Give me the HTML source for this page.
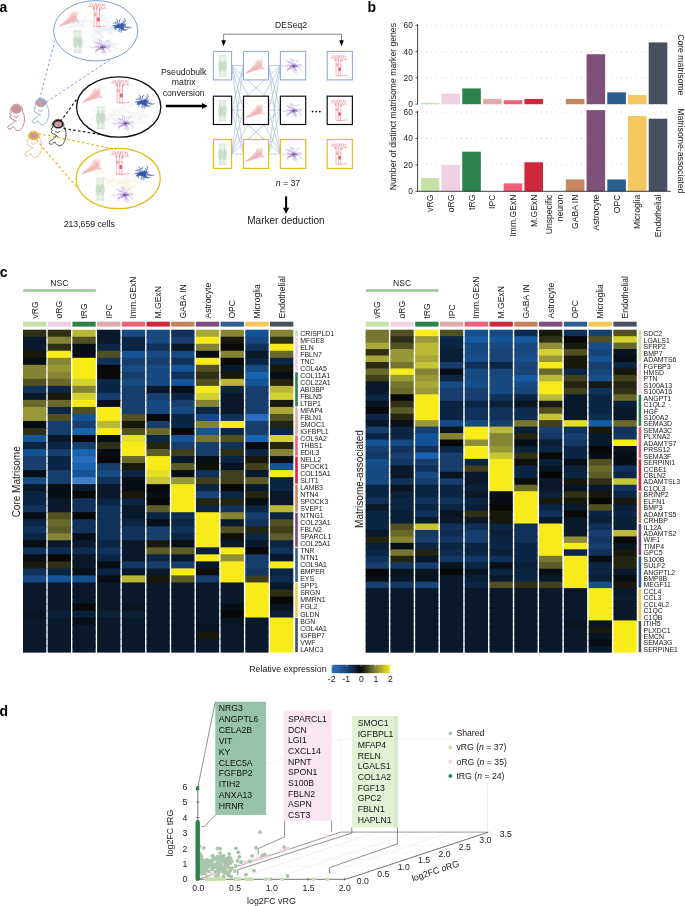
<!DOCTYPE html>
<html lang="en"><head><meta charset="utf-8"><title>Matrisome marker figure</title>
<style>
html,body{margin:0;padding:0;background:#fff;}
body{width:685px;height:906px;overflow:hidden;}
svg{display:block;font-family:"Liberation Sans", sans-serif;}
</style></head><body>
<svg width="685" height="906" viewBox="0 0 685 906">
<rect width="685" height="906" fill="#fff"/>
<text x="-0.60" y="12.00" font-size="14" font-weight="bold" fill="#000">a</text>
<g fill="none" stroke-width="1" stroke-dasharray="2.6 2.3">
<path d="M39.5,99.5 L54.8,41 M46.5,102 L112,58.5" stroke="#7f9fda"/>
<path d="M60.5,121.5 L78,97.5 M63.5,128.5 L101,134.5" stroke="#1a1a1a" stroke-width="1.2"/>
<path d="M38.5,133.5 L116,149.5 M36.5,140 L77.5,188" stroke="#e8bb1e" stroke-width="1.25"/>
</g>
<g fill="#dfe7f4" fill-opacity="0.42" stroke="none"><polygon points="81.2,50.1 79.0,43.4 70.4,38.1 81.7,40.1 88.9,40.0 83.3,43.2"/><polygon points="109.2,25.0 115.0,29.0 124.9,32.4 113.2,32.2 105.8,35.9 110.6,30.7"/><polygon points="98.0,9.6 105.7,16.9 115.4,16.0 107.8,20.0 110.4,28.3 103.1,21.0 94.6,21.7 101.0,18.2"/><polygon points="95.8,50.5 105.6,44.1 109.1,40.1 112.2,44.4 121.2,49.9 109.2,47.1"/><polygon points="93.0,43.4 106.8,42.8 108.9,37.5 111.6,42.0 120.3,44.2 111.2,45.9 107.9,50.9 105.4,45.6"/><polygon points="89.1,42.6 93.7,39.1 89.8,32.1 97.7,37.4 106.1,36.1 99.7,40.1 103.0,46.2 95.9,42.0"/><polygon points="97.3,22.4 100.3,28.5 113.5,28.8 101.3,31.2 100.0,37.8 96.4,31.6 89.7,30.4 96.7,28.8"/><polygon points="67.6,28.2 72.6,23.3 75.4,17.6 79.7,22.9 88.2,28.0 76.5,26.6"/><polygon points="95.5,28.6 106.6,27.8 112.6,25.4 111.8,29.8 112.7,36.9 106.4,30.8"/><polygon points="91.5,34.8 94.8,31.9 90.5,24.5 98.6,30.7 108.8,28.2 101.7,33.0 104.6,39.6 97.1,34.4"/><polygon points="99.1,23.4 84.8,22.5 80.6,30.8 81.1,22.4 69.8,19.5 82.2,20.0 85.6,15.2 86.9,20.0"/></g>
<g transform="translate(70.70 18.30) scale(1.05)" opacity="1.0" fill="none" stroke="#eda3a3" stroke-width="0.3" stroke-linecap="round"><path d="M-10.5,7.2 C-7.5,5 -5.5,3 -4,1.5 C-2.6,0 -1.4,-1.4 -0.5,-2.5 L1.5,-7 L2.6,-4 L4.2,-8 L4.8,-4.2 L6.8,-7.6 L6.4,-2.5 C6.4,-1 6.2,-0.2 6.4,0.6 C7.2,2 8,3 9.2,4.2 C7.6,4 6.6,3.5 5.4,3.2 C4,3.4 2.6,3.8 1,4.4 C-1,5.2 -2.6,5.6 -4,6 C-6,6.6 -8.4,7 -10.5,7.2 Z" fill="#eda3a3" fill-opacity="0.5" stroke="none"/><path d="M-5,4.4 C-2.5,2.2 0,0 1.6,-2.4 L4.4,-3 L5.4,-0.6 C5,1 4,2.2 2,3 C-0.5,3.8 -3,4.2 -5,4.4 Z" fill="#eda3a3" fill-opacity="0.45" stroke="none"/><path d="M-10.4,7.2 Q-3.0,1.2 0.8,-5.6 M-10.6,7.3 Q-2.7,1.5 1.9,-5.1 M-10.0,7.2 Q-2.4,1.9 2.4,-4.0 M-10.2,7.1 Q-2.1,2.2 3.6,-2.8 M-10.3,7.3 Q-1.8,2.5 4.2,-1.4 M-10.1,7.2 Q-1.4,2.8 5.0,-1.3 M-10.1,7.2 Q-1.1,3.2 5.5,-0.4 M-10.2,7.4 Q-0.8,3.5 6.6,1.4 M-10.3,7.4 Q-0.5,3.8 7.1,2.3" stroke-opacity="0.7"/></g>
<g transform="translate(96.70 15.80) scale(1.12)" opacity="1.0" fill="none" stroke="#ea5f6b" stroke-width="0.42" stroke-linecap="round"><path d="M-2.3,-5.5 L-2.3,9.6 L3,9.9 M0.1,-6 L0.1,9.7 M2.5,-5.5 L2.5,4 L2.1,9.8 L8.6,9.1 M-2.3,-5.5 L-5.6,-8.6 L-7.4,-8.2 M-5.6,-8.6 L-6,-10.6 M-2.3,-5.5 L-3.6,-10.4 M-3.1,-8.4 L-4.6,-10.8 M-2.3,-6 L-1.2,-10.8 M0.1,-6 L-0.5,-11 M0.1,-6 L1.5,-10.4 M0.9,-8.6 L2.3,-10.9 M2.5,-5.5 L3.3,-10.4 M2.5,-5.5 L5.4,-9.2 L5.2,-11 M5.4,-9.2 L7.4,-10 M2.5,-5 L6.6,-7 L8.4,-6.6 M6.6,-7 L7.6,-8.8 M-1,-3 L-2.3,-1.4 M1.3,-2 L2.5,-0.8"/><ellipse cx="1.4" cy="3.2" rx="1.35" ry="2" fill="#ea5f6b" stroke="none"/><ellipse cx="-1.1" cy="-0.8" rx="0.8" ry="1.4" fill="#ea5f6b" fill-opacity="0.55" stroke="none"/></g>
<g transform="translate(120.20 26.30) scale(1.0)" opacity="1.0" fill="none" stroke="#3458a8" stroke-width="0.65" stroke-linecap="round" stroke-linejoin="round"><path d="M5.8,1.1 L8.3,0.5 M8.7,1.7 L11.3,1.1 M0,0 L2.9,0.6 L5.8,1.1 L8.7,1.7 M3.5,2.1 L3.2,3.6 M5.0,3.4 L7.1,3.4 M0,0 L1.9,1.0 L3.5,2.1 L5.0,3.4 M2.6,2.4 L2.3,3.7 M3.5,3.7 L5.4,4.1 M0,0 L1.5,1.1 L2.6,2.4 L3.5,3.7 M0,0 L0.4,2.0 L1.3,3.9 L1.1,5.9 M-0.8,3.0 L0.3,4.2 M-1.5,4.5 L-0.5,5.7 M0,0 L-0.5,1.5 L-0.8,3.0 L-1.5,4.5 M-4.6,2.7 L-4.5,3.9 M0,0 L-1.6,0.8 L-3.1,1.7 L-4.6,2.7 M-4.9,1.2 L-5.8,2.0 M0,0 L-1.6,0.5 L-3.3,0.7 L-4.9,1.2 M-4.1,-0.7 L-5.8,0.0 M-6.3,-0.8 L-8.0,-0.2 M0,0 L-2.0,-0.5 L-4.1,-0.7 L-6.3,-0.8 M-2.5,-3.6 L-4.6,-4.6 M-2.6,-5.6 L-3.9,-7.2 M0,0 L-1.7,-1.6 L-2.5,-3.6 L-2.6,-5.6 M-5.0,-3.4 L-7.1,-3.2 M0,0 L-1.7,-1.1 L-3.3,-2.3 L-5.0,-3.4 M-0.8,-5.7 L0.3,-7.3 M0,0 L-0.2,-1.9 L-0.5,-3.8 L-0.8,-5.7 M3.7,-3.9 L2.7,-5.8 M5.0,-6.0 L4.2,-8.0 M0,0 L2.1,-1.8 L3.7,-3.9 L5.0,-6.0 M0,0 L2.1,-0.5 L4.0,-1.2 L5.7,-2.2 M-2.1,-0.7 L-3.2,-0.6 M-3.1,-1.3 L-4.1,-1.3 M0,0 L-1.1,-0.3 L-2.1,-0.7 L-3.1,-1.3 M1.3,-1.3 L1.3,-2.0 M1.7,-2.0 L1.6,-2.7 M0,0 L0.7,-0.6 L1.3,-1.3 L1.7,-2.0 M1.8,1.4 L3.0,1.5 M2.3,2.3 L1.7,3.1 M0,0 L1.0,0.7 L1.8,1.4 L2.3,2.3 M0,0 L0.9,-0.1 L1.9,-0.2 L2.8,-0.4 M0,0 L1.1,0.6 L2.0,1.4 L2.7,2.3 M0,0 L1.1,-0.4 L2.4,-0.5 L3.6,-0.6 M2.0,-1.5 L2.2,-2.4 M0,0 L1.0,-0.7 L2.0,-1.5 L3.0,-2.2 M2.3,-1.6 L3.7,-1.5 M3.6,-2.2 L4.0,-3.2 M0,0 L1.1,-0.8 L2.3,-1.6 L3.6,-2.2 M2.1,1.3 L2.9,1.4 M0,0 L0.6,0.5 L1.4,0.9 L2.1,1.3 M1.6,1.8 L1.2,2.7 M2.5,2.6 L2.6,3.6 M0,0 L0.9,0.8 L1.6,1.8 L2.5,2.6 M-3.3,0.0 L-4.4,-0.7 M-4.9,0.2 L-5.7,1.1 M0,0 L-1.6,0.2 L-3.3,0.0 L-4.9,0.2 M2.0,-0.9 L2.1,-1.7 M2.9,-1.4 L3.9,-1.3 M0,0 L1.0,-0.4 L2.0,-0.9 L2.9,-1.4 M1.6,-1.8 L1.4,-2.8 M2.3,-2.7 L2.0,-3.6 M0,0 L0.7,-1.0 L1.6,-1.8 L2.3,-2.7 M0,0 L-1.0,0.3 L-1.9,0.7 L-2.9,1.0 M1.4,1.0 L2.3,1.1 M2.2,1.5 L3.1,1.3 M0,0 L0.7,0.5 L1.4,1.0 L2.2,1.5 M0,0 L-0.4,-1.0 L-1.1,-1.9 L-1.7,-2.8 M-3.6,0.3 L-5.0,0.9 M0,0 L-1.8,0.3 L-3.6,0.3 L-5.4,-0.1 M1.3,1.6 L0.9,2.5 M1.7,2.6 L2.6,3.1 M0,0 L0.8,0.8 L1.3,1.6 L1.7,2.6 M0,0 L1.7,-0.4 L3.5,-0.7 L5.2,-1.2 M0.9,-1.7 L1.8,-2.1 M0,0 L0.4,-0.8 L0.9,-1.7 L0.9,-2.6 M4.9,0.0 L5.9,0.8 M0,0 L1.6,0.2 L3.3,0.3 L4.9,0.0 M-3.2,1.1 L-4.7,0.6 M-4.8,1.7 L-6.4,1.5 M0,0 L-1.7,0.4 L-3.2,1.1 L-4.8,1.7"/><ellipse cx="0" cy="0" rx="2.9" ry="2.17" fill="#3458a8" stroke="none"/></g>
<g transform="translate(77.70 41.60) scale(1.0)" opacity="1.0" fill="none" stroke="#a6caab" stroke-width="0.4"><path d="M-3.4000000000000004,-10.8 L-3.3,-5 C-4.5,-2 -4.5,3 -3.3,6 L-3.4000000000000004,10.8 M-0.8,-10.8 L-0.9000000000000001,-5 C0.2999999999999998,-2 0.2999999999999998,3 -0.9000000000000001,6 L-0.8,10.8 M-2.1,-10.8 L-2.1,10.8 M0.8,-10.8 L0.9000000000000001,-5 C-0.2999999999999998,-2 -0.2999999999999998,3 0.9000000000000001,6 L0.8,10.8 M3.4000000000000004,-10.8 L3.3,-5 C4.5,-2 4.5,3 3.3,6 L3.4000000000000004,10.8 M2.1,-10.8 L2.1,10.8 M-4.6,-10.6 L4.8,-11.2 M-4.2,10.9 L4.2,10.9"/><ellipse cx="-2.1" cy="0.5" rx="2.1" ry="5.6" fill="#a6caab" fill-opacity="0.5" stroke="none"/><ellipse cx="2.1" cy="0.5" rx="2.1" ry="5.6" fill="#a6caab" fill-opacity="0.5" stroke="none"/></g>
<g transform="translate(102.20 47.30) scale(1.0)" opacity="1.0" fill="none" stroke="#8a63bd" stroke-width="0.3" stroke-linecap="round" stroke-linejoin="round"><path d="M7.7,3.2 L7.2,5.0 M0,0 L3.0,0.5 L5.7,1.6 L7.7,3.2 M6.5,0.2 L8.2,-0.4 M0,0 L2.2,0.2 L4.3,0.3 L6.5,0.2 M1.6,3.1 L3.2,4.1 M2.0,4.7 L4.1,5.3 M0,0 L1.0,1.5 L1.6,3.1 L2.0,4.7 M0.7,4.1 L-1.2,5.5 M1.4,6.2 L3.4,7.5 M0,0 L-0.0,2.1 L0.7,4.1 L1.4,6.2 M-3.5,2.1 L-5.6,2.4 M-4.8,3.4 L-6.9,3.6 M0,0 L-1.8,1.0 L-3.5,2.1 L-4.8,3.4 M-4.4,2.5 L-7.1,2.6 M-6.1,4.1 L-6.3,5.8 M0,0 L-2.5,1.0 L-4.4,2.5 L-6.1,4.1 M-4.1,-0.7 L-5.1,-1.8 M-6.1,-1.2 L-7.8,-0.7 M0,0 L-2.1,-0.2 L-4.1,-0.7 L-6.1,-1.2 M-10.2,0.7 L-12.6,-0.6 M0,0 L-3.4,-0.1 L-6.8,0.3 L-10.2,0.7 M-3.9,-3.2 L-6.5,-4.0 M-5.5,-5.0 L-8.1,-5.7 M0,0 L-2.2,-1.5 L-3.9,-3.2 L-5.5,-5.0 M-2.2,-3.5 L-4.6,-4.0 M-3.0,-5.3 L-2.3,-6.9 M0,0 L-0.9,-1.8 L-2.2,-3.5 L-3.0,-5.3 M-0.5,-4.6 L1.8,-6.0 M-0.9,-6.9 L-3.8,-7.8 M0,0 L-0.1,-2.3 L-0.5,-4.6 L-0.9,-6.9 M3.9,-5.8 L6.3,-6.9 M0,0 L1.7,-1.8 L2.7,-3.8 L3.9,-5.8 M4.3,-1.0 L4.7,-2.4 M6.4,-1.7 L8.4,-1.3 M0,0 L2.2,-0.4 L4.3,-1.0 L6.4,-1.7 M-0.2,2.1 L-1.1,2.3 M0,0 L-0.0,0.7 L0.1,1.4 L-0.2,2.1 M0.9,1.4 L1.9,1.5 M1.1,2.1 L2.0,2.4 M0,0 L0.5,0.7 L0.9,1.4 L1.1,2.1 M-2.2,2.1 L-3.3,2.1 M0,0 L-0.7,0.7 L-1.3,1.4 L-2.2,2.1 M-1.4,-0.4 L-1.7,-0.8 M-2.1,-0.6 L-2.4,-1.0 M0,0 L-0.7,-0.3 L-1.4,-0.4 L-2.1,-0.6 M-1.6,-2.3 L-0.8,-2.9 M0,0 L-0.6,-0.8 L-1.2,-1.5 L-1.6,-2.3 M-3.4,-0.1 L-4.2,-0.5 M0,0 L-1.1,0.1 L-2.3,0.0 L-3.4,-0.1 M0.7,-1.5 L1.6,-1.8 M0.6,-2.3 L1.3,-2.8 M0,0 L0.4,-0.7 L0.7,-1.5 L0.6,-2.3 M1.7,2.3 L2.5,2.9 M0,0 L0.8,0.7 L1.4,1.5 L1.7,2.3 M2.2,-0.3 L2.7,-0.9 M0,0 L1.1,-0.1 L2.2,-0.3 L3.2,-0.6 M2.1,-0.3 L2.8,0.2 M3.1,-0.4 L3.9,-0.0 M0,0 L1.0,-0.1 L2.1,-0.3 L3.1,-0.4 M-2.0,0.8 L-3.0,0.7 M-2.9,1.4 L-3.9,1.2 M0,0 L-0.9,0.5 L-2.0,0.8 L-2.9,1.4 M2.4,-0.3 L3.2,-0.7 M3.5,-0.1 L4.0,0.6 M0,0 L1.2,-0.2 L2.4,-0.3 L3.5,-0.1 M1.4,-1.0 L2.3,-1.1 M2.2,-1.4 L3.1,-1.3 M0,0 L0.8,-0.5 L1.4,-1.0 L2.2,-1.4 M-0.3,1.2 L-0.9,1.6 M-0.2,1.8 L-0.7,2.3 M0,0 L0.0,0.6 L-0.3,1.2 L-0.2,1.8 M1.7,0.2 L2.2,-0.2 M2.5,0.4 L2.7,0.9 M0,0 L0.8,0.1 L1.7,0.2 L2.5,0.4 M-0.0,-1.3 L-0.3,-1.8 M-0.1,-1.9 L0.4,-2.3 M0,0 L-0.2,-0.6 L-0.0,-1.3 L-0.1,-1.9"/><ellipse cx="0" cy="0" rx="1.2" ry="0.90" fill="#6a3fa8" stroke="none"/></g>
<ellipse cx="95.7" cy="30.8" rx="42.1" ry="30.2" fill="none" stroke="#6f92d2" stroke-width="0.9"/>
<g fill="#ececec" fill-opacity="0.42" stroke="none"><polygon points="149.7,125.3 140.6,123.0 127.8,125.8 137.4,120.1 141.3,115.3 142.9,120.8"/><polygon points="90.9,107.0 100.6,111.5 109.4,109.1 103.1,114.2 110.4,121.7 100.0,116.1 88.5,120.4 96.2,113.9"/><polygon points="101.2,125.6 112.5,120.7 110.5,116.0 115.5,119.6 122.7,118.4 116.9,121.5 120.3,127.9 113.9,122.8"/><polygon points="125.3,102.1 125.0,109.4 134.9,113.3 123.1,112.8 118.3,117.2 117.5,112.0 106.1,107.8 120.2,109.4"/><polygon points="126.4,109.9 132.4,113.4 141.7,110.7 135.0,115.4 140.0,122.7 131.2,117.2 122.4,119.2 127.8,114.5"/><polygon points="104.7,115.8 112.1,114.2 113.0,106.6 115.6,114.2 129.5,114.5 116.1,116.4 115.5,125.2 112.4,116.6"/><polygon points="137.3,120.3 137.9,115.6 126.3,111.0 139.5,112.7 143.9,109.9 144.4,113.8 153.6,118.1 142.4,117.2"/><polygon points="100.0,113.6 106.9,113.7 118.4,111.1 110.8,117.1 107.9,124.9 105.3,116.6"/><polygon points="98.2,122.2 108.7,117.4 110.8,111.3 112.4,117.4 121.7,122.7 110.3,119.4"/><polygon points="134.7,99.7 136.6,95.0 136.9,87.1 142.9,94.3 148.0,96.9 141.6,97.8"/><polygon points="149.3,102.2 135.3,103.9 126.3,109.6 131.1,101.9 128.0,95.3 135.0,100.5"/></g>
<g transform="translate(93.70 94.50) scale(1.05)" opacity="1.0" fill="none" stroke="#eda3a3" stroke-width="0.3" stroke-linecap="round"><path d="M-10.5,7.2 C-7.5,5 -5.5,3 -4,1.5 C-2.6,0 -1.4,-1.4 -0.5,-2.5 L1.5,-7 L2.6,-4 L4.2,-8 L4.8,-4.2 L6.8,-7.6 L6.4,-2.5 C6.4,-1 6.2,-0.2 6.4,0.6 C7.2,2 8,3 9.2,4.2 C7.6,4 6.6,3.5 5.4,3.2 C4,3.4 2.6,3.8 1,4.4 C-1,5.2 -2.6,5.6 -4,6 C-6,6.6 -8.4,7 -10.5,7.2 Z" fill="#eda3a3" fill-opacity="0.5" stroke="none"/><path d="M-5,4.4 C-2.5,2.2 0,0 1.6,-2.4 L4.4,-3 L5.4,-0.6 C5,1 4,2.2 2,3 C-0.5,3.8 -3,4.2 -5,4.4 Z" fill="#eda3a3" fill-opacity="0.45" stroke="none"/><path d="M-10.4,7.2 Q-3.0,1.2 0.8,-5.6 M-10.6,7.3 Q-2.7,1.5 1.9,-5.1 M-10.0,7.2 Q-2.4,1.9 2.4,-4.0 M-10.2,7.1 Q-2.1,2.2 3.6,-2.8 M-10.3,7.3 Q-1.8,2.5 4.2,-1.4 M-10.1,7.2 Q-1.4,2.8 5.0,-1.3 M-10.1,7.2 Q-1.1,3.2 5.5,-0.4 M-10.2,7.4 Q-0.8,3.5 6.6,1.4 M-10.3,7.4 Q-0.5,3.8 7.1,2.3" stroke-opacity="0.7"/></g>
<g transform="translate(119.70 92.00) scale(1.12)" opacity="1.0" fill="none" stroke="#ea5f6b" stroke-width="0.42" stroke-linecap="round"><path d="M-2.3,-5.5 L-2.3,9.6 L3,9.9 M0.1,-6 L0.1,9.7 M2.5,-5.5 L2.5,4 L2.1,9.8 L8.6,9.1 M-2.3,-5.5 L-5.6,-8.6 L-7.4,-8.2 M-5.6,-8.6 L-6,-10.6 M-2.3,-5.5 L-3.6,-10.4 M-3.1,-8.4 L-4.6,-10.8 M-2.3,-6 L-1.2,-10.8 M0.1,-6 L-0.5,-11 M0.1,-6 L1.5,-10.4 M0.9,-8.6 L2.3,-10.9 M2.5,-5.5 L3.3,-10.4 M2.5,-5.5 L5.4,-9.2 L5.2,-11 M5.4,-9.2 L7.4,-10 M2.5,-5 L6.6,-7 L8.4,-6.6 M6.6,-7 L7.6,-8.8 M-1,-3 L-2.3,-1.4 M1.3,-2 L2.5,-0.8"/><ellipse cx="1.4" cy="3.2" rx="1.35" ry="2" fill="#ea5f6b" stroke="none"/><ellipse cx="-1.1" cy="-0.8" rx="0.8" ry="1.4" fill="#ea5f6b" fill-opacity="0.55" stroke="none"/></g>
<g transform="translate(143.20 102.50) scale(1.0)" opacity="1.0" fill="none" stroke="#3458a8" stroke-width="0.65" stroke-linecap="round" stroke-linejoin="round"><path d="M5.8,1.1 L8.3,0.5 M8.7,1.7 L11.3,1.1 M0,0 L2.9,0.6 L5.8,1.1 L8.7,1.7 M3.5,2.1 L3.2,3.6 M5.0,3.4 L7.1,3.4 M0,0 L1.9,1.0 L3.5,2.1 L5.0,3.4 M2.6,2.4 L2.3,3.7 M3.5,3.7 L5.4,4.1 M0,0 L1.5,1.1 L2.6,2.4 L3.5,3.7 M0,0 L0.4,2.0 L1.3,3.9 L1.1,5.9 M-0.8,3.0 L0.3,4.2 M-1.5,4.5 L-0.5,5.7 M0,0 L-0.5,1.5 L-0.8,3.0 L-1.5,4.5 M-4.6,2.7 L-4.5,3.9 M0,0 L-1.6,0.8 L-3.1,1.7 L-4.6,2.7 M-4.9,1.2 L-5.8,2.0 M0,0 L-1.6,0.5 L-3.3,0.7 L-4.9,1.2 M-4.1,-0.7 L-5.8,0.0 M-6.3,-0.8 L-8.0,-0.2 M0,0 L-2.0,-0.5 L-4.1,-0.7 L-6.3,-0.8 M-2.5,-3.6 L-4.6,-4.6 M-2.6,-5.6 L-3.9,-7.2 M0,0 L-1.7,-1.6 L-2.5,-3.6 L-2.6,-5.6 M-5.0,-3.4 L-7.1,-3.2 M0,0 L-1.7,-1.1 L-3.3,-2.3 L-5.0,-3.4 M-0.8,-5.7 L0.3,-7.3 M0,0 L-0.2,-1.9 L-0.5,-3.8 L-0.8,-5.7 M3.7,-3.9 L2.7,-5.8 M5.0,-6.0 L4.2,-8.0 M0,0 L2.1,-1.8 L3.7,-3.9 L5.0,-6.0 M0,0 L2.1,-0.5 L4.0,-1.2 L5.7,-2.2 M-2.1,-0.7 L-3.2,-0.6 M-3.1,-1.3 L-4.1,-1.3 M0,0 L-1.1,-0.3 L-2.1,-0.7 L-3.1,-1.3 M1.3,-1.3 L1.3,-2.0 M1.7,-2.0 L1.6,-2.7 M0,0 L0.7,-0.6 L1.3,-1.3 L1.7,-2.0 M1.8,1.4 L3.0,1.5 M2.3,2.3 L1.7,3.1 M0,0 L1.0,0.7 L1.8,1.4 L2.3,2.3 M0,0 L0.9,-0.1 L1.9,-0.2 L2.8,-0.4 M0,0 L1.1,0.6 L2.0,1.4 L2.7,2.3 M0,0 L1.1,-0.4 L2.4,-0.5 L3.6,-0.6 M2.0,-1.5 L2.2,-2.4 M0,0 L1.0,-0.7 L2.0,-1.5 L3.0,-2.2 M2.3,-1.6 L3.7,-1.5 M3.6,-2.2 L4.0,-3.2 M0,0 L1.1,-0.8 L2.3,-1.6 L3.6,-2.2 M2.1,1.3 L2.9,1.4 M0,0 L0.6,0.5 L1.4,0.9 L2.1,1.3 M1.6,1.8 L1.2,2.7 M2.5,2.6 L2.6,3.6 M0,0 L0.9,0.8 L1.6,1.8 L2.5,2.6 M-3.3,0.0 L-4.4,-0.7 M-4.9,0.2 L-5.7,1.1 M0,0 L-1.6,0.2 L-3.3,0.0 L-4.9,0.2 M2.0,-0.9 L2.1,-1.7 M2.9,-1.4 L3.9,-1.3 M0,0 L1.0,-0.4 L2.0,-0.9 L2.9,-1.4 M1.6,-1.8 L1.4,-2.8 M2.3,-2.7 L2.0,-3.6 M0,0 L0.7,-1.0 L1.6,-1.8 L2.3,-2.7 M0,0 L-1.0,0.3 L-1.9,0.7 L-2.9,1.0 M1.4,1.0 L2.3,1.1 M2.2,1.5 L3.1,1.3 M0,0 L0.7,0.5 L1.4,1.0 L2.2,1.5 M0,0 L-0.4,-1.0 L-1.1,-1.9 L-1.7,-2.8 M-3.6,0.3 L-5.0,0.9 M0,0 L-1.8,0.3 L-3.6,0.3 L-5.4,-0.1 M1.3,1.6 L0.9,2.5 M1.7,2.6 L2.6,3.1 M0,0 L0.8,0.8 L1.3,1.6 L1.7,2.6 M0,0 L1.7,-0.4 L3.5,-0.7 L5.2,-1.2 M0.9,-1.7 L1.8,-2.1 M0,0 L0.4,-0.8 L0.9,-1.7 L0.9,-2.6 M4.9,0.0 L5.9,0.8 M0,0 L1.6,0.2 L3.3,0.3 L4.9,0.0 M-3.2,1.1 L-4.7,0.6 M-4.8,1.7 L-6.4,1.5 M0,0 L-1.7,0.4 L-3.2,1.1 L-4.8,1.7"/><ellipse cx="0" cy="0" rx="2.9" ry="2.17" fill="#3458a8" stroke="none"/></g>
<g transform="translate(100.70 117.80) scale(1.0)" opacity="1.0" fill="none" stroke="#a6caab" stroke-width="0.4"><path d="M-3.4000000000000004,-10.8 L-3.3,-5 C-4.5,-2 -4.5,3 -3.3,6 L-3.4000000000000004,10.8 M-0.8,-10.8 L-0.9000000000000001,-5 C0.2999999999999998,-2 0.2999999999999998,3 -0.9000000000000001,6 L-0.8,10.8 M-2.1,-10.8 L-2.1,10.8 M0.8,-10.8 L0.9000000000000001,-5 C-0.2999999999999998,-2 -0.2999999999999998,3 0.9000000000000001,6 L0.8,10.8 M3.4000000000000004,-10.8 L3.3,-5 C4.5,-2 4.5,3 3.3,6 L3.4000000000000004,10.8 M2.1,-10.8 L2.1,10.8 M-4.6,-10.6 L4.8,-11.2 M-4.2,10.9 L4.2,10.9"/><ellipse cx="-2.1" cy="0.5" rx="2.1" ry="5.6" fill="#a6caab" fill-opacity="0.5" stroke="none"/><ellipse cx="2.1" cy="0.5" rx="2.1" ry="5.6" fill="#a6caab" fill-opacity="0.5" stroke="none"/></g>
<g transform="translate(125.20 123.50) scale(1.0)" opacity="1.0" fill="none" stroke="#8a63bd" stroke-width="0.3" stroke-linecap="round" stroke-linejoin="round"><path d="M7.7,3.2 L7.2,5.0 M0,0 L3.0,0.5 L5.7,1.6 L7.7,3.2 M6.5,0.2 L8.2,-0.4 M0,0 L2.2,0.2 L4.3,0.3 L6.5,0.2 M1.6,3.1 L3.2,4.1 M2.0,4.7 L4.1,5.3 M0,0 L1.0,1.5 L1.6,3.1 L2.0,4.7 M0.7,4.1 L-1.2,5.5 M1.4,6.2 L3.4,7.5 M0,0 L-0.0,2.1 L0.7,4.1 L1.4,6.2 M-3.5,2.1 L-5.6,2.4 M-4.8,3.4 L-6.9,3.6 M0,0 L-1.8,1.0 L-3.5,2.1 L-4.8,3.4 M-4.4,2.5 L-7.1,2.6 M-6.1,4.1 L-6.3,5.8 M0,0 L-2.5,1.0 L-4.4,2.5 L-6.1,4.1 M-4.1,-0.7 L-5.1,-1.8 M-6.1,-1.2 L-7.8,-0.7 M0,0 L-2.1,-0.2 L-4.1,-0.7 L-6.1,-1.2 M-10.2,0.7 L-12.6,-0.6 M0,0 L-3.4,-0.1 L-6.8,0.3 L-10.2,0.7 M-3.9,-3.2 L-6.5,-4.0 M-5.5,-5.0 L-8.1,-5.7 M0,0 L-2.2,-1.5 L-3.9,-3.2 L-5.5,-5.0 M-2.2,-3.5 L-4.6,-4.0 M-3.0,-5.3 L-2.3,-6.9 M0,0 L-0.9,-1.8 L-2.2,-3.5 L-3.0,-5.3 M-0.5,-4.6 L1.8,-6.0 M-0.9,-6.9 L-3.8,-7.8 M0,0 L-0.1,-2.3 L-0.5,-4.6 L-0.9,-6.9 M3.9,-5.8 L6.3,-6.9 M0,0 L1.7,-1.8 L2.7,-3.8 L3.9,-5.8 M4.3,-1.0 L4.7,-2.4 M6.4,-1.7 L8.4,-1.3 M0,0 L2.2,-0.4 L4.3,-1.0 L6.4,-1.7 M-0.2,2.1 L-1.1,2.3 M0,0 L-0.0,0.7 L0.1,1.4 L-0.2,2.1 M0.9,1.4 L1.9,1.5 M1.1,2.1 L2.0,2.4 M0,0 L0.5,0.7 L0.9,1.4 L1.1,2.1 M-2.2,2.1 L-3.3,2.1 M0,0 L-0.7,0.7 L-1.3,1.4 L-2.2,2.1 M-1.4,-0.4 L-1.7,-0.8 M-2.1,-0.6 L-2.4,-1.0 M0,0 L-0.7,-0.3 L-1.4,-0.4 L-2.1,-0.6 M-1.6,-2.3 L-0.8,-2.9 M0,0 L-0.6,-0.8 L-1.2,-1.5 L-1.6,-2.3 M-3.4,-0.1 L-4.2,-0.5 M0,0 L-1.1,0.1 L-2.3,0.0 L-3.4,-0.1 M0.7,-1.5 L1.6,-1.8 M0.6,-2.3 L1.3,-2.8 M0,0 L0.4,-0.7 L0.7,-1.5 L0.6,-2.3 M1.7,2.3 L2.5,2.9 M0,0 L0.8,0.7 L1.4,1.5 L1.7,2.3 M2.2,-0.3 L2.7,-0.9 M0,0 L1.1,-0.1 L2.2,-0.3 L3.2,-0.6 M2.1,-0.3 L2.8,0.2 M3.1,-0.4 L3.9,-0.0 M0,0 L1.0,-0.1 L2.1,-0.3 L3.1,-0.4 M-2.0,0.8 L-3.0,0.7 M-2.9,1.4 L-3.9,1.2 M0,0 L-0.9,0.5 L-2.0,0.8 L-2.9,1.4 M2.4,-0.3 L3.2,-0.7 M3.5,-0.1 L4.0,0.6 M0,0 L1.2,-0.2 L2.4,-0.3 L3.5,-0.1 M1.4,-1.0 L2.3,-1.1 M2.2,-1.4 L3.1,-1.3 M0,0 L0.8,-0.5 L1.4,-1.0 L2.2,-1.4 M-0.3,1.2 L-0.9,1.6 M-0.2,1.8 L-0.7,2.3 M0,0 L0.0,0.6 L-0.3,1.2 L-0.2,1.8 M1.7,0.2 L2.2,-0.2 M2.5,0.4 L2.7,0.9 M0,0 L0.8,0.1 L1.7,0.2 L2.5,0.4 M-0.0,-1.3 L-0.3,-1.8 M-0.1,-1.9 L0.4,-2.3 M0,0 L-0.2,-0.6 L-0.0,-1.3 L-0.1,-1.9"/><ellipse cx="0" cy="0" rx="1.2" ry="0.90" fill="#6a3fa8" stroke="none"/></g>
<ellipse cx="118.7" cy="107.0" rx="42.1" ry="30.2" fill="none" stroke="#111" stroke-width="1.3"/>
<g fill="#fbf1dc" fill-opacity="0.42" stroke="none"><polygon points="118.7,178.0 111.9,182.3 115.2,188.8 107.6,184.3 98.7,185.5 105.5,181.2 104.0,176.7 109.6,179.5"/><polygon points="116.3,177.6 122.3,179.7 133.6,175.7 125.2,182.1 131.0,188.7 121.7,184.2 115.8,185.2 118.2,181.7"/><polygon points="128.6,169.3 127.6,174.8 132.8,183.2 122.9,176.6 109.8,175.5 122.6,173.4"/><polygon points="136.3,179.0 132.4,183.0 132.5,188.5 127.1,184.6 119.4,180.6 129.4,180.5"/><polygon points="100.6,177.2 110.5,178.9 115.7,175.2 114.0,180.2 125.3,185.1 112.1,181.9 107.0,186.4 108.2,181.4"/><polygon points="143.8,183.9 131.6,187.2 131.9,194.6 127.5,187.4 114.4,188.2 126.0,184.9 126.6,179.8 129.9,185.0"/><polygon points="131.3,198.5 131.7,194.0 132.4,189.8 137.4,192.6 146.9,194.7 136.7,195.5"/><polygon points="122.7,181.3 127.1,185.6 140.6,185.8 127.4,188.9 128.1,198.0 123.4,189.2 116.8,188.9 122.0,186.6"/><polygon points="97.1,178.1 96.5,173.2 84.0,169.4 98.2,170.5 102.3,165.4 101.5,171.3 114.1,174.5 101.0,173.6"/><polygon points="125.0,170.4 137.2,175.4 147.3,175.2 139.2,178.9 134.3,183.3 134.0,177.8"/><polygon points="152.3,181.6 143.4,182.7 140.7,186.0 138.6,182.5 128.2,180.5 139.9,180.1 142.2,172.8 143.5,179.8"/></g>
<g transform="translate(93.20 166.00) scale(1.05)" opacity="1.0" fill="none" stroke="#eda3a3" stroke-width="0.3" stroke-linecap="round"><path d="M-10.5,7.2 C-7.5,5 -5.5,3 -4,1.5 C-2.6,0 -1.4,-1.4 -0.5,-2.5 L1.5,-7 L2.6,-4 L4.2,-8 L4.8,-4.2 L6.8,-7.6 L6.4,-2.5 C6.4,-1 6.2,-0.2 6.4,0.6 C7.2,2 8,3 9.2,4.2 C7.6,4 6.6,3.5 5.4,3.2 C4,3.4 2.6,3.8 1,4.4 C-1,5.2 -2.6,5.6 -4,6 C-6,6.6 -8.4,7 -10.5,7.2 Z" fill="#eda3a3" fill-opacity="0.5" stroke="none"/><path d="M-5,4.4 C-2.5,2.2 0,0 1.6,-2.4 L4.4,-3 L5.4,-0.6 C5,1 4,2.2 2,3 C-0.5,3.8 -3,4.2 -5,4.4 Z" fill="#eda3a3" fill-opacity="0.45" stroke="none"/><path d="M-10.4,7.2 Q-3.0,1.2 0.8,-5.6 M-10.6,7.3 Q-2.7,1.5 1.9,-5.1 M-10.0,7.2 Q-2.4,1.9 2.4,-4.0 M-10.2,7.1 Q-2.1,2.2 3.6,-2.8 M-10.3,7.3 Q-1.8,2.5 4.2,-1.4 M-10.1,7.2 Q-1.4,2.8 5.0,-1.3 M-10.1,7.2 Q-1.1,3.2 5.5,-0.4 M-10.2,7.4 Q-0.8,3.5 6.6,1.4 M-10.3,7.4 Q-0.5,3.8 7.1,2.3" stroke-opacity="0.7"/></g>
<g transform="translate(119.20 163.50) scale(1.12)" opacity="1.0" fill="none" stroke="#ea5f6b" stroke-width="0.42" stroke-linecap="round"><path d="M-2.3,-5.5 L-2.3,9.6 L3,9.9 M0.1,-6 L0.1,9.7 M2.5,-5.5 L2.5,4 L2.1,9.8 L8.6,9.1 M-2.3,-5.5 L-5.6,-8.6 L-7.4,-8.2 M-5.6,-8.6 L-6,-10.6 M-2.3,-5.5 L-3.6,-10.4 M-3.1,-8.4 L-4.6,-10.8 M-2.3,-6 L-1.2,-10.8 M0.1,-6 L-0.5,-11 M0.1,-6 L1.5,-10.4 M0.9,-8.6 L2.3,-10.9 M2.5,-5.5 L3.3,-10.4 M2.5,-5.5 L5.4,-9.2 L5.2,-11 M5.4,-9.2 L7.4,-10 M2.5,-5 L6.6,-7 L8.4,-6.6 M6.6,-7 L7.6,-8.8 M-1,-3 L-2.3,-1.4 M1.3,-2 L2.5,-0.8"/><ellipse cx="1.4" cy="3.2" rx="1.35" ry="2" fill="#ea5f6b" stroke="none"/><ellipse cx="-1.1" cy="-0.8" rx="0.8" ry="1.4" fill="#ea5f6b" fill-opacity="0.55" stroke="none"/></g>
<g transform="translate(142.70 174.00) scale(1.0)" opacity="1.0" fill="none" stroke="#3458a8" stroke-width="0.65" stroke-linecap="round" stroke-linejoin="round"><path d="M5.8,1.1 L8.3,0.5 M8.7,1.7 L11.3,1.1 M0,0 L2.9,0.6 L5.8,1.1 L8.7,1.7 M3.5,2.1 L3.2,3.6 M5.0,3.4 L7.1,3.4 M0,0 L1.9,1.0 L3.5,2.1 L5.0,3.4 M2.6,2.4 L2.3,3.7 M3.5,3.7 L5.4,4.1 M0,0 L1.5,1.1 L2.6,2.4 L3.5,3.7 M0,0 L0.4,2.0 L1.3,3.9 L1.1,5.9 M-0.8,3.0 L0.3,4.2 M-1.5,4.5 L-0.5,5.7 M0,0 L-0.5,1.5 L-0.8,3.0 L-1.5,4.5 M-4.6,2.7 L-4.5,3.9 M0,0 L-1.6,0.8 L-3.1,1.7 L-4.6,2.7 M-4.9,1.2 L-5.8,2.0 M0,0 L-1.6,0.5 L-3.3,0.7 L-4.9,1.2 M-4.1,-0.7 L-5.8,0.0 M-6.3,-0.8 L-8.0,-0.2 M0,0 L-2.0,-0.5 L-4.1,-0.7 L-6.3,-0.8 M-2.5,-3.6 L-4.6,-4.6 M-2.6,-5.6 L-3.9,-7.2 M0,0 L-1.7,-1.6 L-2.5,-3.6 L-2.6,-5.6 M-5.0,-3.4 L-7.1,-3.2 M0,0 L-1.7,-1.1 L-3.3,-2.3 L-5.0,-3.4 M-0.8,-5.7 L0.3,-7.3 M0,0 L-0.2,-1.9 L-0.5,-3.8 L-0.8,-5.7 M3.7,-3.9 L2.7,-5.8 M5.0,-6.0 L4.2,-8.0 M0,0 L2.1,-1.8 L3.7,-3.9 L5.0,-6.0 M0,0 L2.1,-0.5 L4.0,-1.2 L5.7,-2.2 M-2.1,-0.7 L-3.2,-0.6 M-3.1,-1.3 L-4.1,-1.3 M0,0 L-1.1,-0.3 L-2.1,-0.7 L-3.1,-1.3 M1.3,-1.3 L1.3,-2.0 M1.7,-2.0 L1.6,-2.7 M0,0 L0.7,-0.6 L1.3,-1.3 L1.7,-2.0 M1.8,1.4 L3.0,1.5 M2.3,2.3 L1.7,3.1 M0,0 L1.0,0.7 L1.8,1.4 L2.3,2.3 M0,0 L0.9,-0.1 L1.9,-0.2 L2.8,-0.4 M0,0 L1.1,0.6 L2.0,1.4 L2.7,2.3 M0,0 L1.1,-0.4 L2.4,-0.5 L3.6,-0.6 M2.0,-1.5 L2.2,-2.4 M0,0 L1.0,-0.7 L2.0,-1.5 L3.0,-2.2 M2.3,-1.6 L3.7,-1.5 M3.6,-2.2 L4.0,-3.2 M0,0 L1.1,-0.8 L2.3,-1.6 L3.6,-2.2 M2.1,1.3 L2.9,1.4 M0,0 L0.6,0.5 L1.4,0.9 L2.1,1.3 M1.6,1.8 L1.2,2.7 M2.5,2.6 L2.6,3.6 M0,0 L0.9,0.8 L1.6,1.8 L2.5,2.6 M-3.3,0.0 L-4.4,-0.7 M-4.9,0.2 L-5.7,1.1 M0,0 L-1.6,0.2 L-3.3,0.0 L-4.9,0.2 M2.0,-0.9 L2.1,-1.7 M2.9,-1.4 L3.9,-1.3 M0,0 L1.0,-0.4 L2.0,-0.9 L2.9,-1.4 M1.6,-1.8 L1.4,-2.8 M2.3,-2.7 L2.0,-3.6 M0,0 L0.7,-1.0 L1.6,-1.8 L2.3,-2.7 M0,0 L-1.0,0.3 L-1.9,0.7 L-2.9,1.0 M1.4,1.0 L2.3,1.1 M2.2,1.5 L3.1,1.3 M0,0 L0.7,0.5 L1.4,1.0 L2.2,1.5 M0,0 L-0.4,-1.0 L-1.1,-1.9 L-1.7,-2.8 M-3.6,0.3 L-5.0,0.9 M0,0 L-1.8,0.3 L-3.6,0.3 L-5.4,-0.1 M1.3,1.6 L0.9,2.5 M1.7,2.6 L2.6,3.1 M0,0 L0.8,0.8 L1.3,1.6 L1.7,2.6 M0,0 L1.7,-0.4 L3.5,-0.7 L5.2,-1.2 M0.9,-1.7 L1.8,-2.1 M0,0 L0.4,-0.8 L0.9,-1.7 L0.9,-2.6 M4.9,0.0 L5.9,0.8 M0,0 L1.6,0.2 L3.3,0.3 L4.9,0.0 M-3.2,1.1 L-4.7,0.6 M-4.8,1.7 L-6.4,1.5 M0,0 L-1.7,0.4 L-3.2,1.1 L-4.8,1.7"/><ellipse cx="0" cy="0" rx="2.9" ry="2.17" fill="#3458a8" stroke="none"/></g>
<g transform="translate(100.20 189.30) scale(1.0)" opacity="1.0" fill="none" stroke="#a6caab" stroke-width="0.4"><path d="M-3.4000000000000004,-10.8 L-3.3,-5 C-4.5,-2 -4.5,3 -3.3,6 L-3.4000000000000004,10.8 M-0.8,-10.8 L-0.9000000000000001,-5 C0.2999999999999998,-2 0.2999999999999998,3 -0.9000000000000001,6 L-0.8,10.8 M-2.1,-10.8 L-2.1,10.8 M0.8,-10.8 L0.9000000000000001,-5 C-0.2999999999999998,-2 -0.2999999999999998,3 0.9000000000000001,6 L0.8,10.8 M3.4000000000000004,-10.8 L3.3,-5 C4.5,-2 4.5,3 3.3,6 L3.4000000000000004,10.8 M2.1,-10.8 L2.1,10.8 M-4.6,-10.6 L4.8,-11.2 M-4.2,10.9 L4.2,10.9"/><ellipse cx="-2.1" cy="0.5" rx="2.1" ry="5.6" fill="#a6caab" fill-opacity="0.5" stroke="none"/><ellipse cx="2.1" cy="0.5" rx="2.1" ry="5.6" fill="#a6caab" fill-opacity="0.5" stroke="none"/></g>
<g transform="translate(124.70 195.00) scale(1.0)" opacity="1.0" fill="none" stroke="#8a63bd" stroke-width="0.3" stroke-linecap="round" stroke-linejoin="round"><path d="M7.7,3.2 L7.2,5.0 M0,0 L3.0,0.5 L5.7,1.6 L7.7,3.2 M6.5,0.2 L8.2,-0.4 M0,0 L2.2,0.2 L4.3,0.3 L6.5,0.2 M1.6,3.1 L3.2,4.1 M2.0,4.7 L4.1,5.3 M0,0 L1.0,1.5 L1.6,3.1 L2.0,4.7 M0.7,4.1 L-1.2,5.5 M1.4,6.2 L3.4,7.5 M0,0 L-0.0,2.1 L0.7,4.1 L1.4,6.2 M-3.5,2.1 L-5.6,2.4 M-4.8,3.4 L-6.9,3.6 M0,0 L-1.8,1.0 L-3.5,2.1 L-4.8,3.4 M-4.4,2.5 L-7.1,2.6 M-6.1,4.1 L-6.3,5.8 M0,0 L-2.5,1.0 L-4.4,2.5 L-6.1,4.1 M-4.1,-0.7 L-5.1,-1.8 M-6.1,-1.2 L-7.8,-0.7 M0,0 L-2.1,-0.2 L-4.1,-0.7 L-6.1,-1.2 M-10.2,0.7 L-12.6,-0.6 M0,0 L-3.4,-0.1 L-6.8,0.3 L-10.2,0.7 M-3.9,-3.2 L-6.5,-4.0 M-5.5,-5.0 L-8.1,-5.7 M0,0 L-2.2,-1.5 L-3.9,-3.2 L-5.5,-5.0 M-2.2,-3.5 L-4.6,-4.0 M-3.0,-5.3 L-2.3,-6.9 M0,0 L-0.9,-1.8 L-2.2,-3.5 L-3.0,-5.3 M-0.5,-4.6 L1.8,-6.0 M-0.9,-6.9 L-3.8,-7.8 M0,0 L-0.1,-2.3 L-0.5,-4.6 L-0.9,-6.9 M3.9,-5.8 L6.3,-6.9 M0,0 L1.7,-1.8 L2.7,-3.8 L3.9,-5.8 M4.3,-1.0 L4.7,-2.4 M6.4,-1.7 L8.4,-1.3 M0,0 L2.2,-0.4 L4.3,-1.0 L6.4,-1.7 M-0.2,2.1 L-1.1,2.3 M0,0 L-0.0,0.7 L0.1,1.4 L-0.2,2.1 M0.9,1.4 L1.9,1.5 M1.1,2.1 L2.0,2.4 M0,0 L0.5,0.7 L0.9,1.4 L1.1,2.1 M-2.2,2.1 L-3.3,2.1 M0,0 L-0.7,0.7 L-1.3,1.4 L-2.2,2.1 M-1.4,-0.4 L-1.7,-0.8 M-2.1,-0.6 L-2.4,-1.0 M0,0 L-0.7,-0.3 L-1.4,-0.4 L-2.1,-0.6 M-1.6,-2.3 L-0.8,-2.9 M0,0 L-0.6,-0.8 L-1.2,-1.5 L-1.6,-2.3 M-3.4,-0.1 L-4.2,-0.5 M0,0 L-1.1,0.1 L-2.3,0.0 L-3.4,-0.1 M0.7,-1.5 L1.6,-1.8 M0.6,-2.3 L1.3,-2.8 M0,0 L0.4,-0.7 L0.7,-1.5 L0.6,-2.3 M1.7,2.3 L2.5,2.9 M0,0 L0.8,0.7 L1.4,1.5 L1.7,2.3 M2.2,-0.3 L2.7,-0.9 M0,0 L1.1,-0.1 L2.2,-0.3 L3.2,-0.6 M2.1,-0.3 L2.8,0.2 M3.1,-0.4 L3.9,-0.0 M0,0 L1.0,-0.1 L2.1,-0.3 L3.1,-0.4 M-2.0,0.8 L-3.0,0.7 M-2.9,1.4 L-3.9,1.2 M0,0 L-0.9,0.5 L-2.0,0.8 L-2.9,1.4 M2.4,-0.3 L3.2,-0.7 M3.5,-0.1 L4.0,0.6 M0,0 L1.2,-0.2 L2.4,-0.3 L3.5,-0.1 M1.4,-1.0 L2.3,-1.1 M2.2,-1.4 L3.1,-1.3 M0,0 L0.8,-0.5 L1.4,-1.0 L2.2,-1.4 M-0.3,1.2 L-0.9,1.6 M-0.2,1.8 L-0.7,2.3 M0,0 L0.0,0.6 L-0.3,1.2 L-0.2,1.8 M1.7,0.2 L2.2,-0.2 M2.5,0.4 L2.7,0.9 M0,0 L0.8,0.1 L1.7,0.2 L2.5,0.4 M-0.0,-1.3 L-0.3,-1.8 M-0.1,-1.9 L0.4,-2.3 M0,0 L-0.2,-0.6 L-0.0,-1.3 L-0.1,-1.9"/><ellipse cx="0" cy="0" rx="1.2" ry="0.90" fill="#6a3fa8" stroke="none"/></g>
<ellipse cx="118.2" cy="178.5" rx="42.1" ry="30.2" fill="none" stroke="#e8bb1e" stroke-width="1.3"/>
<g transform="translate(7 104.6)">
<path d="M4.1,7.6 C2.5,3 6,-0.6 9.5,-0.4 C13.5,-0.2 16,3 15.2,6.6 C17,9 18,13 17.3,17 C16.6,21.5 14.5,25.5 11.5,26 C9.5,26.3 7.5,24.5 6.3,22 C5,23.5 3.5,25 1.8,24.3 C0,23.5 0.5,22 2.2,20.8 C3.5,19.8 5.5,19.5 6.5,17.5 L7.8,16 M4.1,7.6 L2.3,9.4 L4,10.6 C3,11.5 2.5,12.5 3.2,13.2 L6,14.8 L9.3,16.8 M7,11.7 L9.3,13 L11.2,11.6" fill="none" stroke="#ad5a60" stroke-width="0.75" stroke-linejoin="round" stroke-linecap="round"/>
<ellipse cx="9.5" cy="4.6" rx="5.2" ry="4.2" fill="#c79395"/>
</g>
<g transform="translate(31.4 98.6)">
<path d="M4.1,7.6 C2.5,3 6,-0.6 9.5,-0.4 C13.5,-0.2 16,3 15.2,6.6 C17,9 18,13 17.3,17 C16.6,21.5 14.5,25.5 11.5,26 C9.5,26.3 7.5,24.5 6.3,22 C5,23.5 3.5,25 1.8,24.3 C0,23.5 0.5,22 2.2,20.8 C3.5,19.8 5.5,19.5 6.5,17.5 L7.8,16 M4.1,7.6 L2.3,9.4 L4,10.6 C3,11.5 2.5,12.5 3.2,13.2 L6,14.8 L9.3,16.8 M7,11.7 L9.3,13 L11.2,11.6" fill="none" stroke="#7b98d6" stroke-width="0.75" stroke-linejoin="round" stroke-linecap="round"/>
<ellipse cx="9.6" cy="4.4" rx="4.6" ry="3.7" fill="#c99a9c" stroke="#7b98d6" stroke-width="0.9"/>
</g>
<g transform="translate(48.5 119.8)">
<path d="M4.1,7.6 C2.5,3 6,-0.6 9.5,-0.4 C13.5,-0.2 16,3 15.2,6.6 C17,9 18,13 17.3,17 C16.6,21.5 14.5,25.5 11.5,26 C9.5,26.3 7.5,24.5 6.3,22 C5,23.5 3.5,25 1.8,24.3 C0,23.5 0.5,22 2.2,20.8 C3.5,19.8 5.5,19.5 6.5,17.5 L7.8,16 M4.1,7.6 L2.3,9.4 L4,10.6 C3,11.5 2.5,12.5 3.2,13.2 L6,14.8 L9.3,16.8 M7,11.7 L9.3,13 L11.2,11.6" fill="none" stroke="#1a1a1a" stroke-width="0.75" stroke-linejoin="round" stroke-linecap="round"/>
<ellipse cx="9.6" cy="4.4" rx="4.6" ry="3.7" fill="#c99a9c" stroke="#111" stroke-width="1.3"/>
</g>
<g transform="translate(24.2 131.4)">
<path d="M4.1,7.6 C2.5,3 6,-0.6 9.5,-0.4 C13.5,-0.2 16,3 15.2,6.6 C17,9 18,13 17.3,17 C16.6,21.5 14.5,25.5 11.5,26 C9.5,26.3 7.5,24.5 6.3,22 C5,23.5 3.5,25 1.8,24.3 C0,23.5 0.5,22 2.2,20.8 C3.5,19.8 5.5,19.5 6.5,17.5 L7.8,16 M4.1,7.6 L2.3,9.4 L4,10.6 C3,11.5 2.5,12.5 3.2,13.2 L6,14.8 L9.3,16.8 M7,11.7 L9.3,13 L11.2,11.6" fill="none" stroke="#eab070" stroke-width="0.75" stroke-linejoin="round" stroke-linecap="round"/>
<ellipse cx="9.6" cy="4.4" rx="4.6" ry="3.7" fill="#c99a9c" stroke="#e8bb1e" stroke-width="1.4"/>
</g>
<text x="89.30" y="227.40" font-size="8.7" text-anchor="middle" fill="#1a1a1a">213,659 cells</text>
<text x="183.70" y="74.90" font-size="8.7" text-anchor="middle" fill="#1a1a1a">Pseudobulk</text>
<text x="183.70" y="85.40" font-size="8.7" text-anchor="middle" fill="#1a1a1a">matrix</text>
<text x="183.70" y="95.90" font-size="8.7" text-anchor="middle" fill="#1a1a1a">conversion</text>
<path d="M165.8,106 L203,106" stroke="#000" stroke-width="2.4" fill="none"/><path d="M207.8,106 L202,103.1 L202,108.9 Z" fill="#000"/>
<text x="291.00" y="27.50" font-size="8.6" text-anchor="middle" fill="#1a1a1a">DESeq2</text>
<path d="M223.6,41 L223.6,34.2 L341.5,34.2 L341.5,41" stroke="#555" stroke-width="0.7" fill="none"/>
<path d="M221.29999999999998,40.2 L225.9,40.2 L223.6,46.2 Z" fill="#000"/>
<path d="M339.2,40.2 L343.8,40.2 L341.5,46.2 Z" fill="#000"/>
<path d="M231.6,65.5 L243.5,65.5 M231.6,65.5 L243.5,110.2 M231.6,65.5 L243.5,154 M231.6,110.2 L243.5,65.5 M231.6,110.2 L243.5,110.2 M231.6,110.2 L243.5,154 M231.6,154 L243.5,65.5 M231.6,154 L243.5,110.2 M231.6,154 L243.5,154 M268.5,65.5 L280.4,65.5 M268.5,65.5 L280.4,110.2 M268.5,65.5 L280.4,154 M268.5,110.2 L280.4,65.5 M268.5,110.2 L280.4,110.2 M268.5,110.2 L280.4,154 M268.5,154 L280.4,65.5 M268.5,154 L280.4,110.2 M268.5,154 L280.4,154 M231.6,65.5 L280.4,110.2 M231.6,65.5 L280.4,154 M231.6,110.2 L280.4,65.5 M231.6,110.2 L280.4,154 M231.6,154 L280.4,65.5 M231.6,154 L280.4,110.2" stroke="#a3b8dc" stroke-width="0.65" fill="none"/>
<rect x="213.4" y="51.4" width="18.2" height="28.5" fill="#fff" stroke="#8fa6d8" stroke-width="1.05"/>
<g transform="translate(222.50 65.95) scale(0.95)" opacity="1.0" fill="none" stroke="#a6caab" stroke-width="0.4"><path d="M-3.4000000000000004,-10.8 L-3.3,-5 C-4.5,-2 -4.5,3 -3.3,6 L-3.4000000000000004,10.8 M-0.8,-10.8 L-0.9000000000000001,-5 C0.2999999999999998,-2 0.2999999999999998,3 -0.9000000000000001,6 L-0.8,10.8 M-2.1,-10.8 L-2.1,10.8 M0.8,-10.8 L0.9000000000000001,-5 C-0.2999999999999998,-2 -0.2999999999999998,3 0.9000000000000001,6 L0.8,10.8 M3.4000000000000004,-10.8 L3.3,-5 C4.5,-2 4.5,3 3.3,6 L3.4000000000000004,10.8 M2.1,-10.8 L2.1,10.8 M-4.6,-10.6 L4.8,-11.2 M-4.2,10.9 L4.2,10.9"/><ellipse cx="-2.1" cy="0.5" rx="2.1" ry="5.6" fill="#a6caab" fill-opacity="0.5" stroke="none"/><ellipse cx="2.1" cy="0.5" rx="2.1" ry="5.6" fill="#a6caab" fill-opacity="0.5" stroke="none"/></g>
<rect x="243.5" y="51.4" width="25.0" height="28.5" fill="#fff" stroke="#8fa6d8" stroke-width="1.05"/>
<g transform="translate(256.30 65.85) scale(0.97)" opacity="1.0" fill="none" stroke="#eda3a3" stroke-width="0.3" stroke-linecap="round"><path d="M-10.5,7.2 C-7.5,5 -5.5,3 -4,1.5 C-2.6,0 -1.4,-1.4 -0.5,-2.5 L1.5,-7 L2.6,-4 L4.2,-8 L4.8,-4.2 L6.8,-7.6 L6.4,-2.5 C6.4,-1 6.2,-0.2 6.4,0.6 C7.2,2 8,3 9.2,4.2 C7.6,4 6.6,3.5 5.4,3.2 C4,3.4 2.6,3.8 1,4.4 C-1,5.2 -2.6,5.6 -4,6 C-6,6.6 -8.4,7 -10.5,7.2 Z" fill="#eda3a3" fill-opacity="0.5" stroke="none"/><path d="M-5,4.4 C-2.5,2.2 0,0 1.6,-2.4 L4.4,-3 L5.4,-0.6 C5,1 4,2.2 2,3 C-0.5,3.8 -3,4.2 -5,4.4 Z" fill="#eda3a3" fill-opacity="0.45" stroke="none"/><path d="M-10.4,7.2 Q-3.0,1.2 0.8,-5.6 M-10.6,7.3 Q-2.7,1.5 1.9,-5.1 M-10.0,7.2 Q-2.4,1.9 2.4,-4.0 M-10.2,7.1 Q-2.1,2.2 3.6,-2.8 M-10.3,7.3 Q-1.8,2.5 4.2,-1.4 M-10.1,7.2 Q-1.4,2.8 5.0,-1.3 M-10.1,7.2 Q-1.1,3.2 5.5,-0.4 M-10.2,7.4 Q-0.8,3.5 6.6,1.4 M-10.3,7.4 Q-0.5,3.8 7.1,2.3" stroke-opacity="0.7"/></g>
<rect x="280.4" y="51.4" width="25.3" height="28.5" fill="#fff" stroke="#8fa6d8" stroke-width="1.05"/>
<g transform="translate(293.55 66.15) scale(0.95)" opacity="1.0" fill="none" stroke="#8a63bd" stroke-width="0.3" stroke-linecap="round" stroke-linejoin="round"><path d="M7.7,3.2 L7.2,5.0 M0,0 L3.0,0.5 L5.7,1.6 L7.7,3.2 M6.5,0.2 L8.2,-0.4 M0,0 L2.2,0.2 L4.3,0.3 L6.5,0.2 M1.6,3.1 L3.2,4.1 M2.0,4.7 L4.1,5.3 M0,0 L1.0,1.5 L1.6,3.1 L2.0,4.7 M0.7,4.1 L-1.2,5.5 M1.4,6.2 L3.4,7.5 M0,0 L-0.0,2.1 L0.7,4.1 L1.4,6.2 M-3.5,2.1 L-5.6,2.4 M-4.8,3.4 L-6.9,3.6 M0,0 L-1.8,1.0 L-3.5,2.1 L-4.8,3.4 M-4.4,2.5 L-7.1,2.6 M-6.1,4.1 L-6.3,5.8 M0,0 L-2.5,1.0 L-4.4,2.5 L-6.1,4.1 M-4.1,-0.7 L-5.1,-1.8 M-6.1,-1.2 L-7.8,-0.7 M0,0 L-2.1,-0.2 L-4.1,-0.7 L-6.1,-1.2 M-10.2,0.7 L-12.6,-0.6 M0,0 L-3.4,-0.1 L-6.8,0.3 L-10.2,0.7 M-3.9,-3.2 L-6.5,-4.0 M-5.5,-5.0 L-8.1,-5.7 M0,0 L-2.2,-1.5 L-3.9,-3.2 L-5.5,-5.0 M-2.2,-3.5 L-4.6,-4.0 M-3.0,-5.3 L-2.3,-6.9 M0,0 L-0.9,-1.8 L-2.2,-3.5 L-3.0,-5.3 M-0.5,-4.6 L1.8,-6.0 M-0.9,-6.9 L-3.8,-7.8 M0,0 L-0.1,-2.3 L-0.5,-4.6 L-0.9,-6.9 M3.9,-5.8 L6.3,-6.9 M0,0 L1.7,-1.8 L2.7,-3.8 L3.9,-5.8 M4.3,-1.0 L4.7,-2.4 M6.4,-1.7 L8.4,-1.3 M0,0 L2.2,-0.4 L4.3,-1.0 L6.4,-1.7 M-0.2,2.1 L-1.1,2.3 M0,0 L-0.0,0.7 L0.1,1.4 L-0.2,2.1 M0.9,1.4 L1.9,1.5 M1.1,2.1 L2.0,2.4 M0,0 L0.5,0.7 L0.9,1.4 L1.1,2.1 M-2.2,2.1 L-3.3,2.1 M0,0 L-0.7,0.7 L-1.3,1.4 L-2.2,2.1 M-1.4,-0.4 L-1.7,-0.8 M-2.1,-0.6 L-2.4,-1.0 M0,0 L-0.7,-0.3 L-1.4,-0.4 L-2.1,-0.6 M-1.6,-2.3 L-0.8,-2.9 M0,0 L-0.6,-0.8 L-1.2,-1.5 L-1.6,-2.3 M-3.4,-0.1 L-4.2,-0.5 M0,0 L-1.1,0.1 L-2.3,0.0 L-3.4,-0.1 M0.7,-1.5 L1.6,-1.8 M0.6,-2.3 L1.3,-2.8 M0,0 L0.4,-0.7 L0.7,-1.5 L0.6,-2.3 M1.7,2.3 L2.5,2.9 M0,0 L0.8,0.7 L1.4,1.5 L1.7,2.3 M2.2,-0.3 L2.7,-0.9 M0,0 L1.1,-0.1 L2.2,-0.3 L3.2,-0.6 M2.1,-0.3 L2.8,0.2 M3.1,-0.4 L3.9,-0.0 M0,0 L1.0,-0.1 L2.1,-0.3 L3.1,-0.4 M-2.0,0.8 L-3.0,0.7 M-2.9,1.4 L-3.9,1.2 M0,0 L-0.9,0.5 L-2.0,0.8 L-2.9,1.4 M2.4,-0.3 L3.2,-0.7 M3.5,-0.1 L4.0,0.6 M0,0 L1.2,-0.2 L2.4,-0.3 L3.5,-0.1 M1.4,-1.0 L2.3,-1.1 M2.2,-1.4 L3.1,-1.3 M0,0 L0.8,-0.5 L1.4,-1.0 L2.2,-1.4 M-0.3,1.2 L-0.9,1.6 M-0.2,1.8 L-0.7,2.3 M0,0 L0.0,0.6 L-0.3,1.2 L-0.2,1.8 M1.7,0.2 L2.2,-0.2 M2.5,0.4 L2.7,0.9 M0,0 L0.8,0.1 L1.7,0.2 L2.5,0.4 M-0.0,-1.3 L-0.3,-1.8 M-0.1,-1.9 L0.4,-2.3 M0,0 L-0.2,-0.6 L-0.0,-1.3 L-0.1,-1.9"/><ellipse cx="0" cy="0" rx="1.2" ry="0.90" fill="#6a3fa8" stroke="none"/></g>
<rect x="327.2" y="51.4" width="25.2" height="28.5" fill="#fff" stroke="#8fa6d8" stroke-width="1.05"/>
<g transform="translate(338.30 66.15) scale(1.0)" opacity="1.0" fill="none" stroke="#ea5f6b" stroke-width="0.42" stroke-linecap="round"><path d="M-2.3,-5.5 L-2.3,9.6 L3,9.9 M0.1,-6 L0.1,9.7 M2.5,-5.5 L2.5,4 L2.1,9.8 L8.6,9.1 M-2.3,-5.5 L-5.6,-8.6 L-7.4,-8.2 M-5.6,-8.6 L-6,-10.6 M-2.3,-5.5 L-3.6,-10.4 M-3.1,-8.4 L-4.6,-10.8 M-2.3,-6 L-1.2,-10.8 M0.1,-6 L-0.5,-11 M0.1,-6 L1.5,-10.4 M0.9,-8.6 L2.3,-10.9 M2.5,-5.5 L3.3,-10.4 M2.5,-5.5 L5.4,-9.2 L5.2,-11 M5.4,-9.2 L7.4,-10 M2.5,-5 L6.6,-7 L8.4,-6.6 M6.6,-7 L7.6,-8.8 M-1,-3 L-2.3,-1.4 M1.3,-2 L2.5,-0.8"/><ellipse cx="1.4" cy="3.2" rx="1.35" ry="2" fill="#ea5f6b" stroke="none"/><ellipse cx="-1.1" cy="-0.8" rx="0.8" ry="1.4" fill="#ea5f6b" fill-opacity="0.55" stroke="none"/></g>
<rect x="213.4" y="96.2" width="18.2" height="28.3" fill="#fff" stroke="#111" stroke-width="1.2"/>
<g transform="translate(222.50 110.65) scale(0.95)" opacity="1.0" fill="none" stroke="#a6caab" stroke-width="0.4"><path d="M-3.4000000000000004,-10.8 L-3.3,-5 C-4.5,-2 -4.5,3 -3.3,6 L-3.4000000000000004,10.8 M-0.8,-10.8 L-0.9000000000000001,-5 C0.2999999999999998,-2 0.2999999999999998,3 -0.9000000000000001,6 L-0.8,10.8 M-2.1,-10.8 L-2.1,10.8 M0.8,-10.8 L0.9000000000000001,-5 C-0.2999999999999998,-2 -0.2999999999999998,3 0.9000000000000001,6 L0.8,10.8 M3.4000000000000004,-10.8 L3.3,-5 C4.5,-2 4.5,3 3.3,6 L3.4000000000000004,10.8 M2.1,-10.8 L2.1,10.8 M-4.6,-10.6 L4.8,-11.2 M-4.2,10.9 L4.2,10.9"/><ellipse cx="-2.1" cy="0.5" rx="2.1" ry="5.6" fill="#a6caab" fill-opacity="0.5" stroke="none"/><ellipse cx="2.1" cy="0.5" rx="2.1" ry="5.6" fill="#a6caab" fill-opacity="0.5" stroke="none"/></g>
<rect x="243.5" y="96.2" width="25.0" height="28.3" fill="#fff" stroke="#111" stroke-width="1.2"/>
<g transform="translate(256.30 110.55) scale(0.97)" opacity="1.0" fill="none" stroke="#eda3a3" stroke-width="0.3" stroke-linecap="round"><path d="M-10.5,7.2 C-7.5,5 -5.5,3 -4,1.5 C-2.6,0 -1.4,-1.4 -0.5,-2.5 L1.5,-7 L2.6,-4 L4.2,-8 L4.8,-4.2 L6.8,-7.6 L6.4,-2.5 C6.4,-1 6.2,-0.2 6.4,0.6 C7.2,2 8,3 9.2,4.2 C7.6,4 6.6,3.5 5.4,3.2 C4,3.4 2.6,3.8 1,4.4 C-1,5.2 -2.6,5.6 -4,6 C-6,6.6 -8.4,7 -10.5,7.2 Z" fill="#eda3a3" fill-opacity="0.5" stroke="none"/><path d="M-5,4.4 C-2.5,2.2 0,0 1.6,-2.4 L4.4,-3 L5.4,-0.6 C5,1 4,2.2 2,3 C-0.5,3.8 -3,4.2 -5,4.4 Z" fill="#eda3a3" fill-opacity="0.45" stroke="none"/><path d="M-10.4,7.2 Q-3.0,1.2 0.8,-5.6 M-10.6,7.3 Q-2.7,1.5 1.9,-5.1 M-10.0,7.2 Q-2.4,1.9 2.4,-4.0 M-10.2,7.1 Q-2.1,2.2 3.6,-2.8 M-10.3,7.3 Q-1.8,2.5 4.2,-1.4 M-10.1,7.2 Q-1.4,2.8 5.0,-1.3 M-10.1,7.2 Q-1.1,3.2 5.5,-0.4 M-10.2,7.4 Q-0.8,3.5 6.6,1.4 M-10.3,7.4 Q-0.5,3.8 7.1,2.3" stroke-opacity="0.7"/></g>
<rect x="280.4" y="96.2" width="25.3" height="28.3" fill="#fff" stroke="#111" stroke-width="1.2"/>
<g transform="translate(293.55 110.85) scale(0.95)" opacity="1.0" fill="none" stroke="#8a63bd" stroke-width="0.3" stroke-linecap="round" stroke-linejoin="round"><path d="M7.7,3.2 L7.2,5.0 M0,0 L3.0,0.5 L5.7,1.6 L7.7,3.2 M6.5,0.2 L8.2,-0.4 M0,0 L2.2,0.2 L4.3,0.3 L6.5,0.2 M1.6,3.1 L3.2,4.1 M2.0,4.7 L4.1,5.3 M0,0 L1.0,1.5 L1.6,3.1 L2.0,4.7 M0.7,4.1 L-1.2,5.5 M1.4,6.2 L3.4,7.5 M0,0 L-0.0,2.1 L0.7,4.1 L1.4,6.2 M-3.5,2.1 L-5.6,2.4 M-4.8,3.4 L-6.9,3.6 M0,0 L-1.8,1.0 L-3.5,2.1 L-4.8,3.4 M-4.4,2.5 L-7.1,2.6 M-6.1,4.1 L-6.3,5.8 M0,0 L-2.5,1.0 L-4.4,2.5 L-6.1,4.1 M-4.1,-0.7 L-5.1,-1.8 M-6.1,-1.2 L-7.8,-0.7 M0,0 L-2.1,-0.2 L-4.1,-0.7 L-6.1,-1.2 M-10.2,0.7 L-12.6,-0.6 M0,0 L-3.4,-0.1 L-6.8,0.3 L-10.2,0.7 M-3.9,-3.2 L-6.5,-4.0 M-5.5,-5.0 L-8.1,-5.7 M0,0 L-2.2,-1.5 L-3.9,-3.2 L-5.5,-5.0 M-2.2,-3.5 L-4.6,-4.0 M-3.0,-5.3 L-2.3,-6.9 M0,0 L-0.9,-1.8 L-2.2,-3.5 L-3.0,-5.3 M-0.5,-4.6 L1.8,-6.0 M-0.9,-6.9 L-3.8,-7.8 M0,0 L-0.1,-2.3 L-0.5,-4.6 L-0.9,-6.9 M3.9,-5.8 L6.3,-6.9 M0,0 L1.7,-1.8 L2.7,-3.8 L3.9,-5.8 M4.3,-1.0 L4.7,-2.4 M6.4,-1.7 L8.4,-1.3 M0,0 L2.2,-0.4 L4.3,-1.0 L6.4,-1.7 M-0.2,2.1 L-1.1,2.3 M0,0 L-0.0,0.7 L0.1,1.4 L-0.2,2.1 M0.9,1.4 L1.9,1.5 M1.1,2.1 L2.0,2.4 M0,0 L0.5,0.7 L0.9,1.4 L1.1,2.1 M-2.2,2.1 L-3.3,2.1 M0,0 L-0.7,0.7 L-1.3,1.4 L-2.2,2.1 M-1.4,-0.4 L-1.7,-0.8 M-2.1,-0.6 L-2.4,-1.0 M0,0 L-0.7,-0.3 L-1.4,-0.4 L-2.1,-0.6 M-1.6,-2.3 L-0.8,-2.9 M0,0 L-0.6,-0.8 L-1.2,-1.5 L-1.6,-2.3 M-3.4,-0.1 L-4.2,-0.5 M0,0 L-1.1,0.1 L-2.3,0.0 L-3.4,-0.1 M0.7,-1.5 L1.6,-1.8 M0.6,-2.3 L1.3,-2.8 M0,0 L0.4,-0.7 L0.7,-1.5 L0.6,-2.3 M1.7,2.3 L2.5,2.9 M0,0 L0.8,0.7 L1.4,1.5 L1.7,2.3 M2.2,-0.3 L2.7,-0.9 M0,0 L1.1,-0.1 L2.2,-0.3 L3.2,-0.6 M2.1,-0.3 L2.8,0.2 M3.1,-0.4 L3.9,-0.0 M0,0 L1.0,-0.1 L2.1,-0.3 L3.1,-0.4 M-2.0,0.8 L-3.0,0.7 M-2.9,1.4 L-3.9,1.2 M0,0 L-0.9,0.5 L-2.0,0.8 L-2.9,1.4 M2.4,-0.3 L3.2,-0.7 M3.5,-0.1 L4.0,0.6 M0,0 L1.2,-0.2 L2.4,-0.3 L3.5,-0.1 M1.4,-1.0 L2.3,-1.1 M2.2,-1.4 L3.1,-1.3 M0,0 L0.8,-0.5 L1.4,-1.0 L2.2,-1.4 M-0.3,1.2 L-0.9,1.6 M-0.2,1.8 L-0.7,2.3 M0,0 L0.0,0.6 L-0.3,1.2 L-0.2,1.8 M1.7,0.2 L2.2,-0.2 M2.5,0.4 L2.7,0.9 M0,0 L0.8,0.1 L1.7,0.2 L2.5,0.4 M-0.0,-1.3 L-0.3,-1.8 M-0.1,-1.9 L0.4,-2.3 M0,0 L-0.2,-0.6 L-0.0,-1.3 L-0.1,-1.9"/><ellipse cx="0" cy="0" rx="1.2" ry="0.90" fill="#6a3fa8" stroke="none"/></g>
<rect x="327.2" y="96.2" width="25.2" height="28.3" fill="#fff" stroke="#111" stroke-width="1.2"/>
<g transform="translate(338.30 110.85) scale(1.0)" opacity="1.0" fill="none" stroke="#ea5f6b" stroke-width="0.42" stroke-linecap="round"><path d="M-2.3,-5.5 L-2.3,9.6 L3,9.9 M0.1,-6 L0.1,9.7 M2.5,-5.5 L2.5,4 L2.1,9.8 L8.6,9.1 M-2.3,-5.5 L-5.6,-8.6 L-7.4,-8.2 M-5.6,-8.6 L-6,-10.6 M-2.3,-5.5 L-3.6,-10.4 M-3.1,-8.4 L-4.6,-10.8 M-2.3,-6 L-1.2,-10.8 M0.1,-6 L-0.5,-11 M0.1,-6 L1.5,-10.4 M0.9,-8.6 L2.3,-10.9 M2.5,-5.5 L3.3,-10.4 M2.5,-5.5 L5.4,-9.2 L5.2,-11 M5.4,-9.2 L7.4,-10 M2.5,-5 L6.6,-7 L8.4,-6.6 M6.6,-7 L7.6,-8.8 M-1,-3 L-2.3,-1.4 M1.3,-2 L2.5,-0.8"/><ellipse cx="1.4" cy="3.2" rx="1.35" ry="2" fill="#ea5f6b" stroke="none"/><ellipse cx="-1.1" cy="-0.8" rx="0.8" ry="1.4" fill="#ea5f6b" fill-opacity="0.55" stroke="none"/></g>
<rect x="213.4" y="139.5" width="18.2" height="28.9" fill="#fff" stroke="#e8bb1e" stroke-width="1.2"/>
<g transform="translate(222.50 154.25) scale(0.95)" opacity="1.0" fill="none" stroke="#a6caab" stroke-width="0.4"><path d="M-3.4000000000000004,-10.8 L-3.3,-5 C-4.5,-2 -4.5,3 -3.3,6 L-3.4000000000000004,10.8 M-0.8,-10.8 L-0.9000000000000001,-5 C0.2999999999999998,-2 0.2999999999999998,3 -0.9000000000000001,6 L-0.8,10.8 M-2.1,-10.8 L-2.1,10.8 M0.8,-10.8 L0.9000000000000001,-5 C-0.2999999999999998,-2 -0.2999999999999998,3 0.9000000000000001,6 L0.8,10.8 M3.4000000000000004,-10.8 L3.3,-5 C4.5,-2 4.5,3 3.3,6 L3.4000000000000004,10.8 M2.1,-10.8 L2.1,10.8 M-4.6,-10.6 L4.8,-11.2 M-4.2,10.9 L4.2,10.9"/><ellipse cx="-2.1" cy="0.5" rx="2.1" ry="5.6" fill="#a6caab" fill-opacity="0.5" stroke="none"/><ellipse cx="2.1" cy="0.5" rx="2.1" ry="5.6" fill="#a6caab" fill-opacity="0.5" stroke="none"/></g>
<rect x="243.5" y="139.5" width="25.0" height="28.9" fill="#fff" stroke="#e8bb1e" stroke-width="1.2"/>
<g transform="translate(256.30 154.15) scale(0.97)" opacity="1.0" fill="none" stroke="#eda3a3" stroke-width="0.3" stroke-linecap="round"><path d="M-10.5,7.2 C-7.5,5 -5.5,3 -4,1.5 C-2.6,0 -1.4,-1.4 -0.5,-2.5 L1.5,-7 L2.6,-4 L4.2,-8 L4.8,-4.2 L6.8,-7.6 L6.4,-2.5 C6.4,-1 6.2,-0.2 6.4,0.6 C7.2,2 8,3 9.2,4.2 C7.6,4 6.6,3.5 5.4,3.2 C4,3.4 2.6,3.8 1,4.4 C-1,5.2 -2.6,5.6 -4,6 C-6,6.6 -8.4,7 -10.5,7.2 Z" fill="#eda3a3" fill-opacity="0.5" stroke="none"/><path d="M-5,4.4 C-2.5,2.2 0,0 1.6,-2.4 L4.4,-3 L5.4,-0.6 C5,1 4,2.2 2,3 C-0.5,3.8 -3,4.2 -5,4.4 Z" fill="#eda3a3" fill-opacity="0.45" stroke="none"/><path d="M-10.4,7.2 Q-3.0,1.2 0.8,-5.6 M-10.6,7.3 Q-2.7,1.5 1.9,-5.1 M-10.0,7.2 Q-2.4,1.9 2.4,-4.0 M-10.2,7.1 Q-2.1,2.2 3.6,-2.8 M-10.3,7.3 Q-1.8,2.5 4.2,-1.4 M-10.1,7.2 Q-1.4,2.8 5.0,-1.3 M-10.1,7.2 Q-1.1,3.2 5.5,-0.4 M-10.2,7.4 Q-0.8,3.5 6.6,1.4 M-10.3,7.4 Q-0.5,3.8 7.1,2.3" stroke-opacity="0.7"/></g>
<rect x="280.4" y="139.5" width="25.3" height="28.9" fill="#fff" stroke="#e8bb1e" stroke-width="1.2"/>
<g transform="translate(293.55 154.45) scale(0.95)" opacity="1.0" fill="none" stroke="#8a63bd" stroke-width="0.3" stroke-linecap="round" stroke-linejoin="round"><path d="M7.7,3.2 L7.2,5.0 M0,0 L3.0,0.5 L5.7,1.6 L7.7,3.2 M6.5,0.2 L8.2,-0.4 M0,0 L2.2,0.2 L4.3,0.3 L6.5,0.2 M1.6,3.1 L3.2,4.1 M2.0,4.7 L4.1,5.3 M0,0 L1.0,1.5 L1.6,3.1 L2.0,4.7 M0.7,4.1 L-1.2,5.5 M1.4,6.2 L3.4,7.5 M0,0 L-0.0,2.1 L0.7,4.1 L1.4,6.2 M-3.5,2.1 L-5.6,2.4 M-4.8,3.4 L-6.9,3.6 M0,0 L-1.8,1.0 L-3.5,2.1 L-4.8,3.4 M-4.4,2.5 L-7.1,2.6 M-6.1,4.1 L-6.3,5.8 M0,0 L-2.5,1.0 L-4.4,2.5 L-6.1,4.1 M-4.1,-0.7 L-5.1,-1.8 M-6.1,-1.2 L-7.8,-0.7 M0,0 L-2.1,-0.2 L-4.1,-0.7 L-6.1,-1.2 M-10.2,0.7 L-12.6,-0.6 M0,0 L-3.4,-0.1 L-6.8,0.3 L-10.2,0.7 M-3.9,-3.2 L-6.5,-4.0 M-5.5,-5.0 L-8.1,-5.7 M0,0 L-2.2,-1.5 L-3.9,-3.2 L-5.5,-5.0 M-2.2,-3.5 L-4.6,-4.0 M-3.0,-5.3 L-2.3,-6.9 M0,0 L-0.9,-1.8 L-2.2,-3.5 L-3.0,-5.3 M-0.5,-4.6 L1.8,-6.0 M-0.9,-6.9 L-3.8,-7.8 M0,0 L-0.1,-2.3 L-0.5,-4.6 L-0.9,-6.9 M3.9,-5.8 L6.3,-6.9 M0,0 L1.7,-1.8 L2.7,-3.8 L3.9,-5.8 M4.3,-1.0 L4.7,-2.4 M6.4,-1.7 L8.4,-1.3 M0,0 L2.2,-0.4 L4.3,-1.0 L6.4,-1.7 M-0.2,2.1 L-1.1,2.3 M0,0 L-0.0,0.7 L0.1,1.4 L-0.2,2.1 M0.9,1.4 L1.9,1.5 M1.1,2.1 L2.0,2.4 M0,0 L0.5,0.7 L0.9,1.4 L1.1,2.1 M-2.2,2.1 L-3.3,2.1 M0,0 L-0.7,0.7 L-1.3,1.4 L-2.2,2.1 M-1.4,-0.4 L-1.7,-0.8 M-2.1,-0.6 L-2.4,-1.0 M0,0 L-0.7,-0.3 L-1.4,-0.4 L-2.1,-0.6 M-1.6,-2.3 L-0.8,-2.9 M0,0 L-0.6,-0.8 L-1.2,-1.5 L-1.6,-2.3 M-3.4,-0.1 L-4.2,-0.5 M0,0 L-1.1,0.1 L-2.3,0.0 L-3.4,-0.1 M0.7,-1.5 L1.6,-1.8 M0.6,-2.3 L1.3,-2.8 M0,0 L0.4,-0.7 L0.7,-1.5 L0.6,-2.3 M1.7,2.3 L2.5,2.9 M0,0 L0.8,0.7 L1.4,1.5 L1.7,2.3 M2.2,-0.3 L2.7,-0.9 M0,0 L1.1,-0.1 L2.2,-0.3 L3.2,-0.6 M2.1,-0.3 L2.8,0.2 M3.1,-0.4 L3.9,-0.0 M0,0 L1.0,-0.1 L2.1,-0.3 L3.1,-0.4 M-2.0,0.8 L-3.0,0.7 M-2.9,1.4 L-3.9,1.2 M0,0 L-0.9,0.5 L-2.0,0.8 L-2.9,1.4 M2.4,-0.3 L3.2,-0.7 M3.5,-0.1 L4.0,0.6 M0,0 L1.2,-0.2 L2.4,-0.3 L3.5,-0.1 M1.4,-1.0 L2.3,-1.1 M2.2,-1.4 L3.1,-1.3 M0,0 L0.8,-0.5 L1.4,-1.0 L2.2,-1.4 M-0.3,1.2 L-0.9,1.6 M-0.2,1.8 L-0.7,2.3 M0,0 L0.0,0.6 L-0.3,1.2 L-0.2,1.8 M1.7,0.2 L2.2,-0.2 M2.5,0.4 L2.7,0.9 M0,0 L0.8,0.1 L1.7,0.2 L2.5,0.4 M-0.0,-1.3 L-0.3,-1.8 M-0.1,-1.9 L0.4,-2.3 M0,0 L-0.2,-0.6 L-0.0,-1.3 L-0.1,-1.9"/><ellipse cx="0" cy="0" rx="1.2" ry="0.90" fill="#6a3fa8" stroke="none"/></g>
<rect x="327.2" y="139.5" width="25.2" height="28.9" fill="#fff" stroke="#e8bb1e" stroke-width="1.2"/>
<g transform="translate(338.30 154.45) scale(1.0)" opacity="1.0" fill="none" stroke="#ea5f6b" stroke-width="0.42" stroke-linecap="round"><path d="M-2.3,-5.5 L-2.3,9.6 L3,9.9 M0.1,-6 L0.1,9.7 M2.5,-5.5 L2.5,4 L2.1,9.8 L8.6,9.1 M-2.3,-5.5 L-5.6,-8.6 L-7.4,-8.2 M-5.6,-8.6 L-6,-10.6 M-2.3,-5.5 L-3.6,-10.4 M-3.1,-8.4 L-4.6,-10.8 M-2.3,-6 L-1.2,-10.8 M0.1,-6 L-0.5,-11 M0.1,-6 L1.5,-10.4 M0.9,-8.6 L2.3,-10.9 M2.5,-5.5 L3.3,-10.4 M2.5,-5.5 L5.4,-9.2 L5.2,-11 M5.4,-9.2 L7.4,-10 M2.5,-5 L6.6,-7 L8.4,-6.6 M6.6,-7 L7.6,-8.8 M-1,-3 L-2.3,-1.4 M1.3,-2 L2.5,-0.8"/><ellipse cx="1.4" cy="3.2" rx="1.35" ry="2" fill="#ea5f6b" stroke="none"/><ellipse cx="-1.1" cy="-0.8" rx="0.8" ry="1.4" fill="#ea5f6b" fill-opacity="0.55" stroke="none"/></g>
<circle cx="312.6" cy="111.6" r="0.9" fill="#000"/>
<circle cx="316.2" cy="111.6" r="0.9" fill="#000"/>
<circle cx="319.8" cy="111.6" r="0.9" fill="#000"/>
<text x="288" y="186.4" font-size="8.7" text-anchor="middle" fill="#1a1a1a"><tspan font-style="italic">n</tspan> = 37</text>
<path d="M286.1,196.3 L286.1,209.5" stroke="#000" stroke-width="2" fill="none"/><path d="M286.1,214 L283,207.8 L289.2,207.8 Z" fill="#000"/>
<text x="285.90" y="223.90" font-size="10" text-anchor="middle" fill="#1a1a1a">Marker deduction</text>
<text x="367.60" y="12.00" font-size="14" font-weight="bold" fill="#000">b</text>
<path d="M421,77.90 L670,77.90" stroke="#c9c9c9" stroke-width="0.8" stroke-dasharray="0.9 4.1" fill="none"/>
<path d="M421,51.60 L670,51.60" stroke="#c9c9c9" stroke-width="0.8" stroke-dasharray="0.9 4.1" fill="none"/>
<path d="M421,25.30 L670,25.30" stroke="#c9c9c9" stroke-width="0.8" stroke-dasharray="0.9 4.1" fill="none"/>
<path d="M421,104.20 L670,104.20" stroke="#c9c9c9" stroke-width="0.8" stroke-dasharray="0.9 4.1" fill="none"/>
<rect x="420.80" y="102.89" width="18.6" height="1.31" fill="#c5e0a8"/>
<rect x="441.52" y="93.68" width="18.6" height="10.52" fill="#f2d0e4"/>
<rect x="462.24" y="88.42" width="18.6" height="15.78" fill="#2d824b"/>
<rect x="482.96" y="98.94" width="18.6" height="5.26" fill="#e1aaaa"/>
<rect x="503.68" y="100.26" width="18.6" height="3.94" fill="#f05f78"/>
<rect x="524.40" y="98.94" width="18.6" height="5.26" fill="#cd283c"/>
<rect x="565.84" y="98.94" width="18.6" height="5.26" fill="#c8875f"/>
<rect x="586.56" y="54.23" width="18.6" height="49.97" fill="#80507d"/>
<rect x="607.28" y="92.37" width="18.6" height="11.83" fill="#2d5f8c"/>
<rect x="628.00" y="95.00" width="18.6" height="9.21" fill="#f2c85f"/>
<rect x="648.72" y="42.40" width="18.6" height="61.80" fill="#48505f"/>
<path d="M417.6,24.10 L417.6,104.20" stroke="#111" stroke-width="0.8" fill="none"/>
<path d="M415.4,104.20 L417.6,104.20" stroke="#111" stroke-width="0.7"/>
<text x="412.80" y="107.10" font-size="8.3" text-anchor="end" fill="#1a1a1a">0</text>
<path d="M415.4,77.90 L417.6,77.90" stroke="#111" stroke-width="0.7"/>
<text x="412.80" y="80.80" font-size="8.3" text-anchor="end" fill="#1a1a1a">20</text>
<path d="M415.4,51.60 L417.6,51.60" stroke="#111" stroke-width="0.7"/>
<text x="412.80" y="54.50" font-size="8.3" text-anchor="end" fill="#1a1a1a">40</text>
<path d="M415.4,25.30 L417.6,25.30" stroke="#111" stroke-width="0.7"/>
<text x="412.80" y="28.20" font-size="8.3" text-anchor="end" fill="#1a1a1a">60</text>
<path d="M421,164.90 L670,164.90" stroke="#c9c9c9" stroke-width="0.8" stroke-dasharray="0.9 4.1" fill="none"/>
<path d="M421,138.50 L670,138.50" stroke="#c9c9c9" stroke-width="0.8" stroke-dasharray="0.9 4.1" fill="none"/>
<path d="M421,112.10 L670,112.10" stroke="#c9c9c9" stroke-width="0.8" stroke-dasharray="0.9 4.1" fill="none"/>
<rect x="420.80" y="178.10" width="18.6" height="13.20" fill="#c5e0a8"/>
<rect x="441.52" y="164.90" width="18.6" height="26.40" fill="#f2d0e4"/>
<rect x="462.24" y="151.70" width="18.6" height="39.60" fill="#2d824b"/>
<rect x="503.68" y="183.38" width="18.6" height="7.92" fill="#f05f78"/>
<rect x="524.40" y="162.26" width="18.6" height="29.04" fill="#cd283c"/>
<rect x="565.84" y="179.42" width="18.6" height="11.88" fill="#c8875f"/>
<rect x="586.56" y="110.12" width="18.6" height="81.18" fill="#80507d"/>
<rect x="607.28" y="179.42" width="18.6" height="11.88" fill="#2d5f8c"/>
<rect x="628.00" y="116.06" width="18.6" height="75.24" fill="#f2c85f"/>
<rect x="648.72" y="118.70" width="18.6" height="72.60" fill="#48505f"/>
<path d="M417.6,110.90 L417.6,191.30" stroke="#111" stroke-width="0.8" fill="none"/>
<path d="M415.4,191.30 L417.6,191.30" stroke="#111" stroke-width="0.7"/>
<text x="412.80" y="194.20" font-size="8.3" text-anchor="end" fill="#1a1a1a">0</text>
<path d="M415.4,164.90 L417.6,164.90" stroke="#111" stroke-width="0.7"/>
<text x="412.80" y="167.80" font-size="8.3" text-anchor="end" fill="#1a1a1a">20</text>
<path d="M415.4,138.50 L417.6,138.50" stroke="#111" stroke-width="0.7"/>
<text x="412.80" y="141.40" font-size="8.3" text-anchor="end" fill="#1a1a1a">40</text>
<path d="M415.4,112.10 L417.6,112.10" stroke="#111" stroke-width="0.7"/>
<text x="412.80" y="115.00" font-size="8.3" text-anchor="end" fill="#1a1a1a">60</text>
<path d="M417.2,191.3 L670.8,191.3" stroke="#111" stroke-width="0.8"/>
<text transform="translate(396.20 106.70) rotate(-90)" font-size="8.63" text-anchor="middle" fill="#1a1a1a">Number of distinct matrisome marker genes</text>
<text transform="translate(677.60 64.80) rotate(90)" font-size="8.6" text-anchor="middle" fill="#1a1a1a">Core matrisome</text>
<text transform="translate(677.60 150.80) rotate(90)" font-size="8.7" text-anchor="middle" fill="#1a1a1a">Matrisome-associated</text>
<text transform="translate(433.10 194.60) rotate(-90)" font-size="8.6" text-anchor="end" fill="#1a1a1a">vRG</text>
<text transform="translate(453.82 194.60) rotate(-90)" font-size="8.6" text-anchor="end" fill="#1a1a1a">oRG</text>
<text transform="translate(474.54 194.60) rotate(-90)" font-size="8.6" text-anchor="end" fill="#1a1a1a">tRG</text>
<text transform="translate(495.26 194.60) rotate(-90)" font-size="8.6" text-anchor="end" fill="#1a1a1a">IPC</text>
<text transform="translate(515.98 194.60) rotate(-90)" font-size="8.6" text-anchor="end" fill="#1a1a1a">Imm.GExN</text>
<text transform="translate(536.70 194.60) rotate(-90)" font-size="8.6" text-anchor="end" fill="#1a1a1a">M.GExN</text>
<text transform="translate(551.82 194.60) rotate(-90)" font-size="8.6" text-anchor="end" fill="#1a1a1a">Unspecific</text>
<text transform="translate(563.02 194.60) rotate(-90)" font-size="8.6" text-anchor="end" fill="#1a1a1a">neuron</text>
<text transform="translate(578.14 194.60) rotate(-90)" font-size="8.6" text-anchor="end" fill="#1a1a1a">GABA IN</text>
<text transform="translate(598.86 194.60) rotate(-90)" font-size="8.6" text-anchor="end" fill="#1a1a1a">Astrocyte</text>
<text transform="translate(619.58 194.60) rotate(-90)" font-size="8.6" text-anchor="end" fill="#1a1a1a">OPC</text>
<text transform="translate(640.30 194.60) rotate(-90)" font-size="8.6" text-anchor="end" fill="#1a1a1a">Microglia</text>
<text transform="translate(661.02 194.60) rotate(-90)" font-size="8.6" text-anchor="end" fill="#1a1a1a">Endothelial</text>
<text x="-0.20" y="277.40" font-size="14" font-weight="bold" fill="#000">c</text>
<rect x="23.00" y="321.7" width="23.3" height="4.9" fill="#c5e0a8"/>
<text transform="translate(37.65 318.60) rotate(-90)" font-size="8.6" fill="#1a1a1a">vRG</text>
<rect x="47.70" y="321.7" width="23.3" height="4.9" fill="#f2d0e4"/>
<text transform="translate(62.35 318.60) rotate(-90)" font-size="8.6" fill="#1a1a1a">oRG</text>
<rect x="72.40" y="321.7" width="23.3" height="4.9" fill="#2d824b"/>
<text transform="translate(87.05 318.60) rotate(-90)" font-size="8.6" fill="#1a1a1a">tRG</text>
<rect x="97.10" y="321.7" width="23.3" height="4.9" fill="#e1aaaa"/>
<text transform="translate(111.75 318.60) rotate(-90)" font-size="8.6" fill="#1a1a1a">IPC</text>
<rect x="121.80" y="321.7" width="23.3" height="4.9" fill="#f05f78"/>
<text transform="translate(136.45 318.60) rotate(-90)" font-size="8.6" fill="#1a1a1a">Imm.GExN</text>
<rect x="146.50" y="321.7" width="23.3" height="4.9" fill="#cd283c"/>
<text transform="translate(161.15 318.60) rotate(-90)" font-size="8.6" fill="#1a1a1a">M.GExN</text>
<rect x="171.20" y="321.7" width="23.3" height="4.9" fill="#c8825a"/>
<text transform="translate(185.85 318.60) rotate(-90)" font-size="8.6" fill="#1a1a1a">GABA IN</text>
<rect x="195.90" y="321.7" width="23.3" height="4.9" fill="#7d4b7d"/>
<text transform="translate(210.55 318.60) rotate(-90)" font-size="8.6" fill="#1a1a1a">Astrocyte</text>
<rect x="220.60" y="321.7" width="23.3" height="4.9" fill="#2d5f91"/>
<text transform="translate(235.25 318.60) rotate(-90)" font-size="8.6" fill="#1a1a1a">OPC</text>
<rect x="245.30" y="321.7" width="23.3" height="4.9" fill="#f2c85a"/>
<text transform="translate(259.95 318.60) rotate(-90)" font-size="8.6" fill="#1a1a1a">Microglia</text>
<rect x="270.00" y="321.7" width="23.3" height="4.9" fill="#48505f"/>
<text transform="translate(284.65 318.60) rotate(-90)" font-size="8.6" fill="#1a1a1a">Endothelial</text>
<rect x="23.30" y="289.2" width="72.40" height="2.6" fill="#a3c4a0"/>
<text x="59.35" y="285.80" font-size="8.6" text-anchor="middle" fill="#1a1a1a">NSC</text>
<rect x="23.00" y="329.70" width="23.3" height="8.02" fill="#303017"/>
<rect x="23.00" y="336.72" width="23.3" height="8.02" fill="#09192b"/>
<rect x="23.00" y="343.74" width="23.3" height="8.02" fill="#09192b"/>
<rect x="23.00" y="350.76" width="23.3" height="8.02" fill="#18180d"/>
<rect x="23.00" y="357.78" width="23.3" height="8.02" fill="#080e16"/>
<rect x="23.00" y="364.80" width="23.3" height="8.02" fill="#848434"/>
<rect x="23.00" y="371.82" width="23.3" height="8.02" fill="#848434"/>
<rect x="23.00" y="378.84" width="23.3" height="8.02" fill="#505023"/>
<rect x="23.00" y="385.86" width="23.3" height="8.02" fill="#10325a"/>
<rect x="23.00" y="392.88" width="23.3" height="8.02" fill="#09192b"/>
<rect x="23.00" y="399.90" width="23.3" height="8.02" fill="#69692c"/>
<rect x="23.00" y="406.92" width="23.3" height="8.02" fill="#989839"/>
<rect x="23.00" y="413.94" width="23.3" height="8.02" fill="#989839"/>
<rect x="23.00" y="420.96" width="23.3" height="8.02" fill="#080e16"/>
<rect x="23.00" y="427.98" width="23.3" height="8.02" fill="#303017"/>
<rect x="23.00" y="435.00" width="23.3" height="8.02" fill="#145496"/>
<rect x="23.00" y="442.02" width="23.3" height="8.02" fill="#0a2644"/>
<rect x="23.00" y="449.04" width="23.3" height="8.02" fill="#145496"/>
<rect x="23.00" y="456.06" width="23.3" height="8.02" fill="#183e6e"/>
<rect x="23.00" y="463.08" width="23.3" height="8.02" fill="#183e6e"/>
<rect x="23.00" y="470.10" width="23.3" height="8.02" fill="#080e16"/>
<rect x="23.00" y="477.12" width="23.3" height="8.02" fill="#174a83"/>
<rect x="23.00" y="484.14" width="23.3" height="8.02" fill="#09192b"/>
<rect x="23.00" y="491.16" width="23.3" height="8.02" fill="#0a2644"/>
<rect x="23.00" y="498.18" width="23.3" height="8.02" fill="#0a2644"/>
<rect x="23.00" y="505.20" width="23.3" height="8.02" fill="#10325a"/>
<rect x="23.00" y="512.22" width="23.3" height="8.02" fill="#080e16"/>
<rect x="23.00" y="519.24" width="23.3" height="8.02" fill="#0a2644"/>
<rect x="23.00" y="526.26" width="23.3" height="8.02" fill="#10325a"/>
<rect x="23.00" y="533.28" width="23.3" height="8.02" fill="#0a2644"/>
<rect x="23.00" y="540.30" width="23.3" height="8.02" fill="#080e16"/>
<rect x="23.00" y="547.32" width="23.3" height="8.02" fill="#10325a"/>
<rect x="23.00" y="554.34" width="23.3" height="8.02" fill="#080e16"/>
<rect x="23.00" y="561.36" width="23.3" height="8.02" fill="#18180d"/>
<rect x="23.00" y="568.38" width="23.3" height="8.02" fill="#10325a"/>
<rect x="23.00" y="575.40" width="23.3" height="8.02" fill="#174a83"/>
<rect x="23.00" y="582.42" width="23.3" height="8.02" fill="#09192b"/>
<rect x="23.00" y="589.44" width="23.3" height="8.02" fill="#09192b"/>
<rect x="23.00" y="596.46" width="23.3" height="8.02" fill="#09192b"/>
<rect x="23.00" y="603.48" width="23.3" height="8.02" fill="#09192b"/>
<rect x="23.00" y="610.50" width="23.3" height="8.02" fill="#081420"/>
<rect x="23.00" y="617.52" width="23.3" height="8.02" fill="#09192b"/>
<rect x="23.00" y="624.54" width="23.3" height="8.02" fill="#09192b"/>
<rect x="23.00" y="631.56" width="23.3" height="8.02" fill="#09192b"/>
<rect x="23.00" y="638.58" width="23.3" height="8.02" fill="#09192b"/>
<rect x="23.00" y="645.60" width="23.3" height="7.02" fill="#09192b"/>
<rect x="47.70" y="329.70" width="23.3" height="8.02" fill="#303017"/>
<rect x="47.70" y="336.72" width="23.3" height="8.02" fill="#848434"/>
<rect x="47.70" y="343.74" width="23.3" height="8.02" fill="#303017"/>
<rect x="47.70" y="350.76" width="23.3" height="8.02" fill="#f7ec19"/>
<rect x="47.70" y="357.78" width="23.3" height="8.02" fill="#848434"/>
<rect x="47.70" y="364.80" width="23.3" height="8.02" fill="#989839"/>
<rect x="47.70" y="371.82" width="23.3" height="8.02" fill="#848434"/>
<rect x="47.70" y="378.84" width="23.3" height="8.02" fill="#69692c"/>
<rect x="47.70" y="385.86" width="23.3" height="8.02" fill="#0a2644"/>
<rect x="47.70" y="392.88" width="23.3" height="8.02" fill="#18180d"/>
<rect x="47.70" y="399.90" width="23.3" height="8.02" fill="#69692c"/>
<rect x="47.70" y="406.92" width="23.3" height="8.02" fill="#0a2644"/>
<rect x="47.70" y="413.94" width="23.3" height="8.02" fill="#505023"/>
<rect x="47.70" y="420.96" width="23.3" height="8.02" fill="#183e6e"/>
<rect x="47.70" y="427.98" width="23.3" height="8.02" fill="#183e6e"/>
<rect x="47.70" y="435.00" width="23.3" height="8.02" fill="#09192b"/>
<rect x="47.70" y="442.02" width="23.3" height="8.02" fill="#0a2644"/>
<rect x="47.70" y="449.04" width="23.3" height="8.02" fill="#183e6e"/>
<rect x="47.70" y="456.06" width="23.3" height="8.02" fill="#0a2644"/>
<rect x="47.70" y="463.08" width="23.3" height="8.02" fill="#0a2644"/>
<rect x="47.70" y="470.10" width="23.3" height="8.02" fill="#183e6e"/>
<rect x="47.70" y="477.12" width="23.3" height="8.02" fill="#183e6e"/>
<rect x="47.70" y="484.14" width="23.3" height="8.02" fill="#080e16"/>
<rect x="47.70" y="491.16" width="23.3" height="8.02" fill="#080e16"/>
<rect x="47.70" y="498.18" width="23.3" height="8.02" fill="#09192b"/>
<rect x="47.70" y="505.20" width="23.3" height="8.02" fill="#09192b"/>
<rect x="47.70" y="512.22" width="23.3" height="8.02" fill="#505023"/>
<rect x="47.70" y="519.24" width="23.3" height="8.02" fill="#69692c"/>
<rect x="47.70" y="526.26" width="23.3" height="8.02" fill="#5c5c28"/>
<rect x="47.70" y="533.28" width="23.3" height="8.02" fill="#848434"/>
<rect x="47.70" y="540.30" width="23.3" height="8.02" fill="#09192b"/>
<rect x="47.70" y="547.32" width="23.3" height="8.02" fill="#0d2c4f"/>
<rect x="47.70" y="554.34" width="23.3" height="8.02" fill="#080808"/>
<rect x="47.70" y="561.36" width="23.3" height="8.02" fill="#303017"/>
<rect x="47.70" y="568.38" width="23.3" height="8.02" fill="#0a2644"/>
<rect x="47.70" y="575.40" width="23.3" height="8.02" fill="#145496"/>
<rect x="47.70" y="582.42" width="23.3" height="8.02" fill="#09192b"/>
<rect x="47.70" y="589.44" width="23.3" height="8.02" fill="#09192b"/>
<rect x="47.70" y="596.46" width="23.3" height="8.02" fill="#09192b"/>
<rect x="47.70" y="603.48" width="23.3" height="8.02" fill="#09192b"/>
<rect x="47.70" y="610.50" width="23.3" height="8.02" fill="#0a2038"/>
<rect x="47.70" y="617.52" width="23.3" height="8.02" fill="#09192b"/>
<rect x="47.70" y="624.54" width="23.3" height="8.02" fill="#09192b"/>
<rect x="47.70" y="631.56" width="23.3" height="8.02" fill="#09192b"/>
<rect x="47.70" y="638.58" width="23.3" height="8.02" fill="#09192b"/>
<rect x="47.70" y="645.60" width="23.3" height="7.02" fill="#09192b"/>
<rect x="72.40" y="329.70" width="23.3" height="8.02" fill="#b9b937"/>
<rect x="72.40" y="336.72" width="23.3" height="8.02" fill="#505023"/>
<rect x="72.40" y="343.74" width="23.3" height="8.02" fill="#080e16"/>
<rect x="72.40" y="350.76" width="23.3" height="8.02" fill="#080e16"/>
<rect x="72.40" y="357.78" width="23.3" height="8.02" fill="#f7ec19"/>
<rect x="72.40" y="364.80" width="23.3" height="8.02" fill="#f7ec19"/>
<rect x="72.40" y="371.82" width="23.3" height="8.02" fill="#f7ec19"/>
<rect x="72.40" y="378.84" width="23.3" height="8.02" fill="#d4d230"/>
<rect x="72.40" y="385.86" width="23.3" height="8.02" fill="#848434"/>
<rect x="72.40" y="392.88" width="23.3" height="8.02" fill="#d4d230"/>
<rect x="72.40" y="399.90" width="23.3" height="8.02" fill="#f7ec19"/>
<rect x="72.40" y="406.92" width="23.3" height="8.02" fill="#505023"/>
<rect x="72.40" y="413.94" width="23.3" height="8.02" fill="#145496"/>
<rect x="72.40" y="420.96" width="23.3" height="8.02" fill="#183e6e"/>
<rect x="72.40" y="427.98" width="23.3" height="8.02" fill="#1862af"/>
<rect x="72.40" y="435.00" width="23.3" height="8.02" fill="#080808"/>
<rect x="72.40" y="442.02" width="23.3" height="8.02" fill="#183e6e"/>
<rect x="72.40" y="449.04" width="23.3" height="8.02" fill="#1862af"/>
<rect x="72.40" y="456.06" width="23.3" height="8.02" fill="#286cbc"/>
<rect x="72.40" y="463.08" width="23.3" height="8.02" fill="#1862af"/>
<rect x="72.40" y="470.10" width="23.3" height="8.02" fill="#145496"/>
<rect x="72.40" y="477.12" width="23.3" height="8.02" fill="#3e80ca"/>
<rect x="72.40" y="484.14" width="23.3" height="8.02" fill="#09192b"/>
<rect x="72.40" y="491.16" width="23.3" height="8.02" fill="#080808"/>
<rect x="72.40" y="498.18" width="23.3" height="8.02" fill="#10325a"/>
<rect x="72.40" y="505.20" width="23.3" height="8.02" fill="#10325a"/>
<rect x="72.40" y="512.22" width="23.3" height="8.02" fill="#080808"/>
<rect x="72.40" y="519.24" width="23.3" height="8.02" fill="#10325a"/>
<rect x="72.40" y="526.26" width="23.3" height="8.02" fill="#10325a"/>
<rect x="72.40" y="533.28" width="23.3" height="8.02" fill="#080e16"/>
<rect x="72.40" y="540.30" width="23.3" height="8.02" fill="#09192b"/>
<rect x="72.40" y="547.32" width="23.3" height="8.02" fill="#0d2c4f"/>
<rect x="72.40" y="554.34" width="23.3" height="8.02" fill="#09192b"/>
<rect x="72.40" y="561.36" width="23.3" height="8.02" fill="#09192b"/>
<rect x="72.40" y="568.38" width="23.3" height="8.02" fill="#080e16"/>
<rect x="72.40" y="575.40" width="23.3" height="8.02" fill="#164f8c"/>
<rect x="72.40" y="582.42" width="23.3" height="8.02" fill="#09192b"/>
<rect x="72.40" y="589.44" width="23.3" height="8.02" fill="#09192b"/>
<rect x="72.40" y="596.46" width="23.3" height="8.02" fill="#09192b"/>
<rect x="72.40" y="603.48" width="23.3" height="8.02" fill="#080808"/>
<rect x="72.40" y="610.50" width="23.3" height="8.02" fill="#0a213a"/>
<rect x="72.40" y="617.52" width="23.3" height="8.02" fill="#080e16"/>
<rect x="72.40" y="624.54" width="23.3" height="8.02" fill="#09192b"/>
<rect x="72.40" y="631.56" width="23.3" height="8.02" fill="#09192b"/>
<rect x="72.40" y="638.58" width="23.3" height="8.02" fill="#09192b"/>
<rect x="72.40" y="645.60" width="23.3" height="7.02" fill="#09192b"/>
<rect x="97.10" y="329.70" width="23.3" height="8.02" fill="#09192b"/>
<rect x="97.10" y="336.72" width="23.3" height="8.02" fill="#09192b"/>
<rect x="97.10" y="343.74" width="23.3" height="8.02" fill="#0a2644"/>
<rect x="97.10" y="350.76" width="23.3" height="8.02" fill="#505023"/>
<rect x="97.10" y="357.78" width="23.3" height="8.02" fill="#10325a"/>
<rect x="97.10" y="364.80" width="23.3" height="8.02" fill="#080808"/>
<rect x="97.10" y="371.82" width="23.3" height="8.02" fill="#080808"/>
<rect x="97.10" y="378.84" width="23.3" height="8.02" fill="#0a2644"/>
<rect x="97.10" y="385.86" width="23.3" height="8.02" fill="#0a2644"/>
<rect x="97.10" y="392.88" width="23.3" height="8.02" fill="#183e6e"/>
<rect x="97.10" y="399.90" width="23.3" height="8.02" fill="#080e16"/>
<rect x="97.10" y="406.92" width="23.3" height="8.02" fill="#f7ec19"/>
<rect x="97.10" y="413.94" width="23.3" height="8.02" fill="#f7ec19"/>
<rect x="97.10" y="420.96" width="23.3" height="8.02" fill="#b9b937"/>
<rect x="97.10" y="427.98" width="23.3" height="8.02" fill="#f7ec19"/>
<rect x="97.10" y="435.00" width="23.3" height="8.02" fill="#080e16"/>
<rect x="97.10" y="442.02" width="23.3" height="8.02" fill="#303017"/>
<rect x="97.10" y="449.04" width="23.3" height="8.02" fill="#080e16"/>
<rect x="97.10" y="456.06" width="23.3" height="8.02" fill="#080808"/>
<rect x="97.10" y="463.08" width="23.3" height="8.02" fill="#183e6e"/>
<rect x="97.10" y="470.10" width="23.3" height="8.02" fill="#174a83"/>
<rect x="97.10" y="477.12" width="23.3" height="8.02" fill="#10325a"/>
<rect x="97.10" y="484.14" width="23.3" height="8.02" fill="#09192b"/>
<rect x="97.10" y="491.16" width="23.3" height="8.02" fill="#09192b"/>
<rect x="97.10" y="498.18" width="23.3" height="8.02" fill="#0a2644"/>
<rect x="97.10" y="505.20" width="23.3" height="8.02" fill="#10325a"/>
<rect x="97.10" y="512.22" width="23.3" height="8.02" fill="#10325a"/>
<rect x="97.10" y="519.24" width="23.3" height="8.02" fill="#10325a"/>
<rect x="97.10" y="526.26" width="23.3" height="8.02" fill="#10325a"/>
<rect x="97.10" y="533.28" width="23.3" height="8.02" fill="#10325a"/>
<rect x="97.10" y="540.30" width="23.3" height="8.02" fill="#0a2644"/>
<rect x="97.10" y="547.32" width="23.3" height="8.02" fill="#10325a"/>
<rect x="97.10" y="554.34" width="23.3" height="8.02" fill="#0a2644"/>
<rect x="97.10" y="561.36" width="23.3" height="8.02" fill="#080e16"/>
<rect x="97.10" y="568.38" width="23.3" height="8.02" fill="#0a2644"/>
<rect x="97.10" y="575.40" width="23.3" height="8.02" fill="#080e16"/>
<rect x="97.10" y="582.42" width="23.3" height="8.02" fill="#09192b"/>
<rect x="97.10" y="589.44" width="23.3" height="8.02" fill="#09192b"/>
<rect x="97.10" y="596.46" width="23.3" height="8.02" fill="#09192b"/>
<rect x="97.10" y="603.48" width="23.3" height="8.02" fill="#09192b"/>
<rect x="97.10" y="610.50" width="23.3" height="8.02" fill="#0a213a"/>
<rect x="97.10" y="617.52" width="23.3" height="8.02" fill="#09192b"/>
<rect x="97.10" y="624.54" width="23.3" height="8.02" fill="#09192b"/>
<rect x="97.10" y="631.56" width="23.3" height="8.02" fill="#09192b"/>
<rect x="97.10" y="638.58" width="23.3" height="8.02" fill="#09192b"/>
<rect x="97.10" y="645.60" width="23.3" height="7.02" fill="#09192b"/>
<rect x="121.80" y="329.70" width="23.3" height="8.02" fill="#174a83"/>
<rect x="121.80" y="336.72" width="23.3" height="8.02" fill="#0a2644"/>
<rect x="121.80" y="343.74" width="23.3" height="8.02" fill="#0a2644"/>
<rect x="121.80" y="350.76" width="23.3" height="8.02" fill="#145496"/>
<rect x="121.80" y="357.78" width="23.3" height="8.02" fill="#183e6e"/>
<rect x="121.80" y="364.80" width="23.3" height="8.02" fill="#174a83"/>
<rect x="121.80" y="371.82" width="23.3" height="8.02" fill="#183e6e"/>
<rect x="121.80" y="378.84" width="23.3" height="8.02" fill="#174a83"/>
<rect x="121.80" y="385.86" width="23.3" height="8.02" fill="#183e6e"/>
<rect x="121.80" y="392.88" width="23.3" height="8.02" fill="#183e6e"/>
<rect x="121.80" y="399.90" width="23.3" height="8.02" fill="#183e6e"/>
<rect x="121.80" y="406.92" width="23.3" height="8.02" fill="#183e6e"/>
<rect x="121.80" y="413.94" width="23.3" height="8.02" fill="#505023"/>
<rect x="121.80" y="420.96" width="23.3" height="8.02" fill="#18180d"/>
<rect x="121.80" y="427.98" width="23.3" height="8.02" fill="#505023"/>
<rect x="121.80" y="435.00" width="23.3" height="8.02" fill="#e6df24"/>
<rect x="121.80" y="442.02" width="23.3" height="8.02" fill="#f7ec19"/>
<rect x="121.80" y="449.04" width="23.3" height="8.02" fill="#f7ec19"/>
<rect x="121.80" y="456.06" width="23.3" height="8.02" fill="#69692c"/>
<rect x="121.80" y="463.08" width="23.3" height="8.02" fill="#18180d"/>
<rect x="121.80" y="470.10" width="23.3" height="8.02" fill="#0a2644"/>
<rect x="121.80" y="477.12" width="23.3" height="8.02" fill="#080e16"/>
<rect x="121.80" y="484.14" width="23.3" height="8.02" fill="#080e16"/>
<rect x="121.80" y="491.16" width="23.3" height="8.02" fill="#18180d"/>
<rect x="121.80" y="498.18" width="23.3" height="8.02" fill="#0a2644"/>
<rect x="121.80" y="505.20" width="23.3" height="8.02" fill="#09192b"/>
<rect x="121.80" y="512.22" width="23.3" height="8.02" fill="#09192b"/>
<rect x="121.80" y="519.24" width="23.3" height="8.02" fill="#0a2644"/>
<rect x="121.80" y="526.26" width="23.3" height="8.02" fill="#10325a"/>
<rect x="121.80" y="533.28" width="23.3" height="8.02" fill="#10325a"/>
<rect x="121.80" y="540.30" width="23.3" height="8.02" fill="#09192b"/>
<rect x="121.80" y="547.32" width="23.3" height="8.02" fill="#09192b"/>
<rect x="121.80" y="554.34" width="23.3" height="8.02" fill="#09192b"/>
<rect x="121.80" y="561.36" width="23.3" height="8.02" fill="#143864"/>
<rect x="121.80" y="568.38" width="23.3" height="8.02" fill="#09192b"/>
<rect x="121.80" y="575.40" width="23.3" height="8.02" fill="#b9b937"/>
<rect x="121.80" y="582.42" width="23.3" height="8.02" fill="#09192b"/>
<rect x="121.80" y="589.44" width="23.3" height="8.02" fill="#09192b"/>
<rect x="121.80" y="596.46" width="23.3" height="8.02" fill="#09192b"/>
<rect x="121.80" y="603.48" width="23.3" height="8.02" fill="#081420"/>
<rect x="121.80" y="610.50" width="23.3" height="8.02" fill="#0a2038"/>
<rect x="121.80" y="617.52" width="23.3" height="8.02" fill="#09192b"/>
<rect x="121.80" y="624.54" width="23.3" height="8.02" fill="#09192b"/>
<rect x="121.80" y="631.56" width="23.3" height="8.02" fill="#09192b"/>
<rect x="121.80" y="638.58" width="23.3" height="8.02" fill="#09192b"/>
<rect x="121.80" y="645.60" width="23.3" height="7.02" fill="#09192b"/>
<rect x="146.50" y="329.70" width="23.3" height="8.02" fill="#174a83"/>
<rect x="146.50" y="336.72" width="23.3" height="8.02" fill="#174a83"/>
<rect x="146.50" y="343.74" width="23.3" height="8.02" fill="#10325a"/>
<rect x="146.50" y="350.76" width="23.3" height="8.02" fill="#174a83"/>
<rect x="146.50" y="357.78" width="23.3" height="8.02" fill="#183e6e"/>
<rect x="146.50" y="364.80" width="23.3" height="8.02" fill="#174a83"/>
<rect x="146.50" y="371.82" width="23.3" height="8.02" fill="#174a83"/>
<rect x="146.50" y="378.84" width="23.3" height="8.02" fill="#174a83"/>
<rect x="146.50" y="385.86" width="23.3" height="8.02" fill="#09192b"/>
<rect x="146.50" y="392.88" width="23.3" height="8.02" fill="#183e6e"/>
<rect x="146.50" y="399.90" width="23.3" height="8.02" fill="#174a83"/>
<rect x="146.50" y="406.92" width="23.3" height="8.02" fill="#174a83"/>
<rect x="146.50" y="413.94" width="23.3" height="8.02" fill="#080808"/>
<rect x="146.50" y="420.96" width="23.3" height="8.02" fill="#183e6e"/>
<rect x="146.50" y="427.98" width="23.3" height="8.02" fill="#69692c"/>
<rect x="146.50" y="435.00" width="23.3" height="8.02" fill="#0a2644"/>
<rect x="146.50" y="442.02" width="23.3" height="8.02" fill="#242412"/>
<rect x="146.50" y="449.04" width="23.3" height="8.02" fill="#5c5c28"/>
<rect x="146.50" y="456.06" width="23.3" height="8.02" fill="#f7ec19"/>
<rect x="146.50" y="463.08" width="23.3" height="8.02" fill="#f7ec19"/>
<rect x="146.50" y="470.10" width="23.3" height="8.02" fill="#e6df24"/>
<rect x="146.50" y="477.12" width="23.3" height="8.02" fill="#c6c634"/>
<rect x="146.50" y="484.14" width="23.3" height="8.02" fill="#080808"/>
<rect x="146.50" y="491.16" width="23.3" height="8.02" fill="#080e16"/>
<rect x="146.50" y="498.18" width="23.3" height="8.02" fill="#080808"/>
<rect x="146.50" y="505.20" width="23.3" height="8.02" fill="#5c5c28"/>
<rect x="146.50" y="512.22" width="23.3" height="8.02" fill="#0a2644"/>
<rect x="146.50" y="519.24" width="23.3" height="8.02" fill="#080e16"/>
<rect x="146.50" y="526.26" width="23.3" height="8.02" fill="#183e6e"/>
<rect x="146.50" y="533.28" width="23.3" height="8.02" fill="#183e6e"/>
<rect x="146.50" y="540.30" width="23.3" height="8.02" fill="#18180d"/>
<rect x="146.50" y="547.32" width="23.3" height="8.02" fill="#5c5c28"/>
<rect x="146.50" y="554.34" width="23.3" height="8.02" fill="#0a2644"/>
<rect x="146.50" y="561.36" width="23.3" height="8.02" fill="#183e6e"/>
<rect x="146.50" y="568.38" width="23.3" height="8.02" fill="#09192b"/>
<rect x="146.50" y="575.40" width="23.3" height="8.02" fill="#18180d"/>
<rect x="146.50" y="582.42" width="23.3" height="8.02" fill="#09192b"/>
<rect x="146.50" y="589.44" width="23.3" height="8.02" fill="#09192b"/>
<rect x="146.50" y="596.46" width="23.3" height="8.02" fill="#09192b"/>
<rect x="146.50" y="603.48" width="23.3" height="8.02" fill="#09192b"/>
<rect x="146.50" y="610.50" width="23.3" height="8.02" fill="#09192b"/>
<rect x="146.50" y="617.52" width="23.3" height="8.02" fill="#09192b"/>
<rect x="146.50" y="624.54" width="23.3" height="8.02" fill="#09192b"/>
<rect x="146.50" y="631.56" width="23.3" height="8.02" fill="#09192b"/>
<rect x="146.50" y="638.58" width="23.3" height="8.02" fill="#09192b"/>
<rect x="146.50" y="645.60" width="23.3" height="7.02" fill="#09192b"/>
<rect x="171.20" y="329.70" width="23.3" height="8.02" fill="#10325a"/>
<rect x="171.20" y="336.72" width="23.3" height="8.02" fill="#183e6e"/>
<rect x="171.20" y="343.74" width="23.3" height="8.02" fill="#09192b"/>
<rect x="171.20" y="350.76" width="23.3" height="8.02" fill="#174a83"/>
<rect x="171.20" y="357.78" width="23.3" height="8.02" fill="#10325a"/>
<rect x="171.20" y="364.80" width="23.3" height="8.02" fill="#145496"/>
<rect x="171.20" y="371.82" width="23.3" height="8.02" fill="#10325a"/>
<rect x="171.20" y="378.84" width="23.3" height="8.02" fill="#145496"/>
<rect x="171.20" y="385.86" width="23.3" height="8.02" fill="#080e16"/>
<rect x="171.20" y="392.88" width="23.3" height="8.02" fill="#0a2644"/>
<rect x="171.20" y="399.90" width="23.3" height="8.02" fill="#183e6e"/>
<rect x="171.20" y="406.92" width="23.3" height="8.02" fill="#174a83"/>
<rect x="171.20" y="413.94" width="23.3" height="8.02" fill="#0a2644"/>
<rect x="171.20" y="420.96" width="23.3" height="8.02" fill="#0a2644"/>
<rect x="171.20" y="427.98" width="23.3" height="8.02" fill="#080808"/>
<rect x="171.20" y="435.00" width="23.3" height="8.02" fill="#145496"/>
<rect x="171.20" y="442.02" width="23.3" height="8.02" fill="#183e6e"/>
<rect x="171.20" y="449.04" width="23.3" height="8.02" fill="#40401d"/>
<rect x="171.20" y="456.06" width="23.3" height="8.02" fill="#09192b"/>
<rect x="171.20" y="463.08" width="23.3" height="8.02" fill="#5c5c28"/>
<rect x="171.20" y="470.10" width="23.3" height="8.02" fill="#080e16"/>
<rect x="171.20" y="477.12" width="23.3" height="8.02" fill="#989839"/>
<rect x="171.20" y="484.14" width="23.3" height="8.02" fill="#f7ec19"/>
<rect x="171.20" y="491.16" width="23.3" height="8.02" fill="#f7ec19"/>
<rect x="171.20" y="498.18" width="23.3" height="8.02" fill="#f7ec19"/>
<rect x="171.20" y="505.20" width="23.3" height="8.02" fill="#f7ec19"/>
<rect x="171.20" y="512.22" width="23.3" height="8.02" fill="#0d2c4f"/>
<rect x="171.20" y="519.24" width="23.3" height="8.02" fill="#0a2644"/>
<rect x="171.20" y="526.26" width="23.3" height="8.02" fill="#10325a"/>
<rect x="171.20" y="533.28" width="23.3" height="8.02" fill="#0a2644"/>
<rect x="171.20" y="540.30" width="23.3" height="8.02" fill="#080e16"/>
<rect x="171.20" y="547.32" width="23.3" height="8.02" fill="#5c5c28"/>
<rect x="171.20" y="554.34" width="23.3" height="8.02" fill="#09192b"/>
<rect x="171.20" y="561.36" width="23.3" height="8.02" fill="#183e6e"/>
<rect x="171.20" y="568.38" width="23.3" height="8.02" fill="#f7ec19"/>
<rect x="171.20" y="575.40" width="23.3" height="8.02" fill="#5c5c28"/>
<rect x="171.20" y="582.42" width="23.3" height="8.02" fill="#09192b"/>
<rect x="171.20" y="589.44" width="23.3" height="8.02" fill="#09192b"/>
<rect x="171.20" y="596.46" width="23.3" height="8.02" fill="#09192b"/>
<rect x="171.20" y="603.48" width="23.3" height="8.02" fill="#09192b"/>
<rect x="171.20" y="610.50" width="23.3" height="8.02" fill="#09192b"/>
<rect x="171.20" y="617.52" width="23.3" height="8.02" fill="#09192b"/>
<rect x="171.20" y="624.54" width="23.3" height="8.02" fill="#09192b"/>
<rect x="171.20" y="631.56" width="23.3" height="8.02" fill="#09192b"/>
<rect x="171.20" y="638.58" width="23.3" height="8.02" fill="#09192b"/>
<rect x="171.20" y="645.60" width="23.3" height="7.02" fill="#09192b"/>
<rect x="195.90" y="329.70" width="23.3" height="8.02" fill="#a8a838"/>
<rect x="195.90" y="336.72" width="23.3" height="8.02" fill="#f7ec19"/>
<rect x="195.90" y="343.74" width="23.3" height="8.02" fill="#848434"/>
<rect x="195.90" y="350.76" width="23.3" height="8.02" fill="#080e16"/>
<rect x="195.90" y="357.78" width="23.3" height="8.02" fill="#f7ec19"/>
<rect x="195.90" y="364.80" width="23.3" height="8.02" fill="#505023"/>
<rect x="195.90" y="371.82" width="23.3" height="8.02" fill="#303017"/>
<rect x="195.90" y="378.84" width="23.3" height="8.02" fill="#505023"/>
<rect x="195.90" y="385.86" width="23.3" height="8.02" fill="#f7ec19"/>
<rect x="195.90" y="392.88" width="23.3" height="8.02" fill="#d4d230"/>
<rect x="195.90" y="399.90" width="23.3" height="8.02" fill="#848434"/>
<rect x="195.90" y="406.92" width="23.3" height="8.02" fill="#0a2644"/>
<rect x="195.90" y="413.94" width="23.3" height="8.02" fill="#174a83"/>
<rect x="195.90" y="420.96" width="23.3" height="8.02" fill="#848434"/>
<rect x="195.90" y="427.98" width="23.3" height="8.02" fill="#145496"/>
<rect x="195.90" y="435.00" width="23.3" height="8.02" fill="#767630"/>
<rect x="195.90" y="442.02" width="23.3" height="8.02" fill="#183e6e"/>
<rect x="195.90" y="449.04" width="23.3" height="8.02" fill="#183e6e"/>
<rect x="195.90" y="456.06" width="23.3" height="8.02" fill="#080e16"/>
<rect x="195.90" y="463.08" width="23.3" height="8.02" fill="#10100a"/>
<rect x="195.90" y="470.10" width="23.3" height="8.02" fill="#10325a"/>
<rect x="195.90" y="477.12" width="23.3" height="8.02" fill="#40401d"/>
<rect x="195.90" y="484.14" width="23.3" height="8.02" fill="#0a2644"/>
<rect x="195.90" y="491.16" width="23.3" height="8.02" fill="#184478"/>
<rect x="195.90" y="498.18" width="23.3" height="8.02" fill="#242412"/>
<rect x="195.90" y="505.20" width="23.3" height="8.02" fill="#0a2644"/>
<rect x="195.90" y="512.22" width="23.3" height="8.02" fill="#f7ec19"/>
<rect x="195.90" y="519.24" width="23.3" height="8.02" fill="#f7ec19"/>
<rect x="195.90" y="526.26" width="23.3" height="8.02" fill="#f7ec19"/>
<rect x="195.90" y="533.28" width="23.3" height="8.02" fill="#f7ec19"/>
<rect x="195.90" y="540.30" width="23.3" height="8.02" fill="#f7ec19"/>
<rect x="195.90" y="547.32" width="23.3" height="8.02" fill="#0a2038"/>
<rect x="195.90" y="554.34" width="23.3" height="8.02" fill="#f7ec19"/>
<rect x="195.90" y="561.36" width="23.3" height="8.02" fill="#09192b"/>
<rect x="195.90" y="568.38" width="23.3" height="8.02" fill="#10100a"/>
<rect x="195.90" y="575.40" width="23.3" height="8.02" fill="#183e6e"/>
<rect x="195.90" y="582.42" width="23.3" height="8.02" fill="#09192b"/>
<rect x="195.90" y="589.44" width="23.3" height="8.02" fill="#09192b"/>
<rect x="195.90" y="596.46" width="23.3" height="8.02" fill="#09192b"/>
<rect x="195.90" y="603.48" width="23.3" height="8.02" fill="#09192b"/>
<rect x="195.90" y="610.50" width="23.3" height="8.02" fill="#09192b"/>
<rect x="195.90" y="617.52" width="23.3" height="8.02" fill="#09192b"/>
<rect x="195.90" y="624.54" width="23.3" height="8.02" fill="#081420"/>
<rect x="195.90" y="631.56" width="23.3" height="8.02" fill="#18180d"/>
<rect x="195.90" y="638.58" width="23.3" height="8.02" fill="#09192b"/>
<rect x="195.90" y="645.60" width="23.3" height="7.02" fill="#09192b"/>
<rect x="220.60" y="329.70" width="23.3" height="8.02" fill="#848434"/>
<rect x="220.60" y="336.72" width="23.3" height="8.02" fill="#18180d"/>
<rect x="220.60" y="343.74" width="23.3" height="8.02" fill="#080808"/>
<rect x="220.60" y="350.76" width="23.3" height="8.02" fill="#848434"/>
<rect x="220.60" y="357.78" width="23.3" height="8.02" fill="#080808"/>
<rect x="220.60" y="364.80" width="23.3" height="8.02" fill="#09192b"/>
<rect x="220.60" y="371.82" width="23.3" height="8.02" fill="#18180d"/>
<rect x="220.60" y="378.84" width="23.3" height="8.02" fill="#b9b937"/>
<rect x="220.60" y="385.86" width="23.3" height="8.02" fill="#0a2644"/>
<rect x="220.60" y="392.88" width="23.3" height="8.02" fill="#09192b"/>
<rect x="220.60" y="399.90" width="23.3" height="8.02" fill="#09192b"/>
<rect x="220.60" y="406.92" width="23.3" height="8.02" fill="#09192b"/>
<rect x="220.60" y="413.94" width="23.3" height="8.02" fill="#10325a"/>
<rect x="220.60" y="420.96" width="23.3" height="8.02" fill="#f7ec19"/>
<rect x="220.60" y="427.98" width="23.3" height="8.02" fill="#0a2644"/>
<rect x="220.60" y="435.00" width="23.3" height="8.02" fill="#505023"/>
<rect x="220.60" y="442.02" width="23.3" height="8.02" fill="#10325a"/>
<rect x="220.60" y="449.04" width="23.3" height="8.02" fill="#303017"/>
<rect x="220.60" y="456.06" width="23.3" height="8.02" fill="#0a2644"/>
<rect x="220.60" y="463.08" width="23.3" height="8.02" fill="#081420"/>
<rect x="220.60" y="470.10" width="23.3" height="8.02" fill="#40401d"/>
<rect x="220.60" y="477.12" width="23.3" height="8.02" fill="#40401d"/>
<rect x="220.60" y="484.14" width="23.3" height="8.02" fill="#080808"/>
<rect x="220.60" y="491.16" width="23.3" height="8.02" fill="#0a2644"/>
<rect x="220.60" y="498.18" width="23.3" height="8.02" fill="#242412"/>
<rect x="220.60" y="505.20" width="23.3" height="8.02" fill="#10325a"/>
<rect x="220.60" y="512.22" width="23.3" height="8.02" fill="#848434"/>
<rect x="220.60" y="519.24" width="23.3" height="8.02" fill="#09192b"/>
<rect x="220.60" y="526.26" width="23.3" height="8.02" fill="#505023"/>
<rect x="220.60" y="533.28" width="23.3" height="8.02" fill="#10100a"/>
<rect x="220.60" y="540.30" width="23.3" height="8.02" fill="#09192b"/>
<rect x="220.60" y="547.32" width="23.3" height="8.02" fill="#f7ec19"/>
<rect x="220.60" y="554.34" width="23.3" height="8.02" fill="#8e8e36"/>
<rect x="220.60" y="561.36" width="23.3" height="8.02" fill="#f7ec19"/>
<rect x="220.60" y="568.38" width="23.3" height="8.02" fill="#f7ec19"/>
<rect x="220.60" y="575.40" width="23.3" height="8.02" fill="#f7ec19"/>
<rect x="220.60" y="582.42" width="23.3" height="8.02" fill="#09192b"/>
<rect x="220.60" y="589.44" width="23.3" height="8.02" fill="#09192b"/>
<rect x="220.60" y="596.46" width="23.3" height="8.02" fill="#09192b"/>
<rect x="220.60" y="603.48" width="23.3" height="8.02" fill="#080e16"/>
<rect x="220.60" y="610.50" width="23.3" height="8.02" fill="#080808"/>
<rect x="220.60" y="617.52" width="23.3" height="8.02" fill="#081420"/>
<rect x="220.60" y="624.54" width="23.3" height="8.02" fill="#09192b"/>
<rect x="220.60" y="631.56" width="23.3" height="8.02" fill="#09192b"/>
<rect x="220.60" y="638.58" width="23.3" height="8.02" fill="#09192b"/>
<rect x="220.60" y="645.60" width="23.3" height="7.02" fill="#09192b"/>
<rect x="245.30" y="329.70" width="23.3" height="8.02" fill="#145496"/>
<rect x="245.30" y="336.72" width="23.3" height="8.02" fill="#174a83"/>
<rect x="245.30" y="343.74" width="23.3" height="8.02" fill="#10325a"/>
<rect x="245.30" y="350.76" width="23.3" height="8.02" fill="#09192b"/>
<rect x="245.30" y="357.78" width="23.3" height="8.02" fill="#0a2644"/>
<rect x="245.30" y="364.80" width="23.3" height="8.02" fill="#174a83"/>
<rect x="245.30" y="371.82" width="23.3" height="8.02" fill="#1862af"/>
<rect x="245.30" y="378.84" width="23.3" height="8.02" fill="#145496"/>
<rect x="245.30" y="385.86" width="23.3" height="8.02" fill="#183e6e"/>
<rect x="245.30" y="392.88" width="23.3" height="8.02" fill="#183e6e"/>
<rect x="245.30" y="399.90" width="23.3" height="8.02" fill="#183e6e"/>
<rect x="245.30" y="406.92" width="23.3" height="8.02" fill="#183e6e"/>
<rect x="245.30" y="413.94" width="23.3" height="8.02" fill="#286cbc"/>
<rect x="245.30" y="420.96" width="23.3" height="8.02" fill="#183e6e"/>
<rect x="245.30" y="427.98" width="23.3" height="8.02" fill="#183e6e"/>
<rect x="245.30" y="435.00" width="23.3" height="8.02" fill="#1862af"/>
<rect x="245.30" y="442.02" width="23.3" height="8.02" fill="#080808"/>
<rect x="245.30" y="449.04" width="23.3" height="8.02" fill="#0a2644"/>
<rect x="245.30" y="456.06" width="23.3" height="8.02" fill="#18180d"/>
<rect x="245.30" y="463.08" width="23.3" height="8.02" fill="#40401d"/>
<rect x="245.30" y="470.10" width="23.3" height="8.02" fill="#09192b"/>
<rect x="245.30" y="477.12" width="23.3" height="8.02" fill="#5c5c28"/>
<rect x="245.30" y="484.14" width="23.3" height="8.02" fill="#09192b"/>
<rect x="245.30" y="491.16" width="23.3" height="8.02" fill="#242412"/>
<rect x="245.30" y="498.18" width="23.3" height="8.02" fill="#080e16"/>
<rect x="245.30" y="505.20" width="23.3" height="8.02" fill="#0a2644"/>
<rect x="245.30" y="512.22" width="23.3" height="8.02" fill="#183e6e"/>
<rect x="245.30" y="519.24" width="23.3" height="8.02" fill="#10325a"/>
<rect x="245.30" y="526.26" width="23.3" height="8.02" fill="#242412"/>
<rect x="245.30" y="533.28" width="23.3" height="8.02" fill="#0a2644"/>
<rect x="245.30" y="540.30" width="23.3" height="8.02" fill="#09192b"/>
<rect x="245.30" y="547.32" width="23.3" height="8.02" fill="#080808"/>
<rect x="245.30" y="554.34" width="23.3" height="8.02" fill="#183e6e"/>
<rect x="245.30" y="561.36" width="23.3" height="8.02" fill="#183e6e"/>
<rect x="245.30" y="568.38" width="23.3" height="8.02" fill="#143864"/>
<rect x="245.30" y="575.40" width="23.3" height="8.02" fill="#40401d"/>
<rect x="245.30" y="582.42" width="23.3" height="8.02" fill="#f7ec19"/>
<rect x="245.30" y="589.44" width="23.3" height="8.02" fill="#f7ec19"/>
<rect x="245.30" y="596.46" width="23.3" height="8.02" fill="#f7ec19"/>
<rect x="245.30" y="603.48" width="23.3" height="8.02" fill="#f7ec19"/>
<rect x="245.30" y="610.50" width="23.3" height="8.02" fill="#f7ec19"/>
<rect x="245.30" y="617.52" width="23.3" height="8.02" fill="#09192b"/>
<rect x="245.30" y="624.54" width="23.3" height="8.02" fill="#09192b"/>
<rect x="245.30" y="631.56" width="23.3" height="8.02" fill="#09192b"/>
<rect x="245.30" y="638.58" width="23.3" height="8.02" fill="#09192b"/>
<rect x="245.30" y="645.60" width="23.3" height="7.02" fill="#09192b"/>
<rect x="270.00" y="329.70" width="23.3" height="8.02" fill="#848434"/>
<rect x="270.00" y="336.72" width="23.3" height="8.02" fill="#303017"/>
<rect x="270.00" y="343.74" width="23.3" height="8.02" fill="#f7ec19"/>
<rect x="270.00" y="350.76" width="23.3" height="8.02" fill="#69692c"/>
<rect x="270.00" y="357.78" width="23.3" height="8.02" fill="#0a2644"/>
<rect x="270.00" y="364.80" width="23.3" height="8.02" fill="#18180d"/>
<rect x="270.00" y="371.82" width="23.3" height="8.02" fill="#080e16"/>
<rect x="270.00" y="378.84" width="23.3" height="8.02" fill="#242412"/>
<rect x="270.00" y="385.86" width="23.3" height="8.02" fill="#b9b937"/>
<rect x="270.00" y="392.88" width="23.3" height="8.02" fill="#d4d230"/>
<rect x="270.00" y="399.90" width="23.3" height="8.02" fill="#18180d"/>
<rect x="270.00" y="406.92" width="23.3" height="8.02" fill="#a8a838"/>
<rect x="270.00" y="413.94" width="23.3" height="8.02" fill="#505023"/>
<rect x="270.00" y="420.96" width="23.3" height="8.02" fill="#242412"/>
<rect x="270.00" y="427.98" width="23.3" height="8.02" fill="#0a2644"/>
<rect x="270.00" y="435.00" width="23.3" height="8.02" fill="#d4d230"/>
<rect x="270.00" y="442.02" width="23.3" height="8.02" fill="#242412"/>
<rect x="270.00" y="449.04" width="23.3" height="8.02" fill="#848434"/>
<rect x="270.00" y="456.06" width="23.3" height="8.02" fill="#080e16"/>
<rect x="270.00" y="463.08" width="23.3" height="8.02" fill="#145496"/>
<rect x="270.00" y="470.10" width="23.3" height="8.02" fill="#f7ec19"/>
<rect x="270.00" y="477.12" width="23.3" height="8.02" fill="#0a2644"/>
<rect x="270.00" y="484.14" width="23.3" height="8.02" fill="#0a2644"/>
<rect x="270.00" y="491.16" width="23.3" height="8.02" fill="#09192b"/>
<rect x="270.00" y="498.18" width="23.3" height="8.02" fill="#09192b"/>
<rect x="270.00" y="505.20" width="23.3" height="8.02" fill="#b9b937"/>
<rect x="270.00" y="512.22" width="23.3" height="8.02" fill="#0a2644"/>
<rect x="270.00" y="519.24" width="23.3" height="8.02" fill="#505023"/>
<rect x="270.00" y="526.26" width="23.3" height="8.02" fill="#40401d"/>
<rect x="270.00" y="533.28" width="23.3" height="8.02" fill="#5c5c28"/>
<rect x="270.00" y="540.30" width="23.3" height="8.02" fill="#0a2644"/>
<rect x="270.00" y="547.32" width="23.3" height="8.02" fill="#10325a"/>
<rect x="270.00" y="554.34" width="23.3" height="8.02" fill="#09192b"/>
<rect x="270.00" y="561.36" width="23.3" height="8.02" fill="#f7ec19"/>
<rect x="270.00" y="568.38" width="23.3" height="8.02" fill="#0a2644"/>
<rect x="270.00" y="575.40" width="23.3" height="8.02" fill="#0d2c4f"/>
<rect x="270.00" y="582.42" width="23.3" height="8.02" fill="#09192b"/>
<rect x="270.00" y="589.44" width="23.3" height="8.02" fill="#303017"/>
<rect x="270.00" y="596.46" width="23.3" height="8.02" fill="#080808"/>
<rect x="270.00" y="603.48" width="23.3" height="8.02" fill="#081420"/>
<rect x="270.00" y="610.50" width="23.3" height="8.02" fill="#0a2038"/>
<rect x="270.00" y="617.52" width="23.3" height="8.02" fill="#f7ec19"/>
<rect x="270.00" y="624.54" width="23.3" height="8.02" fill="#f7ec19"/>
<rect x="270.00" y="631.56" width="23.3" height="8.02" fill="#f7ec19"/>
<rect x="270.00" y="638.58" width="23.3" height="8.02" fill="#f7ec19"/>
<rect x="270.00" y="645.60" width="23.3" height="7.02" fill="#f7ec19"/>
<rect x="295.20" y="330.20" width="2.6" height="6.02" fill="#c5e0a8"/>
<rect x="295.20" y="337.22" width="2.6" height="34.10" fill="#f2d0e4"/>
<rect x="295.20" y="372.32" width="2.6" height="34.10" fill="#2d824b"/>
<rect x="295.20" y="407.42" width="2.6" height="27.08" fill="#e1aaaa"/>
<rect x="295.20" y="435.50" width="2.6" height="20.06" fill="#f05f78"/>
<rect x="295.20" y="456.56" width="2.6" height="27.08" fill="#cd283c"/>
<rect x="295.20" y="484.64" width="2.6" height="27.08" fill="#c8825a"/>
<rect x="295.20" y="512.72" width="2.6" height="34.10" fill="#7d4b7d"/>
<rect x="295.20" y="547.82" width="2.6" height="34.10" fill="#2d5f91"/>
<rect x="295.20" y="582.92" width="2.6" height="34.10" fill="#f2c85a"/>
<rect x="295.20" y="618.02" width="2.6" height="34.10" fill="#48505f"/>
<text x="300.20" y="335.71" font-size="6.95" fill="#1a1a1a">CRISPLD1</text>
<text x="300.20" y="342.73" font-size="6.95" fill="#1a1a1a">MFGE8</text>
<text x="300.20" y="349.75" font-size="6.95" fill="#1a1a1a">ELN</text>
<text x="300.20" y="356.77" font-size="6.95" fill="#1a1a1a">FBLN7</text>
<text x="300.20" y="363.79" font-size="6.95" fill="#1a1a1a">TNC</text>
<text x="300.20" y="370.81" font-size="6.95" fill="#1a1a1a">COL4A5</text>
<text x="300.20" y="377.83" font-size="6.95" fill="#1a1a1a">COL11A1</text>
<text x="300.20" y="384.85" font-size="6.95" fill="#1a1a1a">COL22A1</text>
<text x="300.20" y="391.87" font-size="6.95" fill="#1a1a1a">ABI3BP</text>
<text x="300.20" y="398.89" font-size="6.95" fill="#1a1a1a">FBLN5</text>
<text x="300.20" y="405.91" font-size="6.95" fill="#1a1a1a">LTBP1</text>
<text x="300.20" y="412.93" font-size="6.95" fill="#1a1a1a">MFAP4</text>
<text x="300.20" y="419.95" font-size="6.95" fill="#1a1a1a">FBLN1</text>
<text x="300.20" y="426.97" font-size="6.95" fill="#1a1a1a">SMOC1</text>
<text x="300.20" y="433.99" font-size="6.95" fill="#1a1a1a">IGFBPL1</text>
<text x="300.20" y="441.01" font-size="6.95" fill="#1a1a1a">COL9A2</text>
<text x="300.20" y="448.03" font-size="6.95" fill="#1a1a1a">THBS1</text>
<text x="300.20" y="455.05" font-size="6.95" fill="#1a1a1a">EDIL3</text>
<text x="300.20" y="462.07" font-size="6.95" fill="#1a1a1a">NELL2</text>
<text x="300.20" y="469.09" font-size="6.95" fill="#1a1a1a">SPOCK1</text>
<text x="300.20" y="476.11" font-size="6.95" fill="#1a1a1a">COL15A1</text>
<text x="300.20" y="483.13" font-size="6.95" fill="#1a1a1a">SLIT1</text>
<text x="300.20" y="490.15" font-size="6.95" fill="#1a1a1a">LAMB3</text>
<text x="300.20" y="497.17" font-size="6.95" fill="#1a1a1a">NTN4</text>
<text x="300.20" y="504.19" font-size="6.95" fill="#1a1a1a">SPOCK3</text>
<text x="300.20" y="511.21" font-size="6.95" fill="#1a1a1a">SVEP1</text>
<text x="300.20" y="518.23" font-size="6.95" fill="#1a1a1a">NTNG1</text>
<text x="300.20" y="525.25" font-size="6.95" fill="#1a1a1a">COL23A1</text>
<text x="300.20" y="532.27" font-size="6.95" fill="#1a1a1a">FBLN2</text>
<text x="300.20" y="539.29" font-size="6.95" fill="#1a1a1a">SPARCL1</text>
<text x="300.20" y="546.31" font-size="6.95" fill="#1a1a1a">COL25A1</text>
<text x="300.20" y="553.33" font-size="6.95" fill="#1a1a1a">TNR</text>
<text x="300.20" y="560.35" font-size="6.95" fill="#1a1a1a">NTN1</text>
<text x="300.20" y="567.37" font-size="6.95" fill="#1a1a1a">COL9A1</text>
<text x="300.20" y="574.39" font-size="6.95" fill="#1a1a1a">BMPER</text>
<text x="300.20" y="581.41" font-size="6.95" fill="#1a1a1a">EYS</text>
<text x="300.20" y="588.43" font-size="6.95" fill="#1a1a1a">SPP1</text>
<text x="300.20" y="595.45" font-size="6.95" fill="#1a1a1a">SRGN</text>
<text x="300.20" y="602.47" font-size="6.95" fill="#1a1a1a">MMRN1</text>
<text x="300.20" y="609.49" font-size="6.95" fill="#1a1a1a">FGL2</text>
<text x="300.20" y="616.51" font-size="6.95" fill="#1a1a1a">GLDN</text>
<text x="300.20" y="623.53" font-size="6.95" fill="#1a1a1a">BGN</text>
<text x="300.20" y="630.55" font-size="6.95" fill="#1a1a1a">COL4A1</text>
<text x="300.20" y="637.57" font-size="6.95" fill="#1a1a1a">IGFBP7</text>
<text x="300.20" y="644.59" font-size="6.95" fill="#1a1a1a">VWF</text>
<text x="300.20" y="651.61" font-size="6.95" fill="#1a1a1a">LAMC3</text>
<rect x="365.60" y="321.7" width="23.3" height="4.9" fill="#c5e0a8"/>
<text transform="translate(380.25 318.60) rotate(-90)" font-size="8.6" fill="#1a1a1a">vRG</text>
<rect x="390.38" y="321.7" width="23.3" height="4.9" fill="#f2d0e4"/>
<text transform="translate(405.03 318.60) rotate(-90)" font-size="8.6" fill="#1a1a1a">oRG</text>
<rect x="415.16" y="321.7" width="23.3" height="4.9" fill="#2d824b"/>
<text transform="translate(429.81 318.60) rotate(-90)" font-size="8.6" fill="#1a1a1a">tRG</text>
<rect x="439.94" y="321.7" width="23.3" height="4.9" fill="#e1aaaa"/>
<text transform="translate(454.59 318.60) rotate(-90)" font-size="8.6" fill="#1a1a1a">IPC</text>
<rect x="464.72" y="321.7" width="23.3" height="4.9" fill="#f05f78"/>
<text transform="translate(479.37 318.60) rotate(-90)" font-size="8.6" fill="#1a1a1a">Imm.GExN</text>
<rect x="489.50" y="321.7" width="23.3" height="4.9" fill="#cd283c"/>
<text transform="translate(504.15 318.60) rotate(-90)" font-size="8.6" fill="#1a1a1a">M.GExN</text>
<rect x="514.28" y="321.7" width="23.3" height="4.9" fill="#c8825a"/>
<text transform="translate(528.93 318.60) rotate(-90)" font-size="8.6" fill="#1a1a1a">GABA IN</text>
<rect x="539.06" y="321.7" width="23.3" height="4.9" fill="#7d4b7d"/>
<text transform="translate(553.71 318.60) rotate(-90)" font-size="8.6" fill="#1a1a1a">Astrocyte</text>
<rect x="563.84" y="321.7" width="23.3" height="4.9" fill="#2d5f91"/>
<text transform="translate(578.49 318.60) rotate(-90)" font-size="8.6" fill="#1a1a1a">OPC</text>
<rect x="588.62" y="321.7" width="23.3" height="4.9" fill="#f2c85a"/>
<text transform="translate(603.27 318.60) rotate(-90)" font-size="8.6" fill="#1a1a1a">Microglia</text>
<rect x="613.40" y="321.7" width="23.3" height="4.9" fill="#48505f"/>
<text transform="translate(628.05 318.60) rotate(-90)" font-size="8.6" fill="#1a1a1a">Endothelial</text>
<rect x="365.90" y="289.2" width="72.56" height="2.6" fill="#a3c4a0"/>
<text x="402.03" y="285.80" font-size="8.6" text-anchor="middle" fill="#1a1a1a">NSC</text>
<rect x="365.60" y="329.70" width="23.3" height="7.46" fill="#767630"/>
<rect x="365.60" y="336.16" width="23.3" height="7.46" fill="#767630"/>
<rect x="365.60" y="342.62" width="23.3" height="7.46" fill="#a8a838"/>
<rect x="365.60" y="349.08" width="23.3" height="7.46" fill="#303017"/>
<rect x="365.60" y="355.54" width="23.3" height="7.46" fill="#a8a838"/>
<rect x="365.60" y="362.00" width="23.3" height="7.46" fill="#2b2b15"/>
<rect x="365.60" y="368.46" width="23.3" height="7.46" fill="#69692c"/>
<rect x="365.60" y="374.92" width="23.3" height="7.46" fill="#40401d"/>
<rect x="365.60" y="381.38" width="23.3" height="7.46" fill="#09192b"/>
<rect x="365.60" y="387.84" width="23.3" height="7.46" fill="#09192b"/>
<rect x="365.60" y="394.30" width="23.3" height="7.46" fill="#0a2644"/>
<rect x="365.60" y="400.76" width="23.3" height="7.46" fill="#081420"/>
<rect x="365.60" y="407.22" width="23.3" height="7.46" fill="#080808"/>
<rect x="365.60" y="413.68" width="23.3" height="7.46" fill="#0a2644"/>
<rect x="365.60" y="420.14" width="23.3" height="7.46" fill="#09192b"/>
<rect x="365.60" y="426.60" width="23.3" height="7.46" fill="#183e6e"/>
<rect x="365.60" y="433.06" width="23.3" height="7.46" fill="#0a2644"/>
<rect x="365.60" y="439.52" width="23.3" height="7.46" fill="#145496"/>
<rect x="365.60" y="445.98" width="23.3" height="7.46" fill="#183e6e"/>
<rect x="365.60" y="452.44" width="23.3" height="7.46" fill="#143864"/>
<rect x="365.60" y="458.90" width="23.3" height="7.46" fill="#164f8c"/>
<rect x="365.60" y="465.36" width="23.3" height="7.46" fill="#174a83"/>
<rect x="365.60" y="471.82" width="23.3" height="7.46" fill="#174a83"/>
<rect x="365.60" y="478.28" width="23.3" height="7.46" fill="#174a83"/>
<rect x="365.60" y="484.74" width="23.3" height="7.46" fill="#0a2644"/>
<rect x="365.60" y="491.20" width="23.3" height="7.46" fill="#0a2644"/>
<rect x="365.60" y="497.66" width="23.3" height="7.46" fill="#10325a"/>
<rect x="365.60" y="504.12" width="23.3" height="7.46" fill="#09192b"/>
<rect x="365.60" y="510.58" width="23.3" height="7.46" fill="#0a2644"/>
<rect x="365.60" y="517.04" width="23.3" height="7.46" fill="#0a2644"/>
<rect x="365.60" y="523.50" width="23.3" height="7.46" fill="#0a2644"/>
<rect x="365.60" y="529.96" width="23.3" height="7.46" fill="#09192b"/>
<rect x="365.60" y="536.42" width="23.3" height="7.46" fill="#242412"/>
<rect x="365.60" y="542.88" width="23.3" height="7.46" fill="#0a2038"/>
<rect x="365.60" y="549.34" width="23.3" height="7.46" fill="#0a2644"/>
<rect x="365.60" y="555.80" width="23.3" height="7.46" fill="#10325a"/>
<rect x="365.60" y="562.26" width="23.3" height="7.46" fill="#183e6e"/>
<rect x="365.60" y="568.72" width="23.3" height="7.46" fill="#080808"/>
<rect x="365.60" y="575.18" width="23.3" height="7.46" fill="#080e16"/>
<rect x="365.60" y="581.64" width="23.3" height="7.46" fill="#183e6e"/>
<rect x="365.60" y="588.10" width="23.3" height="7.46" fill="#09192b"/>
<rect x="365.60" y="594.56" width="23.3" height="7.46" fill="#09192b"/>
<rect x="365.60" y="601.02" width="23.3" height="7.46" fill="#09192b"/>
<rect x="365.60" y="607.48" width="23.3" height="7.46" fill="#09192b"/>
<rect x="365.60" y="613.94" width="23.3" height="7.46" fill="#09192b"/>
<rect x="365.60" y="620.40" width="23.3" height="7.46" fill="#09192b"/>
<rect x="365.60" y="626.86" width="23.3" height="7.46" fill="#09192b"/>
<rect x="365.60" y="633.32" width="23.3" height="7.46" fill="#09192b"/>
<rect x="365.60" y="639.78" width="23.3" height="7.46" fill="#09192b"/>
<rect x="365.60" y="646.24" width="23.3" height="6.46" fill="#09192b"/>
<rect x="390.38" y="329.70" width="23.3" height="7.46" fill="#505023"/>
<rect x="390.38" y="336.16" width="23.3" height="7.46" fill="#303017"/>
<rect x="390.38" y="342.62" width="23.3" height="7.46" fill="#505023"/>
<rect x="390.38" y="349.08" width="23.3" height="7.46" fill="#989839"/>
<rect x="390.38" y="355.54" width="23.3" height="7.46" fill="#989839"/>
<rect x="390.38" y="362.00" width="23.3" height="7.46" fill="#767630"/>
<rect x="390.38" y="368.46" width="23.3" height="7.46" fill="#f7ec19"/>
<rect x="390.38" y="374.92" width="23.3" height="7.46" fill="#989839"/>
<rect x="390.38" y="381.38" width="23.3" height="7.46" fill="#767630"/>
<rect x="390.38" y="387.84" width="23.3" height="7.46" fill="#69692c"/>
<rect x="390.38" y="394.30" width="23.3" height="7.46" fill="#080808"/>
<rect x="390.38" y="400.76" width="23.3" height="7.46" fill="#303017"/>
<rect x="390.38" y="407.22" width="23.3" height="7.46" fill="#5c5c28"/>
<rect x="390.38" y="413.68" width="23.3" height="7.46" fill="#242412"/>
<rect x="390.38" y="420.14" width="23.3" height="7.46" fill="#080e16"/>
<rect x="390.38" y="426.60" width="23.3" height="7.46" fill="#0a2644"/>
<rect x="390.38" y="433.06" width="23.3" height="7.46" fill="#0a2644"/>
<rect x="390.38" y="439.52" width="23.3" height="7.46" fill="#174a83"/>
<rect x="390.38" y="445.98" width="23.3" height="7.46" fill="#10325a"/>
<rect x="390.38" y="452.44" width="23.3" height="7.46" fill="#183e6e"/>
<rect x="390.38" y="458.90" width="23.3" height="7.46" fill="#143864"/>
<rect x="390.38" y="465.36" width="23.3" height="7.46" fill="#09192b"/>
<rect x="390.38" y="471.82" width="23.3" height="7.46" fill="#09192b"/>
<rect x="390.38" y="478.28" width="23.3" height="7.46" fill="#10325a"/>
<rect x="390.38" y="484.74" width="23.3" height="7.46" fill="#081420"/>
<rect x="390.38" y="491.20" width="23.3" height="7.46" fill="#0a2038"/>
<rect x="390.38" y="497.66" width="23.3" height="7.46" fill="#0a2644"/>
<rect x="390.38" y="504.12" width="23.3" height="7.46" fill="#0a2644"/>
<rect x="390.38" y="510.58" width="23.3" height="7.46" fill="#0a2038"/>
<rect x="390.38" y="517.04" width="23.3" height="7.46" fill="#0a2038"/>
<rect x="390.38" y="523.50" width="23.3" height="7.46" fill="#505023"/>
<rect x="390.38" y="529.96" width="23.3" height="7.46" fill="#69692c"/>
<rect x="390.38" y="536.42" width="23.3" height="7.46" fill="#848434"/>
<rect x="390.38" y="542.88" width="23.3" height="7.46" fill="#080e16"/>
<rect x="390.38" y="549.34" width="23.3" height="7.46" fill="#767630"/>
<rect x="390.38" y="555.80" width="23.3" height="7.46" fill="#242412"/>
<rect x="390.38" y="562.26" width="23.3" height="7.46" fill="#143864"/>
<rect x="390.38" y="568.72" width="23.3" height="7.46" fill="#081420"/>
<rect x="390.38" y="575.18" width="23.3" height="7.46" fill="#09192b"/>
<rect x="390.38" y="581.64" width="23.3" height="7.46" fill="#143864"/>
<rect x="390.38" y="588.10" width="23.3" height="7.46" fill="#09192b"/>
<rect x="390.38" y="594.56" width="23.3" height="7.46" fill="#09192b"/>
<rect x="390.38" y="601.02" width="23.3" height="7.46" fill="#09192b"/>
<rect x="390.38" y="607.48" width="23.3" height="7.46" fill="#09192b"/>
<rect x="390.38" y="613.94" width="23.3" height="7.46" fill="#09192b"/>
<rect x="390.38" y="620.40" width="23.3" height="7.46" fill="#09192b"/>
<rect x="390.38" y="626.86" width="23.3" height="7.46" fill="#09192b"/>
<rect x="390.38" y="633.32" width="23.3" height="7.46" fill="#09192b"/>
<rect x="390.38" y="639.78" width="23.3" height="7.46" fill="#09192b"/>
<rect x="390.38" y="646.24" width="23.3" height="6.46" fill="#09192b"/>
<rect x="415.16" y="329.70" width="23.3" height="7.46" fill="#f7ec19"/>
<rect x="415.16" y="336.16" width="23.3" height="7.46" fill="#989839"/>
<rect x="415.16" y="342.62" width="23.3" height="7.46" fill="#b9b937"/>
<rect x="415.16" y="349.08" width="23.3" height="7.46" fill="#b9b937"/>
<rect x="415.16" y="355.54" width="23.3" height="7.46" fill="#a8a838"/>
<rect x="415.16" y="362.00" width="23.3" height="7.46" fill="#c6c634"/>
<rect x="415.16" y="368.46" width="23.3" height="7.46" fill="#848434"/>
<rect x="415.16" y="374.92" width="23.3" height="7.46" fill="#989839"/>
<rect x="415.16" y="381.38" width="23.3" height="7.46" fill="#a8a838"/>
<rect x="415.16" y="387.84" width="23.3" height="7.46" fill="#989839"/>
<rect x="415.16" y="394.30" width="23.3" height="7.46" fill="#f7ec19"/>
<rect x="415.16" y="400.76" width="23.3" height="7.46" fill="#f7ec19"/>
<rect x="415.16" y="407.22" width="23.3" height="7.46" fill="#f7ec19"/>
<rect x="415.16" y="413.68" width="23.3" height="7.46" fill="#f7ec19"/>
<rect x="415.16" y="420.14" width="23.3" height="7.46" fill="#989839"/>
<rect x="415.16" y="426.60" width="23.3" height="7.46" fill="#183e6e"/>
<rect x="415.16" y="433.06" width="23.3" height="7.46" fill="#145496"/>
<rect x="415.16" y="439.52" width="23.3" height="7.46" fill="#145496"/>
<rect x="415.16" y="445.98" width="23.3" height="7.46" fill="#10325a"/>
<rect x="415.16" y="452.44" width="23.3" height="7.46" fill="#1862af"/>
<rect x="415.16" y="458.90" width="23.3" height="7.46" fill="#183e6e"/>
<rect x="415.16" y="465.36" width="23.3" height="7.46" fill="#10325a"/>
<rect x="415.16" y="471.82" width="23.3" height="7.46" fill="#174a83"/>
<rect x="415.16" y="478.28" width="23.3" height="7.46" fill="#183e6e"/>
<rect x="415.16" y="484.74" width="23.3" height="7.46" fill="#0a2644"/>
<rect x="415.16" y="491.20" width="23.3" height="7.46" fill="#0a2644"/>
<rect x="415.16" y="497.66" width="23.3" height="7.46" fill="#10325a"/>
<rect x="415.16" y="504.12" width="23.3" height="7.46" fill="#0a2644"/>
<rect x="415.16" y="510.58" width="23.3" height="7.46" fill="#10325a"/>
<rect x="415.16" y="517.04" width="23.3" height="7.46" fill="#09192b"/>
<rect x="415.16" y="523.50" width="23.3" height="7.46" fill="#c6c634"/>
<rect x="415.16" y="529.96" width="23.3" height="7.46" fill="#143864"/>
<rect x="415.16" y="536.42" width="23.3" height="7.46" fill="#183e6e"/>
<rect x="415.16" y="542.88" width="23.3" height="7.46" fill="#0a2644"/>
<rect x="415.16" y="549.34" width="23.3" height="7.46" fill="#242412"/>
<rect x="415.16" y="555.80" width="23.3" height="7.46" fill="#09192b"/>
<rect x="415.16" y="562.26" width="23.3" height="7.46" fill="#183e6e"/>
<rect x="415.16" y="568.72" width="23.3" height="7.46" fill="#081420"/>
<rect x="415.16" y="575.18" width="23.3" height="7.46" fill="#081420"/>
<rect x="415.16" y="581.64" width="23.3" height="7.46" fill="#184478"/>
<rect x="415.16" y="588.10" width="23.3" height="7.46" fill="#09192b"/>
<rect x="415.16" y="594.56" width="23.3" height="7.46" fill="#09192b"/>
<rect x="415.16" y="601.02" width="23.3" height="7.46" fill="#09192b"/>
<rect x="415.16" y="607.48" width="23.3" height="7.46" fill="#09192b"/>
<rect x="415.16" y="613.94" width="23.3" height="7.46" fill="#09192b"/>
<rect x="415.16" y="620.40" width="23.3" height="7.46" fill="#09192b"/>
<rect x="415.16" y="626.86" width="23.3" height="7.46" fill="#09192b"/>
<rect x="415.16" y="633.32" width="23.3" height="7.46" fill="#09192b"/>
<rect x="415.16" y="639.78" width="23.3" height="7.46" fill="#09192b"/>
<rect x="415.16" y="646.24" width="23.3" height="6.46" fill="#09192b"/>
<rect x="439.94" y="329.70" width="23.3" height="7.46" fill="#505023"/>
<rect x="439.94" y="336.16" width="23.3" height="7.46" fill="#0a2644"/>
<rect x="439.94" y="342.62" width="23.3" height="7.46" fill="#0a2644"/>
<rect x="439.94" y="349.08" width="23.3" height="7.46" fill="#0a2038"/>
<rect x="439.94" y="355.54" width="23.3" height="7.46" fill="#0a2038"/>
<rect x="439.94" y="362.00" width="23.3" height="7.46" fill="#183e6e"/>
<rect x="439.94" y="368.46" width="23.3" height="7.46" fill="#080e16"/>
<rect x="439.94" y="374.92" width="23.3" height="7.46" fill="#0a2644"/>
<rect x="439.94" y="381.38" width="23.3" height="7.46" fill="#174a83"/>
<rect x="439.94" y="387.84" width="23.3" height="7.46" fill="#183e6e"/>
<rect x="439.94" y="394.30" width="23.3" height="7.46" fill="#183e6e"/>
<rect x="439.94" y="400.76" width="23.3" height="7.46" fill="#0a2644"/>
<rect x="439.94" y="407.22" width="23.3" height="7.46" fill="#0a2644"/>
<rect x="439.94" y="413.68" width="23.3" height="7.46" fill="#0a2644"/>
<rect x="439.94" y="420.14" width="23.3" height="7.46" fill="#174a83"/>
<rect x="439.94" y="426.60" width="23.3" height="7.46" fill="#081420"/>
<rect x="439.94" y="433.06" width="23.3" height="7.46" fill="#848434"/>
<rect x="439.94" y="439.52" width="23.3" height="7.46" fill="#080808"/>
<rect x="439.94" y="445.98" width="23.3" height="7.46" fill="#0a2644"/>
<rect x="439.94" y="452.44" width="23.3" height="7.46" fill="#183e6e"/>
<rect x="439.94" y="458.90" width="23.3" height="7.46" fill="#183e6e"/>
<rect x="439.94" y="465.36" width="23.3" height="7.46" fill="#183e6e"/>
<rect x="439.94" y="471.82" width="23.3" height="7.46" fill="#081420"/>
<rect x="439.94" y="478.28" width="23.3" height="7.46" fill="#183e6e"/>
<rect x="439.94" y="484.74" width="23.3" height="7.46" fill="#0a2644"/>
<rect x="439.94" y="491.20" width="23.3" height="7.46" fill="#0a2644"/>
<rect x="439.94" y="497.66" width="23.3" height="7.46" fill="#10325a"/>
<rect x="439.94" y="504.12" width="23.3" height="7.46" fill="#0a2644"/>
<rect x="439.94" y="510.58" width="23.3" height="7.46" fill="#081420"/>
<rect x="439.94" y="517.04" width="23.3" height="7.46" fill="#09192b"/>
<rect x="439.94" y="523.50" width="23.3" height="7.46" fill="#10325a"/>
<rect x="439.94" y="529.96" width="23.3" height="7.46" fill="#0d2c4f"/>
<rect x="439.94" y="536.42" width="23.3" height="7.46" fill="#143864"/>
<rect x="439.94" y="542.88" width="23.3" height="7.46" fill="#0a2644"/>
<rect x="439.94" y="549.34" width="23.3" height="7.46" fill="#0d2c4f"/>
<rect x="439.94" y="555.80" width="23.3" height="7.46" fill="#143864"/>
<rect x="439.94" y="562.26" width="23.3" height="7.46" fill="#081420"/>
<rect x="439.94" y="568.72" width="23.3" height="7.46" fill="#080808"/>
<rect x="439.94" y="575.18" width="23.3" height="7.46" fill="#09192b"/>
<rect x="439.94" y="581.64" width="23.3" height="7.46" fill="#09192b"/>
<rect x="439.94" y="588.10" width="23.3" height="7.46" fill="#09192b"/>
<rect x="439.94" y="594.56" width="23.3" height="7.46" fill="#09192b"/>
<rect x="439.94" y="601.02" width="23.3" height="7.46" fill="#09192b"/>
<rect x="439.94" y="607.48" width="23.3" height="7.46" fill="#09192b"/>
<rect x="439.94" y="613.94" width="23.3" height="7.46" fill="#09192b"/>
<rect x="439.94" y="620.40" width="23.3" height="7.46" fill="#09192b"/>
<rect x="439.94" y="626.86" width="23.3" height="7.46" fill="#09192b"/>
<rect x="439.94" y="633.32" width="23.3" height="7.46" fill="#09192b"/>
<rect x="439.94" y="639.78" width="23.3" height="7.46" fill="#09192b"/>
<rect x="439.94" y="646.24" width="23.3" height="6.46" fill="#09192b"/>
<rect x="464.72" y="329.70" width="23.3" height="7.46" fill="#164f8c"/>
<rect x="464.72" y="336.16" width="23.3" height="7.46" fill="#165ba2"/>
<rect x="464.72" y="342.62" width="23.3" height="7.46" fill="#174a83"/>
<rect x="464.72" y="349.08" width="23.3" height="7.46" fill="#174a83"/>
<rect x="464.72" y="355.54" width="23.3" height="7.46" fill="#164f8c"/>
<rect x="464.72" y="362.00" width="23.3" height="7.46" fill="#10325a"/>
<rect x="464.72" y="368.46" width="23.3" height="7.46" fill="#174a83"/>
<rect x="464.72" y="374.92" width="23.3" height="7.46" fill="#174a83"/>
<rect x="464.72" y="381.38" width="23.3" height="7.46" fill="#164f8c"/>
<rect x="464.72" y="387.84" width="23.3" height="7.46" fill="#183e6e"/>
<rect x="464.72" y="394.30" width="23.3" height="7.46" fill="#183e6e"/>
<rect x="464.72" y="400.76" width="23.3" height="7.46" fill="#0a2644"/>
<rect x="464.72" y="407.22" width="23.3" height="7.46" fill="#10325a"/>
<rect x="464.72" y="413.68" width="23.3" height="7.46" fill="#10325a"/>
<rect x="464.72" y="420.14" width="23.3" height="7.46" fill="#174a83"/>
<rect x="464.72" y="426.60" width="23.3" height="7.46" fill="#f7ec19"/>
<rect x="464.72" y="433.06" width="23.3" height="7.46" fill="#f7ec19"/>
<rect x="464.72" y="439.52" width="23.3" height="7.46" fill="#8e8e36"/>
<rect x="464.72" y="445.98" width="23.3" height="7.46" fill="#f7ec19"/>
<rect x="464.72" y="452.44" width="23.3" height="7.46" fill="#f7ec19"/>
<rect x="464.72" y="458.90" width="23.3" height="7.46" fill="#0a2644"/>
<rect x="464.72" y="465.36" width="23.3" height="7.46" fill="#40401d"/>
<rect x="464.72" y="471.82" width="23.3" height="7.46" fill="#09192b"/>
<rect x="464.72" y="478.28" width="23.3" height="7.46" fill="#09192b"/>
<rect x="464.72" y="484.74" width="23.3" height="7.46" fill="#0a2038"/>
<rect x="464.72" y="491.20" width="23.3" height="7.46" fill="#09192b"/>
<rect x="464.72" y="497.66" width="23.3" height="7.46" fill="#0a2644"/>
<rect x="464.72" y="504.12" width="23.3" height="7.46" fill="#0a2038"/>
<rect x="464.72" y="510.58" width="23.3" height="7.46" fill="#303017"/>
<rect x="464.72" y="517.04" width="23.3" height="7.46" fill="#09192b"/>
<rect x="464.72" y="523.50" width="23.3" height="7.46" fill="#10325a"/>
<rect x="464.72" y="529.96" width="23.3" height="7.46" fill="#183e6e"/>
<rect x="464.72" y="536.42" width="23.3" height="7.46" fill="#183e6e"/>
<rect x="464.72" y="542.88" width="23.3" height="7.46" fill="#0a2644"/>
<rect x="464.72" y="549.34" width="23.3" height="7.46" fill="#0a2644"/>
<rect x="464.72" y="555.80" width="23.3" height="7.46" fill="#143864"/>
<rect x="464.72" y="562.26" width="23.3" height="7.46" fill="#0a2644"/>
<rect x="464.72" y="568.72" width="23.3" height="7.46" fill="#081420"/>
<rect x="464.72" y="575.18" width="23.3" height="7.46" fill="#0a2038"/>
<rect x="464.72" y="581.64" width="23.3" height="7.46" fill="#0a2644"/>
<rect x="464.72" y="588.10" width="23.3" height="7.46" fill="#09192b"/>
<rect x="464.72" y="594.56" width="23.3" height="7.46" fill="#09192b"/>
<rect x="464.72" y="601.02" width="23.3" height="7.46" fill="#09192b"/>
<rect x="464.72" y="607.48" width="23.3" height="7.46" fill="#09192b"/>
<rect x="464.72" y="613.94" width="23.3" height="7.46" fill="#09192b"/>
<rect x="464.72" y="620.40" width="23.3" height="7.46" fill="#09192b"/>
<rect x="464.72" y="626.86" width="23.3" height="7.46" fill="#09192b"/>
<rect x="464.72" y="633.32" width="23.3" height="7.46" fill="#09192b"/>
<rect x="464.72" y="639.78" width="23.3" height="7.46" fill="#09192b"/>
<rect x="464.72" y="646.24" width="23.3" height="6.46" fill="#09192b"/>
<rect x="489.50" y="329.70" width="23.3" height="7.46" fill="#174a83"/>
<rect x="489.50" y="336.16" width="23.3" height="7.46" fill="#145496"/>
<rect x="489.50" y="342.62" width="23.3" height="7.46" fill="#174a83"/>
<rect x="489.50" y="349.08" width="23.3" height="7.46" fill="#184478"/>
<rect x="489.50" y="355.54" width="23.3" height="7.46" fill="#184478"/>
<rect x="489.50" y="362.00" width="23.3" height="7.46" fill="#0a2644"/>
<rect x="489.50" y="368.46" width="23.3" height="7.46" fill="#184478"/>
<rect x="489.50" y="374.92" width="23.3" height="7.46" fill="#174a83"/>
<rect x="489.50" y="381.38" width="23.3" height="7.46" fill="#174a83"/>
<rect x="489.50" y="387.84" width="23.3" height="7.46" fill="#174a83"/>
<rect x="489.50" y="394.30" width="23.3" height="7.46" fill="#10325a"/>
<rect x="489.50" y="400.76" width="23.3" height="7.46" fill="#0a2038"/>
<rect x="489.50" y="407.22" width="23.3" height="7.46" fill="#10325a"/>
<rect x="489.50" y="413.68" width="23.3" height="7.46" fill="#10325a"/>
<rect x="489.50" y="420.14" width="23.3" height="7.46" fill="#183e6e"/>
<rect x="489.50" y="426.60" width="23.3" height="7.46" fill="#b9b937"/>
<rect x="489.50" y="433.06" width="23.3" height="7.46" fill="#848434"/>
<rect x="489.50" y="439.52" width="23.3" height="7.46" fill="#848434"/>
<rect x="489.50" y="445.98" width="23.3" height="7.46" fill="#989839"/>
<rect x="489.50" y="452.44" width="23.3" height="7.46" fill="#c6c634"/>
<rect x="489.50" y="458.90" width="23.3" height="7.46" fill="#f7ec19"/>
<rect x="489.50" y="465.36" width="23.3" height="7.46" fill="#f7ec19"/>
<rect x="489.50" y="471.82" width="23.3" height="7.46" fill="#f7ec19"/>
<rect x="489.50" y="478.28" width="23.3" height="7.46" fill="#f7ec19"/>
<rect x="489.50" y="484.74" width="23.3" height="7.46" fill="#f7ec19"/>
<rect x="489.50" y="491.20" width="23.3" height="7.46" fill="#080e16"/>
<rect x="489.50" y="497.66" width="23.3" height="7.46" fill="#080b0f"/>
<rect x="489.50" y="504.12" width="23.3" height="7.46" fill="#080808"/>
<rect x="489.50" y="510.58" width="23.3" height="7.46" fill="#18180d"/>
<rect x="489.50" y="517.04" width="23.3" height="7.46" fill="#18180d"/>
<rect x="489.50" y="523.50" width="23.3" height="7.46" fill="#0a2644"/>
<rect x="489.50" y="529.96" width="23.3" height="7.46" fill="#0a2038"/>
<rect x="489.50" y="536.42" width="23.3" height="7.46" fill="#0a2644"/>
<rect x="489.50" y="542.88" width="23.3" height="7.46" fill="#0a2644"/>
<rect x="489.50" y="549.34" width="23.3" height="7.46" fill="#0a2038"/>
<rect x="489.50" y="555.80" width="23.3" height="7.46" fill="#10325a"/>
<rect x="489.50" y="562.26" width="23.3" height="7.46" fill="#080e16"/>
<rect x="489.50" y="568.72" width="23.3" height="7.46" fill="#0a2644"/>
<rect x="489.50" y="575.18" width="23.3" height="7.46" fill="#09192b"/>
<rect x="489.50" y="581.64" width="23.3" height="7.46" fill="#505023"/>
<rect x="489.50" y="588.10" width="23.3" height="7.46" fill="#09192b"/>
<rect x="489.50" y="594.56" width="23.3" height="7.46" fill="#09192b"/>
<rect x="489.50" y="601.02" width="23.3" height="7.46" fill="#09192b"/>
<rect x="489.50" y="607.48" width="23.3" height="7.46" fill="#09192b"/>
<rect x="489.50" y="613.94" width="23.3" height="7.46" fill="#09192b"/>
<rect x="489.50" y="620.40" width="23.3" height="7.46" fill="#09192b"/>
<rect x="489.50" y="626.86" width="23.3" height="7.46" fill="#09192b"/>
<rect x="489.50" y="633.32" width="23.3" height="7.46" fill="#09192b"/>
<rect x="489.50" y="639.78" width="23.3" height="7.46" fill="#09192b"/>
<rect x="489.50" y="646.24" width="23.3" height="6.46" fill="#09192b"/>
<rect x="514.28" y="329.70" width="23.3" height="7.46" fill="#0d2c4f"/>
<rect x="514.28" y="336.16" width="23.3" height="7.46" fill="#165ba2"/>
<rect x="514.28" y="342.62" width="23.3" height="7.46" fill="#174a83"/>
<rect x="514.28" y="349.08" width="23.3" height="7.46" fill="#174a83"/>
<rect x="514.28" y="355.54" width="23.3" height="7.46" fill="#164f8c"/>
<rect x="514.28" y="362.00" width="23.3" height="7.46" fill="#184478"/>
<rect x="514.28" y="368.46" width="23.3" height="7.46" fill="#184478"/>
<rect x="514.28" y="374.92" width="23.3" height="7.46" fill="#165ba2"/>
<rect x="514.28" y="381.38" width="23.3" height="7.46" fill="#174a83"/>
<rect x="514.28" y="387.84" width="23.3" height="7.46" fill="#184478"/>
<rect x="514.28" y="394.30" width="23.3" height="7.46" fill="#0a2644"/>
<rect x="514.28" y="400.76" width="23.3" height="7.46" fill="#081420"/>
<rect x="514.28" y="407.22" width="23.3" height="7.46" fill="#0d2c4f"/>
<rect x="514.28" y="413.68" width="23.3" height="7.46" fill="#0d2c4f"/>
<rect x="514.28" y="420.14" width="23.3" height="7.46" fill="#767630"/>
<rect x="514.28" y="426.60" width="23.3" height="7.46" fill="#0a2038"/>
<rect x="514.28" y="433.06" width="23.3" height="7.46" fill="#242412"/>
<rect x="514.28" y="439.52" width="23.3" height="7.46" fill="#080e16"/>
<rect x="514.28" y="445.98" width="23.3" height="7.46" fill="#0a2038"/>
<rect x="514.28" y="452.44" width="23.3" height="7.46" fill="#303017"/>
<rect x="514.28" y="458.90" width="23.3" height="7.46" fill="#10100a"/>
<rect x="514.28" y="465.36" width="23.3" height="7.46" fill="#0a2644"/>
<rect x="514.28" y="471.82" width="23.3" height="7.46" fill="#0a2644"/>
<rect x="514.28" y="478.28" width="23.3" height="7.46" fill="#10100a"/>
<rect x="514.28" y="484.74" width="23.3" height="7.46" fill="#69692c"/>
<rect x="514.28" y="491.20" width="23.3" height="7.46" fill="#f7ec19"/>
<rect x="514.28" y="497.66" width="23.3" height="7.46" fill="#f7ec19"/>
<rect x="514.28" y="504.12" width="23.3" height="7.46" fill="#f7ec19"/>
<rect x="514.28" y="510.58" width="23.3" height="7.46" fill="#f7ec19"/>
<rect x="514.28" y="517.04" width="23.3" height="7.46" fill="#f7ec19"/>
<rect x="514.28" y="523.50" width="23.3" height="7.46" fill="#10325a"/>
<rect x="514.28" y="529.96" width="23.3" height="7.46" fill="#10325a"/>
<rect x="514.28" y="536.42" width="23.3" height="7.46" fill="#10325a"/>
<rect x="514.28" y="542.88" width="23.3" height="7.46" fill="#0a2644"/>
<rect x="514.28" y="549.34" width="23.3" height="7.46" fill="#0a2644"/>
<rect x="514.28" y="555.80" width="23.3" height="7.46" fill="#0a2644"/>
<rect x="514.28" y="562.26" width="23.3" height="7.46" fill="#0a2038"/>
<rect x="514.28" y="568.72" width="23.3" height="7.46" fill="#0a2644"/>
<rect x="514.28" y="575.18" width="23.3" height="7.46" fill="#0a2644"/>
<rect x="514.28" y="581.64" width="23.3" height="7.46" fill="#303017"/>
<rect x="514.28" y="588.10" width="23.3" height="7.46" fill="#09192b"/>
<rect x="514.28" y="594.56" width="23.3" height="7.46" fill="#09192b"/>
<rect x="514.28" y="601.02" width="23.3" height="7.46" fill="#09192b"/>
<rect x="514.28" y="607.48" width="23.3" height="7.46" fill="#09192b"/>
<rect x="514.28" y="613.94" width="23.3" height="7.46" fill="#09192b"/>
<rect x="514.28" y="620.40" width="23.3" height="7.46" fill="#09192b"/>
<rect x="514.28" y="626.86" width="23.3" height="7.46" fill="#09192b"/>
<rect x="514.28" y="633.32" width="23.3" height="7.46" fill="#09192b"/>
<rect x="514.28" y="639.78" width="23.3" height="7.46" fill="#09192b"/>
<rect x="514.28" y="646.24" width="23.3" height="6.46" fill="#09192b"/>
<rect x="539.06" y="329.70" width="23.3" height="7.46" fill="#18180d"/>
<rect x="539.06" y="336.16" width="23.3" height="7.46" fill="#303017"/>
<rect x="539.06" y="342.62" width="23.3" height="7.46" fill="#8e8e36"/>
<rect x="539.06" y="349.08" width="23.3" height="7.46" fill="#d4d230"/>
<rect x="539.06" y="355.54" width="23.3" height="7.46" fill="#989839"/>
<rect x="539.06" y="362.00" width="23.3" height="7.46" fill="#f7ec19"/>
<rect x="539.06" y="368.46" width="23.3" height="7.46" fill="#69692c"/>
<rect x="539.06" y="374.92" width="23.3" height="7.46" fill="#b9b937"/>
<rect x="539.06" y="381.38" width="23.3" height="7.46" fill="#f7ec19"/>
<rect x="539.06" y="387.84" width="23.3" height="7.46" fill="#f7ec19"/>
<rect x="539.06" y="394.30" width="23.3" height="7.46" fill="#b9b937"/>
<rect x="539.06" y="400.76" width="23.3" height="7.46" fill="#18180d"/>
<rect x="539.06" y="407.22" width="23.3" height="7.46" fill="#505023"/>
<rect x="539.06" y="413.68" width="23.3" height="7.46" fill="#c6c634"/>
<rect x="539.06" y="420.14" width="23.3" height="7.46" fill="#40401d"/>
<rect x="539.06" y="426.60" width="23.3" height="7.46" fill="#183e6e"/>
<rect x="539.06" y="433.06" width="23.3" height="7.46" fill="#143864"/>
<rect x="539.06" y="439.52" width="23.3" height="7.46" fill="#0a2038"/>
<rect x="539.06" y="445.98" width="23.3" height="7.46" fill="#0a2644"/>
<rect x="539.06" y="452.44" width="23.3" height="7.46" fill="#080808"/>
<rect x="539.06" y="458.90" width="23.3" height="7.46" fill="#0a2038"/>
<rect x="539.06" y="465.36" width="23.3" height="7.46" fill="#081420"/>
<rect x="539.06" y="471.82" width="23.3" height="7.46" fill="#080808"/>
<rect x="539.06" y="478.28" width="23.3" height="7.46" fill="#09192b"/>
<rect x="539.06" y="484.74" width="23.3" height="7.46" fill="#09192b"/>
<rect x="539.06" y="491.20" width="23.3" height="7.46" fill="#0a2038"/>
<rect x="539.06" y="497.66" width="23.3" height="7.46" fill="#18180d"/>
<rect x="539.06" y="504.12" width="23.3" height="7.46" fill="#0a2644"/>
<rect x="539.06" y="510.58" width="23.3" height="7.46" fill="#10325a"/>
<rect x="539.06" y="517.04" width="23.3" height="7.46" fill="#09192b"/>
<rect x="539.06" y="523.50" width="23.3" height="7.46" fill="#f7ec19"/>
<rect x="539.06" y="529.96" width="23.3" height="7.46" fill="#f7ec19"/>
<rect x="539.06" y="536.42" width="23.3" height="7.46" fill="#f7ec19"/>
<rect x="539.06" y="542.88" width="23.3" height="7.46" fill="#f7ec19"/>
<rect x="539.06" y="549.34" width="23.3" height="7.46" fill="#f7ec19"/>
<rect x="539.06" y="555.80" width="23.3" height="7.46" fill="#767630"/>
<rect x="539.06" y="562.26" width="23.3" height="7.46" fill="#5c5c28"/>
<rect x="539.06" y="568.72" width="23.3" height="7.46" fill="#080e16"/>
<rect x="539.06" y="575.18" width="23.3" height="7.46" fill="#09192b"/>
<rect x="539.06" y="581.64" width="23.3" height="7.46" fill="#40401d"/>
<rect x="539.06" y="588.10" width="23.3" height="7.46" fill="#09192b"/>
<rect x="539.06" y="594.56" width="23.3" height="7.46" fill="#09192b"/>
<rect x="539.06" y="601.02" width="23.3" height="7.46" fill="#09192b"/>
<rect x="539.06" y="607.48" width="23.3" height="7.46" fill="#09192b"/>
<rect x="539.06" y="613.94" width="23.3" height="7.46" fill="#09192b"/>
<rect x="539.06" y="620.40" width="23.3" height="7.46" fill="#09192b"/>
<rect x="539.06" y="626.86" width="23.3" height="7.46" fill="#09192b"/>
<rect x="539.06" y="633.32" width="23.3" height="7.46" fill="#09192b"/>
<rect x="539.06" y="639.78" width="23.3" height="7.46" fill="#09192b"/>
<rect x="539.06" y="646.24" width="23.3" height="6.46" fill="#09192b"/>
<rect x="563.84" y="329.70" width="23.3" height="7.46" fill="#10325a"/>
<rect x="563.84" y="336.16" width="23.3" height="7.46" fill="#080808"/>
<rect x="563.84" y="342.62" width="23.3" height="7.46" fill="#18180d"/>
<rect x="563.84" y="349.08" width="23.3" height="7.46" fill="#505023"/>
<rect x="563.84" y="355.54" width="23.3" height="7.46" fill="#18180d"/>
<rect x="563.84" y="362.00" width="23.3" height="7.46" fill="#18180d"/>
<rect x="563.84" y="368.46" width="23.3" height="7.46" fill="#0a2644"/>
<rect x="563.84" y="374.92" width="23.3" height="7.46" fill="#40401d"/>
<rect x="563.84" y="381.38" width="23.3" height="7.46" fill="#242412"/>
<rect x="563.84" y="387.84" width="23.3" height="7.46" fill="#40401d"/>
<rect x="563.84" y="394.30" width="23.3" height="7.46" fill="#09192b"/>
<rect x="563.84" y="400.76" width="23.3" height="7.46" fill="#09192b"/>
<rect x="563.84" y="407.22" width="23.3" height="7.46" fill="#09192b"/>
<rect x="563.84" y="413.68" width="23.3" height="7.46" fill="#09192b"/>
<rect x="563.84" y="420.14" width="23.3" height="7.46" fill="#e6df24"/>
<rect x="563.84" y="426.60" width="23.3" height="7.46" fill="#10325a"/>
<rect x="563.84" y="433.06" width="23.3" height="7.46" fill="#183e6e"/>
<rect x="563.84" y="439.52" width="23.3" height="7.46" fill="#143864"/>
<rect x="563.84" y="445.98" width="23.3" height="7.46" fill="#0a2644"/>
<rect x="563.84" y="452.44" width="23.3" height="7.46" fill="#0a2644"/>
<rect x="563.84" y="458.90" width="23.3" height="7.46" fill="#080e16"/>
<rect x="563.84" y="465.36" width="23.3" height="7.46" fill="#0a2038"/>
<rect x="563.84" y="471.82" width="23.3" height="7.46" fill="#0a2644"/>
<rect x="563.84" y="478.28" width="23.3" height="7.46" fill="#18180d"/>
<rect x="563.84" y="484.74" width="23.3" height="7.46" fill="#081420"/>
<rect x="563.84" y="491.20" width="23.3" height="7.46" fill="#303017"/>
<rect x="563.84" y="497.66" width="23.3" height="7.46" fill="#18180d"/>
<rect x="563.84" y="504.12" width="23.3" height="7.46" fill="#09192b"/>
<rect x="563.84" y="510.58" width="23.3" height="7.46" fill="#080808"/>
<rect x="563.84" y="517.04" width="23.3" height="7.46" fill="#09192b"/>
<rect x="563.84" y="523.50" width="23.3" height="7.46" fill="#09192b"/>
<rect x="563.84" y="529.96" width="23.3" height="7.46" fill="#09192b"/>
<rect x="563.84" y="536.42" width="23.3" height="7.46" fill="#8e8e36"/>
<rect x="563.84" y="542.88" width="23.3" height="7.46" fill="#f7ec19"/>
<rect x="563.84" y="549.34" width="23.3" height="7.46" fill="#0a2644"/>
<rect x="563.84" y="555.80" width="23.3" height="7.46" fill="#f7ec19"/>
<rect x="563.84" y="562.26" width="23.3" height="7.46" fill="#f7ec19"/>
<rect x="563.84" y="568.72" width="23.3" height="7.46" fill="#f7ec19"/>
<rect x="563.84" y="575.18" width="23.3" height="7.46" fill="#f7ec19"/>
<rect x="563.84" y="581.64" width="23.3" height="7.46" fill="#f7ec19"/>
<rect x="563.84" y="588.10" width="23.3" height="7.46" fill="#09192b"/>
<rect x="563.84" y="594.56" width="23.3" height="7.46" fill="#09192b"/>
<rect x="563.84" y="601.02" width="23.3" height="7.46" fill="#09192b"/>
<rect x="563.84" y="607.48" width="23.3" height="7.46" fill="#09192b"/>
<rect x="563.84" y="613.94" width="23.3" height="7.46" fill="#09192b"/>
<rect x="563.84" y="620.40" width="23.3" height="7.46" fill="#081420"/>
<rect x="563.84" y="626.86" width="23.3" height="7.46" fill="#09192b"/>
<rect x="563.84" y="633.32" width="23.3" height="7.46" fill="#09192b"/>
<rect x="563.84" y="639.78" width="23.3" height="7.46" fill="#09192b"/>
<rect x="563.84" y="646.24" width="23.3" height="6.46" fill="#09192b"/>
<rect x="588.62" y="329.70" width="23.3" height="7.46" fill="#183e6e"/>
<rect x="588.62" y="336.16" width="23.3" height="7.46" fill="#505023"/>
<rect x="588.62" y="342.62" width="23.3" height="7.46" fill="#164f8c"/>
<rect x="588.62" y="349.08" width="23.3" height="7.46" fill="#184478"/>
<rect x="588.62" y="355.54" width="23.3" height="7.46" fill="#145496"/>
<rect x="588.62" y="362.00" width="23.3" height="7.46" fill="#183e6e"/>
<rect x="588.62" y="368.46" width="23.3" height="7.46" fill="#184478"/>
<rect x="588.62" y="374.92" width="23.3" height="7.46" fill="#164f8c"/>
<rect x="588.62" y="381.38" width="23.3" height="7.46" fill="#18180d"/>
<rect x="588.62" y="387.84" width="23.3" height="7.46" fill="#10325a"/>
<rect x="588.62" y="394.30" width="23.3" height="7.46" fill="#0a2644"/>
<rect x="588.62" y="400.76" width="23.3" height="7.46" fill="#0a2644"/>
<rect x="588.62" y="407.22" width="23.3" height="7.46" fill="#0a2644"/>
<rect x="588.62" y="413.68" width="23.3" height="7.46" fill="#0d2c4f"/>
<rect x="588.62" y="420.14" width="23.3" height="7.46" fill="#165ba2"/>
<rect x="588.62" y="426.60" width="23.3" height="7.46" fill="#18180d"/>
<rect x="588.62" y="433.06" width="23.3" height="7.46" fill="#09192b"/>
<rect x="588.62" y="439.52" width="23.3" height="7.46" fill="#09192b"/>
<rect x="588.62" y="445.98" width="23.3" height="7.46" fill="#080808"/>
<rect x="588.62" y="452.44" width="23.3" height="7.46" fill="#080e16"/>
<rect x="588.62" y="458.90" width="23.3" height="7.46" fill="#505023"/>
<rect x="588.62" y="465.36" width="23.3" height="7.46" fill="#69692c"/>
<rect x="588.62" y="471.82" width="23.3" height="7.46" fill="#5c5c28"/>
<rect x="588.62" y="478.28" width="23.3" height="7.46" fill="#303017"/>
<rect x="588.62" y="484.74" width="23.3" height="7.46" fill="#09192b"/>
<rect x="588.62" y="491.20" width="23.3" height="7.46" fill="#18180d"/>
<rect x="588.62" y="497.66" width="23.3" height="7.46" fill="#080808"/>
<rect x="588.62" y="504.12" width="23.3" height="7.46" fill="#505023"/>
<rect x="588.62" y="510.58" width="23.3" height="7.46" fill="#0a2644"/>
<rect x="588.62" y="517.04" width="23.3" height="7.46" fill="#0a2038"/>
<rect x="588.62" y="523.50" width="23.3" height="7.46" fill="#10325a"/>
<rect x="588.62" y="529.96" width="23.3" height="7.46" fill="#183e6e"/>
<rect x="588.62" y="536.42" width="23.3" height="7.46" fill="#143864"/>
<rect x="588.62" y="542.88" width="23.3" height="7.46" fill="#183e6e"/>
<rect x="588.62" y="549.34" width="23.3" height="7.46" fill="#10325a"/>
<rect x="588.62" y="555.80" width="23.3" height="7.46" fill="#080e16"/>
<rect x="588.62" y="562.26" width="23.3" height="7.46" fill="#0a2644"/>
<rect x="588.62" y="568.72" width="23.3" height="7.46" fill="#0a2644"/>
<rect x="588.62" y="575.18" width="23.3" height="7.46" fill="#0a2038"/>
<rect x="588.62" y="581.64" width="23.3" height="7.46" fill="#164f8c"/>
<rect x="588.62" y="588.10" width="23.3" height="7.46" fill="#f7ec19"/>
<rect x="588.62" y="594.56" width="23.3" height="7.46" fill="#f7ec19"/>
<rect x="588.62" y="601.02" width="23.3" height="7.46" fill="#f7ec19"/>
<rect x="588.62" y="607.48" width="23.3" height="7.46" fill="#f7ec19"/>
<rect x="588.62" y="613.94" width="23.3" height="7.46" fill="#f7ec19"/>
<rect x="588.62" y="620.40" width="23.3" height="7.46" fill="#081420"/>
<rect x="588.62" y="626.86" width="23.3" height="7.46" fill="#18180d"/>
<rect x="588.62" y="633.32" width="23.3" height="7.46" fill="#081420"/>
<rect x="588.62" y="639.78" width="23.3" height="7.46" fill="#080e16"/>
<rect x="588.62" y="646.24" width="23.3" height="6.46" fill="#09192b"/>
<rect x="613.40" y="329.70" width="23.3" height="7.46" fill="#505023"/>
<rect x="613.40" y="336.16" width="23.3" height="7.46" fill="#d4d230"/>
<rect x="613.40" y="342.62" width="23.3" height="7.46" fill="#69692c"/>
<rect x="613.40" y="349.08" width="23.3" height="7.46" fill="#081420"/>
<rect x="613.40" y="355.54" width="23.3" height="7.46" fill="#080e16"/>
<rect x="613.40" y="362.00" width="23.3" height="7.46" fill="#0a2644"/>
<rect x="613.40" y="368.46" width="23.3" height="7.46" fill="#18180d"/>
<rect x="613.40" y="374.92" width="23.3" height="7.46" fill="#40401d"/>
<rect x="613.40" y="381.38" width="23.3" height="7.46" fill="#242412"/>
<rect x="613.40" y="387.84" width="23.3" height="7.46" fill="#303017"/>
<rect x="613.40" y="394.30" width="23.3" height="7.46" fill="#69692c"/>
<rect x="613.40" y="400.76" width="23.3" height="7.46" fill="#0a2038"/>
<rect x="613.40" y="407.22" width="23.3" height="7.46" fill="#09192b"/>
<rect x="613.40" y="413.68" width="23.3" height="7.46" fill="#09192b"/>
<rect x="613.40" y="420.14" width="23.3" height="7.46" fill="#69692c"/>
<rect x="613.40" y="426.60" width="23.3" height="7.46" fill="#10325a"/>
<rect x="613.40" y="433.06" width="23.3" height="7.46" fill="#143864"/>
<rect x="613.40" y="439.52" width="23.3" height="7.46" fill="#f7ec19"/>
<rect x="613.40" y="445.98" width="23.3" height="7.46" fill="#081420"/>
<rect x="613.40" y="452.44" width="23.3" height="7.46" fill="#080e16"/>
<rect x="613.40" y="458.90" width="23.3" height="7.46" fill="#080e16"/>
<rect x="613.40" y="465.36" width="23.3" height="7.46" fill="#10325a"/>
<rect x="613.40" y="471.82" width="23.3" height="7.46" fill="#0a2644"/>
<rect x="613.40" y="478.28" width="23.3" height="7.46" fill="#c6c634"/>
<rect x="613.40" y="484.74" width="23.3" height="7.46" fill="#10325a"/>
<rect x="613.40" y="491.20" width="23.3" height="7.46" fill="#0a2644"/>
<rect x="613.40" y="497.66" width="23.3" height="7.46" fill="#18180d"/>
<rect x="613.40" y="504.12" width="23.3" height="7.46" fill="#0a2038"/>
<rect x="613.40" y="510.58" width="23.3" height="7.46" fill="#0a2644"/>
<rect x="613.40" y="517.04" width="23.3" height="7.46" fill="#0a2038"/>
<rect x="613.40" y="523.50" width="23.3" height="7.46" fill="#0a2038"/>
<rect x="613.40" y="529.96" width="23.3" height="7.46" fill="#b9b937"/>
<rect x="613.40" y="536.42" width="23.3" height="7.46" fill="#080808"/>
<rect x="613.40" y="542.88" width="23.3" height="7.46" fill="#081420"/>
<rect x="613.40" y="549.34" width="23.3" height="7.46" fill="#18180d"/>
<rect x="613.40" y="555.80" width="23.3" height="7.46" fill="#242412"/>
<rect x="613.40" y="562.26" width="23.3" height="7.46" fill="#242412"/>
<rect x="613.40" y="568.72" width="23.3" height="7.46" fill="#09192b"/>
<rect x="613.40" y="575.18" width="23.3" height="7.46" fill="#080e16"/>
<rect x="613.40" y="581.64" width="23.3" height="7.46" fill="#18180d"/>
<rect x="613.40" y="588.10" width="23.3" height="7.46" fill="#09192b"/>
<rect x="613.40" y="594.56" width="23.3" height="7.46" fill="#091c30"/>
<rect x="613.40" y="601.02" width="23.3" height="7.46" fill="#09192b"/>
<rect x="613.40" y="607.48" width="23.3" height="7.46" fill="#09192b"/>
<rect x="613.40" y="613.94" width="23.3" height="7.46" fill="#09192b"/>
<rect x="613.40" y="620.40" width="23.3" height="7.46" fill="#f7ec19"/>
<rect x="613.40" y="626.86" width="23.3" height="7.46" fill="#f7ec19"/>
<rect x="613.40" y="633.32" width="23.3" height="7.46" fill="#f7ec19"/>
<rect x="613.40" y="639.78" width="23.3" height="7.46" fill="#f7ec19"/>
<rect x="613.40" y="646.24" width="23.3" height="6.46" fill="#f7ec19"/>
<rect x="638.60" y="330.20" width="2.6" height="31.30" fill="#c5e0a8"/>
<rect x="638.60" y="362.50" width="2.6" height="31.30" fill="#f2d0e4"/>
<rect x="638.60" y="394.80" width="2.6" height="31.30" fill="#2d824b"/>
<rect x="638.60" y="427.10" width="2.6" height="31.30" fill="#f05f78"/>
<rect x="638.60" y="459.40" width="2.6" height="31.30" fill="#cd283c"/>
<rect x="638.60" y="491.70" width="2.6" height="31.30" fill="#c8825a"/>
<rect x="638.60" y="524.00" width="2.6" height="31.30" fill="#7d4b7d"/>
<rect x="638.60" y="556.30" width="2.6" height="31.30" fill="#2d5f91"/>
<rect x="638.60" y="588.60" width="2.6" height="31.30" fill="#f2c85a"/>
<rect x="638.60" y="620.90" width="2.6" height="31.30" fill="#48505f"/>
<text x="643.60" y="336.30" font-size="6.95" fill="#1a1a1a">SDC2</text>
<text x="643.60" y="342.74" font-size="6.95" fill="#1a1a1a">LGALS1</text>
<text x="643.60" y="349.18" font-size="6.95" fill="#1a1a1a">SFRP2</text>
<text x="643.60" y="355.62" font-size="6.95" fill="#1a1a1a">BMP7</text>
<text x="643.60" y="362.06" font-size="6.95" fill="#1a1a1a">ADAMTS6</text>
<text x="643.60" y="368.50" font-size="6.95" fill="#1a1a1a">FGFBP3</text>
<text x="643.60" y="374.94" font-size="6.95" fill="#1a1a1a">HMSD</text>
<text x="643.60" y="381.38" font-size="6.95" fill="#1a1a1a">PTN</text>
<text x="643.60" y="387.82" font-size="6.95" fill="#1a1a1a">S100A13</text>
<text x="643.60" y="394.26" font-size="6.95" fill="#1a1a1a">S100A16</text>
<text x="643.60" y="400.70" font-size="6.95" fill="#1a1a1a">ANGPT1</text>
<text x="643.60" y="407.14" font-size="6.95" fill="#1a1a1a">C1QL2</text>
<text x="643.60" y="413.58" font-size="6.95" fill="#1a1a1a">HGF</text>
<text x="643.60" y="420.02" font-size="6.95" fill="#1a1a1a">S100A2</text>
<text x="643.60" y="426.46" font-size="6.95" fill="#1a1a1a">SEMA3D</text>
<text x="643.60" y="432.90" font-size="6.95" fill="#1a1a1a">SEMA3C</text>
<text x="643.60" y="439.34" font-size="6.95" fill="#1a1a1a">PLXNA2</text>
<text x="643.60" y="445.78" font-size="6.95" fill="#1a1a1a">ADAMTS7</text>
<text x="643.60" y="452.22" font-size="6.95" fill="#1a1a1a">PRSS12</text>
<text x="643.60" y="458.66" font-size="6.95" fill="#1a1a1a">SEMA3F</text>
<text x="643.60" y="465.10" font-size="6.95" fill="#1a1a1a">SERPINI1</text>
<text x="643.60" y="471.54" font-size="6.95" fill="#1a1a1a">CCBE1</text>
<text x="643.60" y="477.98" font-size="6.95" fill="#1a1a1a">CBLN2</text>
<text x="643.60" y="484.42" font-size="6.95" fill="#1a1a1a">ADAMTSL3</text>
<text x="643.60" y="490.86" font-size="6.95" fill="#1a1a1a">C1QL3</text>
<text x="643.60" y="497.30" font-size="6.95" fill="#1a1a1a">BRINP2</text>
<text x="643.60" y="503.74" font-size="6.95" fill="#1a1a1a">ELFN1</text>
<text x="643.60" y="510.18" font-size="6.95" fill="#1a1a1a">BMP3</text>
<text x="643.60" y="516.62" font-size="6.95" fill="#1a1a1a">ADAMTS5</text>
<text x="643.60" y="523.06" font-size="6.95" fill="#1a1a1a">CRHBP</text>
<text x="643.60" y="529.50" font-size="6.95" fill="#1a1a1a">IL12A</text>
<text x="643.60" y="535.94" font-size="6.95" fill="#1a1a1a">ADAMTS2</text>
<text x="643.60" y="542.38" font-size="6.95" fill="#1a1a1a">WIF1</text>
<text x="643.60" y="548.82" font-size="6.95" fill="#1a1a1a">TIMP4</text>
<text x="643.60" y="555.26" font-size="6.95" fill="#1a1a1a">GPC5</text>
<text x="643.60" y="561.70" font-size="6.95" fill="#1a1a1a">S100B</text>
<text x="643.60" y="568.14" font-size="6.95" fill="#1a1a1a">SULF2</text>
<text x="643.60" y="574.58" font-size="6.95" fill="#1a1a1a">ANGPTL2</text>
<text x="643.60" y="581.02" font-size="6.95" fill="#1a1a1a">BMP8B</text>
<text x="643.60" y="587.46" font-size="6.95" fill="#1a1a1a">MEGF11</text>
<text x="643.60" y="593.90" font-size="6.95" fill="#1a1a1a">CCL4</text>
<text x="643.60" y="600.34" font-size="6.95" fill="#1a1a1a">CCL3</text>
<text x="643.60" y="606.78" font-size="6.95" fill="#1a1a1a">CCL4L2</text>
<text x="643.60" y="613.22" font-size="6.95" fill="#1a1a1a">C1QC</text>
<text x="643.60" y="619.66" font-size="6.95" fill="#1a1a1a">C1QB</text>
<text x="643.60" y="626.10" font-size="6.95" fill="#1a1a1a">ITIH5</text>
<text x="643.60" y="632.54" font-size="6.95" fill="#1a1a1a">PLXDC1</text>
<text x="643.60" y="638.98" font-size="6.95" fill="#1a1a1a">EMCN</text>
<text x="643.60" y="645.42" font-size="6.95" fill="#1a1a1a">SEMA3G</text>
<text x="643.60" y="651.86" font-size="6.95" fill="#1a1a1a">SERPINE1</text>
<text transform="translate(19.60 481.80) rotate(-90)" font-size="10" text-anchor="middle" fill="#1a1a1a">Core Matrisome</text>
<text transform="translate(362.90 479.00) rotate(-90)" font-size="10" text-anchor="middle" fill="#1a1a1a">Matrisome-associated</text>
<defs><linearGradient id="lg" x1="0" x2="1" y1="0" y2="0"><stop offset="0" stop-color="#2f74c2"/><stop offset="0.25" stop-color="#18467d"/><stop offset="0.5" stop-color="#080808"/><stop offset="0.75" stop-color="#84843a"/><stop offset="1" stop-color="#f7ec19"/></linearGradient></defs>
<rect x="331.7" y="664.8" width="58.4" height="8.4" fill="url(#lg)"/>
<path d="M332.30,664.8 L332.30,666.3" stroke="#fff" stroke-width="0.6"/>
<text x="331.70" y="682.30" font-size="8.7" text-anchor="middle" fill="#1a1a1a">-2</text>
<path d="M346.75,664.8 L346.75,666.3" stroke="#fff" stroke-width="0.6"/>
<text x="346.15" y="682.30" font-size="8.7" text-anchor="middle" fill="#1a1a1a">-1</text>
<path d="M361.20,664.8 L361.20,666.3" stroke="#fff" stroke-width="0.6"/>
<text x="361.40" y="682.30" font-size="8.7" text-anchor="middle" fill="#1a1a1a">0</text>
<path d="M375.65,664.8 L375.65,666.3" stroke="#fff" stroke-width="0.6"/>
<text x="375.85" y="682.30" font-size="8.7" text-anchor="middle" fill="#1a1a1a">1</text>
<path d="M390.10,664.8 L390.10,666.3" stroke="#fff" stroke-width="0.6"/>
<text x="390.30" y="682.30" font-size="8.7" text-anchor="middle" fill="#1a1a1a">2</text>
<text x="326.60" y="671.90" font-size="8.9" text-anchor="end" fill="#1a1a1a">Relative expression</text>
<text x="-0.40" y="715.70" font-size="14" font-weight="bold" fill="#000">d</text>
<path d="M218.2,872.6 L365.0,872.6 M238.6,865.8 L385.4,865.8 M259.0,859.1 L405.8,859.1 M279.4,852.3 L426.2,852.3 M299.8,845.6 L446.6,845.6 M320.2,838.8 L467.0,838.8" stroke="#f4f4f4" stroke-width="0.5" fill="none"/>
<path d="M234.5,879.3 L377.3,832.1 M271.2,879.3 L414.0,832.1 M307.9,879.3 L450.7,832.1" stroke="#e4e4e4" stroke-width="0.5" fill="none"/>
<path d="M197.8,786.6 L340.6,739.4 L487.4,739.4 M340.6,739.4 L340.6,832.1" stroke="#ececec" stroke-width="0.6" fill="none"/>
<path d="M197.8,879.3 L340.6,832.1 L487.4,832.1" stroke="#555" stroke-width="0.6" fill="none"/>
<path d="M487.4,832.1 L487.4,785.7" stroke="#dcdcdc" stroke-width="0.6" fill="none"/>
<rect x="215.3" y="701.7" width="50.8" height="113.3" fill="#96c3aa"/>
<rect x="283.6" y="710.4" width="48.2" height="110.4" fill="#fae6f2"/>
<rect x="351.9" y="716" width="45.8" height="111.6" fill="#e2f0d4"/><rect x="394.4" y="716" width="3.3" height="111.6" fill="#d6e9c6"/>
<text x="218.80" y="711.40" font-size="8.7" fill="#111">NRG3</text>
<text x="218.80" y="722.23" font-size="8.7" fill="#111">ANGPTL6</text>
<text x="218.80" y="733.06" font-size="8.7" fill="#111">CELA2B</text>
<text x="218.80" y="743.89" font-size="8.7" fill="#111">VIT</text>
<text x="218.80" y="754.72" font-size="8.7" fill="#111">KY</text>
<text x="218.80" y="765.55" font-size="8.7" fill="#111">CLEC5A</text>
<text x="218.80" y="776.38" font-size="8.7" fill="#111">FGFBP2</text>
<text x="218.80" y="787.21" font-size="8.7" fill="#111">ITIH2</text>
<text x="218.80" y="798.04" font-size="8.7" fill="#111">ANXA13</text>
<text x="218.80" y="808.87" font-size="8.7" fill="#111">HRNR</text>
<text x="288.00" y="721.90" font-size="8.7" fill="#111">SPARCL1</text>
<text x="288.00" y="732.58" font-size="8.7" fill="#111">DCN</text>
<text x="288.00" y="743.26" font-size="8.7" fill="#111">LGI1</text>
<text x="288.00" y="753.94" font-size="8.7" fill="#111">CXCL14</text>
<text x="288.00" y="764.62" font-size="8.7" fill="#111">NPNT</text>
<text x="288.00" y="775.30" font-size="8.7" fill="#111">SPON1</text>
<text x="288.00" y="785.98" font-size="8.7" fill="#111">S100B</text>
<text x="288.00" y="796.66" font-size="8.7" fill="#111">FBLN2</text>
<text x="288.00" y="807.34" font-size="8.7" fill="#111">ASPN</text>
<text x="288.00" y="818.02" font-size="8.7" fill="#111">CST3</text>
<text x="357.70" y="726.40" font-size="8.7" fill="#111">SMOC1</text>
<text x="357.70" y="737.10" font-size="8.7" fill="#111">IGFBPL1</text>
<text x="357.70" y="747.80" font-size="8.7" fill="#111">MFAP4</text>
<text x="357.70" y="758.50" font-size="8.7" fill="#111">RELN</text>
<text x="357.70" y="769.20" font-size="8.7" fill="#111">LGALS1</text>
<text x="357.70" y="779.90" font-size="8.7" fill="#111">COL1A2</text>
<text x="357.70" y="790.60" font-size="8.7" fill="#111">FGF13</text>
<text x="357.70" y="801.30" font-size="8.7" fill="#111">GPC2</text>
<text x="357.70" y="812.00" font-size="8.7" fill="#111">FBLN1</text>
<text x="357.70" y="822.70" font-size="8.7" fill="#111">HAPLN1</text>
<path d="M197.6,788.5 L215.3,701.9 M201.5,826.5 L204.5,826.5 L215.3,815 M284.6,820.8 L284.6,836.8 L258.2,848.6 L258.2,854.4 M331.6,820.8 L331.6,831.7 M351.8,827.4 L351.8,833 L237.8,869.8 L237.8,875 M397.4,827.4 L397.4,843.9 L329.6,867.6 L329.6,873.5" stroke="#444" stroke-width="0.6" fill="none"/>
<path d="M197.8,786.6 L197.8,879.3 L345.7,879.3 L488.5,832.1" stroke="#333" stroke-width="0.7" fill="none"/>
<path d="M196.3,879.30 L199.3,879.30" stroke="#333" stroke-width="0.6"/>
<text x="187.30" y="882.40" font-size="8.7" text-anchor="end" fill="#1a1a1a">0</text>
<path d="M196.3,863.85 L199.3,863.85" stroke="#333" stroke-width="0.6"/>
<text x="187.30" y="866.95" font-size="8.7" text-anchor="end" fill="#1a1a1a">1</text>
<path d="M196.3,848.40 L199.3,848.40" stroke="#333" stroke-width="0.6"/>
<text x="187.30" y="851.50" font-size="8.7" text-anchor="end" fill="#1a1a1a">2</text>
<path d="M196.3,832.95 L199.3,832.95" stroke="#333" stroke-width="0.6"/>
<text x="187.30" y="836.05" font-size="8.7" text-anchor="end" fill="#1a1a1a">3</text>
<path d="M196.3,817.50 L199.3,817.50" stroke="#333" stroke-width="0.6"/>
<text x="187.30" y="820.60" font-size="8.7" text-anchor="end" fill="#1a1a1a">4</text>
<path d="M196.3,802.05 L199.3,802.05" stroke="#333" stroke-width="0.6"/>
<text x="187.30" y="805.15" font-size="8.7" text-anchor="end" fill="#1a1a1a">5</text>
<path d="M196.3,786.60 L199.3,786.60" stroke="#333" stroke-width="0.6"/>
<text x="187.30" y="789.70" font-size="8.7" text-anchor="end" fill="#1a1a1a">6</text>
<path d="M197.80,877.8 L197.80,880.5" stroke="#333" stroke-width="0.6"/>
<text x="198.40" y="890.80" font-size="8.7" text-anchor="middle" fill="#1a1a1a">0.0</text>
<path d="M234.50,877.8 L234.50,880.5" stroke="#333" stroke-width="0.6"/>
<text x="235.10" y="890.80" font-size="8.7" text-anchor="middle" fill="#1a1a1a">0.5</text>
<path d="M271.20,877.8 L271.20,880.5" stroke="#333" stroke-width="0.6"/>
<text x="271.80" y="890.80" font-size="8.7" text-anchor="middle" fill="#1a1a1a">1.0</text>
<path d="M307.90,877.8 L307.90,880.5" stroke="#333" stroke-width="0.6"/>
<text x="308.50" y="890.80" font-size="8.7" text-anchor="middle" fill="#1a1a1a">1.5</text>
<path d="M344.60,877.8 L344.60,880.5" stroke="#333" stroke-width="0.6"/>
<text x="344.80" y="891.00" font-size="8.7" text-anchor="middle" fill="#1a1a1a">2.0</text>
<text x="362.90" y="883.70" font-size="8.7" text-anchor="middle" fill="#1a1a1a">0.0</text>
<text x="383.30" y="876.96" font-size="8.7" text-anchor="middle" fill="#1a1a1a">0.5</text>
<text x="403.70" y="870.22" font-size="8.7" text-anchor="middle" fill="#1a1a1a">1.0</text>
<text x="424.10" y="863.48" font-size="8.7" text-anchor="middle" fill="#1a1a1a">1.5</text>
<text x="444.50" y="856.74" font-size="8.7" text-anchor="middle" fill="#1a1a1a">2.0</text>
<text x="464.90" y="850.00" font-size="8.7" text-anchor="middle" fill="#1a1a1a">2.5</text>
<text x="485.30" y="843.26" font-size="8.7" text-anchor="middle" fill="#1a1a1a">3.0</text>
<text x="505.70" y="836.52" font-size="8.7" text-anchor="middle" fill="#1a1a1a">3.5</text>
<text x="271.40" y="904.00" font-size="8.9" text-anchor="middle" fill="#1a1a1a">log2FC vRG</text>
<text transform="translate(172.60 833.00) rotate(-90)" font-size="8.9" text-anchor="middle" fill="#1a1a1a">log2FC tRG</text>
<text transform="translate(436.30 873.80) rotate(-18.3)" font-size="8.9" text-anchor="middle" fill="#1a1a1a">log2FC oRG</text>
<g fill="#f2d0e4"><circle cx="326.6" cy="836.3" r="1.9"/><circle cx="288.4" cy="848.3" r="1.9"/><circle cx="285.7" cy="849.2" r="1.9"/><circle cx="281.0" cy="851.3" r="1.9"/><circle cx="267.3" cy="856.2" r="1.9"/><circle cx="263.0" cy="857.0" r="1.9"/><circle cx="260.3" cy="857.9" r="1.9"/><circle cx="257.0" cy="859.0" r="1.9"/><circle cx="253.0" cy="860.2" r="1.9"/><circle cx="249.0" cy="861.4" r="1.9"/><circle cx="245.4" cy="862.3" r="1.9"/><circle cx="241.0" cy="864.0" r="1.9"/><circle cx="236.0" cy="866.0" r="1.9"/><circle cx="231.0" cy="867.6" r="1.9"/><circle cx="226.0" cy="869.3" r="1.9"/><circle cx="221.0" cy="871.0" r="1.9"/><circle cx="216.0" cy="872.5" r="1.9"/><circle cx="211.3" cy="873.7" r="1.9"/><circle cx="206.0" cy="875.5" r="1.9"/></g>
<g fill="#a9c6aa"><circle cx="217.0" cy="858.5" r="1.9"/><circle cx="201.2" cy="868.0" r="1.9"/><circle cx="201.6" cy="866.3" r="1.9"/><circle cx="213.3" cy="864.6" r="1.9"/><circle cx="220.0" cy="869.1" r="1.9"/><circle cx="200.8" cy="855.4" r="1.9"/><circle cx="208.8" cy="864.2" r="1.9"/><circle cx="218.5" cy="870.2" r="1.9"/><circle cx="201.3" cy="871.0" r="1.9"/><circle cx="206.1" cy="869.1" r="1.9"/><circle cx="218.6" cy="872.4" r="1.9"/><circle cx="209.2" cy="863.4" r="1.9"/><circle cx="218.2" cy="875.8" r="1.9"/><circle cx="228.2" cy="866.9" r="1.9"/><circle cx="203.2" cy="871.5" r="1.9"/><circle cx="221.3" cy="860.0" r="1.9"/><circle cx="218.2" cy="862.2" r="1.9"/><circle cx="218.9" cy="870.1" r="1.9"/><circle cx="214.3" cy="857.8" r="1.9"/><circle cx="201.3" cy="869.0" r="1.9"/><circle cx="212.0" cy="866.8" r="1.9"/><circle cx="204.8" cy="867.4" r="1.9"/><circle cx="201.2" cy="865.8" r="1.9"/><circle cx="212.2" cy="869.6" r="1.9"/><circle cx="201.9" cy="873.9" r="1.9"/><circle cx="226.3" cy="863.6" r="1.9"/><circle cx="208.5" cy="871.4" r="1.9"/><circle cx="205.1" cy="865.6" r="1.9"/><circle cx="199.4" cy="871.6" r="1.9"/><circle cx="230.7" cy="863.1" r="1.9"/><circle cx="229.0" cy="872.7" r="1.9"/><circle cx="228.2" cy="864.2" r="1.9"/><circle cx="202.7" cy="872.4" r="1.9"/><circle cx="201.3" cy="862.1" r="1.9"/><circle cx="199.3" cy="864.4" r="1.9"/><circle cx="200.1" cy="863.7" r="1.9"/><circle cx="219.6" cy="863.2" r="1.9"/><circle cx="227.3" cy="858.9" r="1.9"/><circle cx="202.1" cy="866.5" r="1.9"/><circle cx="200.0" cy="854.0" r="1.9"/><circle cx="216.7" cy="859.7" r="1.9"/><circle cx="204.8" cy="870.9" r="1.9"/><circle cx="226.1" cy="871.9" r="1.9"/><circle cx="227.4" cy="862.0" r="1.9"/><circle cx="206.8" cy="877.4" r="1.9"/><circle cx="211.0" cy="864.6" r="1.9"/><circle cx="207.8" cy="865.9" r="1.9"/><circle cx="231.9" cy="861.2" r="1.9"/><circle cx="211.3" cy="865.3" r="1.9"/><circle cx="206.0" cy="861.6" r="1.9"/><circle cx="229.0" cy="862.2" r="1.9"/><circle cx="221.1" cy="856.6" r="1.9"/><circle cx="225.3" cy="871.9" r="1.9"/><circle cx="212.3" cy="856.0" r="1.9"/><circle cx="204.3" cy="870.1" r="1.9"/><circle cx="225.9" cy="858.8" r="1.9"/><circle cx="221.0" cy="856.5" r="1.9"/><circle cx="217.4" cy="865.4" r="1.9"/><circle cx="220.7" cy="865.4" r="1.9"/><circle cx="207.6" cy="867.5" r="1.9"/><circle cx="207.8" cy="861.5" r="1.9"/><circle cx="203.6" cy="861.0" r="1.9"/><circle cx="218.5" cy="869.4" r="1.9"/><circle cx="213.2" cy="859.5" r="1.9"/><circle cx="213.8" cy="865.9" r="1.9"/><circle cx="205.0" cy="865.6" r="1.9"/><circle cx="223.2" cy="871.6" r="1.9"/><circle cx="217.6" cy="868.2" r="1.9"/><circle cx="202.8" cy="870.7" r="1.9"/><circle cx="224.8" cy="868.0" r="1.9"/><circle cx="217.8" cy="865.3" r="1.9"/><circle cx="216.0" cy="876.1" r="1.9"/><circle cx="216.9" cy="866.9" r="1.9"/><circle cx="230.4" cy="870.3" r="1.9"/><circle cx="203.3" cy="870.5" r="1.9"/><circle cx="201.7" cy="866.0" r="1.9"/><circle cx="225.2" cy="863.6" r="1.9"/><circle cx="204.4" cy="868.2" r="1.9"/><circle cx="228.4" cy="875.5" r="1.9"/><circle cx="206.5" cy="859.9" r="1.9"/><circle cx="232.0" cy="868.1" r="1.9"/><circle cx="204.6" cy="873.3" r="1.9"/><circle cx="205.7" cy="862.9" r="1.9"/><circle cx="223.1" cy="858.0" r="1.9"/><circle cx="199.9" cy="865.2" r="1.9"/><circle cx="219.9" cy="868.5" r="1.9"/><circle cx="225.3" cy="866.3" r="1.9"/><circle cx="202.7" cy="866.3" r="1.9"/><circle cx="213.2" cy="856.0" r="1.9"/><circle cx="204.2" cy="872.5" r="1.9"/><circle cx="222.0" cy="868.8" r="1.9"/><circle cx="201.7" cy="857.6" r="1.9"/><circle cx="202.0" cy="869.6" r="1.9"/><circle cx="201.5" cy="861.5" r="1.9"/><circle cx="217.5" cy="871.6" r="1.9"/><circle cx="208.1" cy="860.7" r="1.9"/><circle cx="202.9" cy="860.4" r="1.9"/><circle cx="200.9" cy="864.5" r="1.9"/><circle cx="223.5" cy="870.2" r="1.9"/><circle cx="226.3" cy="873.1" r="1.9"/><circle cx="212.3" cy="863.0" r="1.9"/><circle cx="222.0" cy="860.3" r="1.9"/><circle cx="222.6" cy="866.8" r="1.9"/><circle cx="201.6" cy="864.4" r="1.9"/><circle cx="207.7" cy="864.8" r="1.9"/><circle cx="228.0" cy="863.8" r="1.9"/><circle cx="208.6" cy="865.9" r="1.9"/><circle cx="204.5" cy="860.8" r="1.9"/><circle cx="211.9" cy="860.5" r="1.9"/><circle cx="212.5" cy="864.8" r="1.9"/><circle cx="207.0" cy="865.8" r="1.9"/><circle cx="216.7" cy="866.1" r="1.9"/><circle cx="210.0" cy="862.5" r="1.9"/><circle cx="226.9" cy="859.1" r="1.9"/><circle cx="225.8" cy="866.5" r="1.9"/><circle cx="218.6" cy="858.5" r="1.9"/><circle cx="203.7" cy="868.1" r="1.9"/><circle cx="217.7" cy="863.8" r="1.9"/><circle cx="225.6" cy="873.0" r="1.9"/><circle cx="201.7" cy="867.2" r="1.9"/><circle cx="223.7" cy="855.7" r="1.9"/><circle cx="215.6" cy="871.7" r="1.9"/><circle cx="224.6" cy="861.2" r="1.9"/><circle cx="218.0" cy="863.9" r="1.9"/><circle cx="221.5" cy="866.0" r="1.9"/><circle cx="221.6" cy="868.2" r="1.9"/><circle cx="228.8" cy="860.5" r="1.9"/><circle cx="214.4" cy="858.9" r="1.9"/><circle cx="206.2" cy="862.0" r="1.9"/><circle cx="203.9" cy="867.7" r="1.9"/><circle cx="230.7" cy="858.1" r="1.9"/><circle cx="228.6" cy="857.3" r="1.9"/><circle cx="199.4" cy="870.7" r="1.9"/><circle cx="214.2" cy="867.3" r="1.9"/><circle cx="209.7" cy="862.8" r="1.9"/><circle cx="199.3" cy="866.1" r="1.9"/><circle cx="222.8" cy="861.8" r="1.9"/><circle cx="212.2" cy="869.3" r="1.9"/><circle cx="218.7" cy="870.6" r="1.9"/><circle cx="200.9" cy="860.9" r="1.9"/><circle cx="216.1" cy="863.9" r="1.9"/><circle cx="228.5" cy="860.3" r="1.9"/><circle cx="220.1" cy="853.0" r="1.9"/><circle cx="223.5" cy="876.5" r="1.9"/><circle cx="209.1" cy="860.9" r="1.9"/><circle cx="217.7" cy="856.7" r="1.9"/><circle cx="204.8" cy="863.8" r="1.9"/><circle cx="210.6" cy="862.1" r="1.9"/><circle cx="218.1" cy="863.6" r="1.9"/><circle cx="224.0" cy="871.9" r="1.9"/><circle cx="260.0" cy="832.2" r="1.9"/><circle cx="256.0" cy="847.9" r="1.9"/><circle cx="284.0" cy="847.1" r="1.9"/><circle cx="252.1" cy="855.8" r="1.9"/><circle cx="264.7" cy="854.4" r="1.9"/><circle cx="262.1" cy="855.6" r="1.9"/><circle cx="249.8" cy="861.4" r="1.9"/><circle cx="253.9" cy="870.7" r="1.9"/><circle cx="246.0" cy="874.6" r="1.9"/><circle cx="287.5" cy="876.0" r="1.9"/><circle cx="235.8" cy="848.3" r="1.9"/><circle cx="238.4" cy="852.3" r="1.9"/><circle cx="239.3" cy="857.0" r="1.9"/><circle cx="237.6" cy="860.9" r="1.9"/><circle cx="241.1" cy="862.0" r="1.9"/><circle cx="229.3" cy="853.9" r="1.9"/><circle cx="217.4" cy="848.6" r="1.9"/><circle cx="220.0" cy="848.6" r="1.9"/><circle cx="203.9" cy="847.9" r="1.9"/><circle cx="199.4" cy="846.5" r="1.9"/><circle cx="235.8" cy="865.8" r="1.9"/><circle cx="234.9" cy="871.0" r="1.9"/><circle cx="228.8" cy="875.4" r="1.9"/><circle cx="231.4" cy="876.7" r="1.9"/><circle cx="201.0" cy="858.0" r="1.9"/><circle cx="200.5" cy="866.0" r="1.9"/></g>
<g fill="#c5e0a8"><circle cx="206.0" cy="879.2" r="1.9"/><circle cx="208.0" cy="879.2" r="1.9"/><circle cx="210.0" cy="879.2" r="1.9"/><circle cx="212.0" cy="879.2" r="1.9"/><circle cx="214.0" cy="879.2" r="1.9"/><circle cx="216.5" cy="879.2" r="1.9"/><circle cx="220.0" cy="879.2" r="1.9"/><circle cx="222.2" cy="879.2" r="1.9"/><circle cx="224.4" cy="879.2" r="1.9"/><circle cx="235.8" cy="879.2" r="1.9"/><circle cx="237.6" cy="879.2" r="1.9"/><circle cx="239.3" cy="879.2" r="1.9"/><circle cx="246.3" cy="879.2" r="1.9"/><circle cx="248.0" cy="879.2" r="1.9"/><circle cx="249.8" cy="879.2" r="1.9"/><circle cx="251.6" cy="879.2" r="1.9"/><circle cx="265.6" cy="879.2" r="1.9"/><circle cx="269.6" cy="879.2" r="1.9"/><circle cx="282.2" cy="879.2" r="1.9"/><circle cx="313.6" cy="879.2" r="1.9"/><circle cx="327.4" cy="879.2" r="1.9"/></g>
<rect x="195.5" y="820" width="4.4" height="61" rx="2.2" fill="#2d824b"/>
<g fill="#2d824b"><circle cx="197.5" cy="788.7" r="1.9"/></g>
<circle cx="450.3" cy="733.3" r="1.9" fill="#a9c6aa"/>
<text x="456.40" y="736.20" font-size="8.7" fill="#1a1a1a">Shared</text>
<circle cx="450.3" cy="747.5" r="1.9" fill="#c5e0a8"/>
<text x="456.4" y="750.40" font-size="8.7" fill="#1a1a1a">vRG (<tspan font-style="italic">n</tspan> = 37)</text>
<circle cx="450.3" cy="761.7" r="1.9" fill="#f2d0e4"/>
<text x="456.4" y="764.60" font-size="8.7" fill="#1a1a1a">oRG (<tspan font-style="italic">n</tspan> = 35)</text>
<circle cx="450.3" cy="775.9" r="1.9" fill="#2d824b"/>
<text x="456.4" y="778.80" font-size="8.7" fill="#1a1a1a">tRG (<tspan font-style="italic">n</tspan> = 24)</text>
</svg>
</body></html>
